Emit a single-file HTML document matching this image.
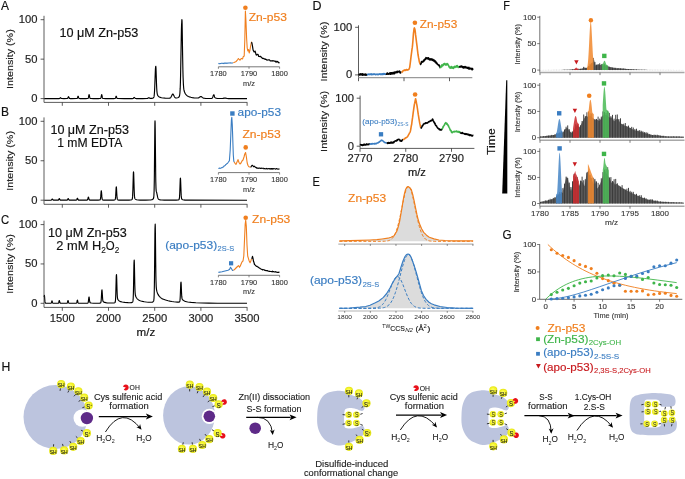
<!DOCTYPE html>
<html><head><meta charset="utf-8"><title>Figure</title>
<style>
html,body{margin:0;padding:0;background:#fff;}
body{width:685px;height:479px;overflow:hidden;}
svg{display:block;font-family:"Liberation Sans",sans-serif;will-change:transform;}
</style></head><body>
<svg width="685" height="479" viewBox="0 0 685 479">
<rect width="685" height="479" fill="#fff"/>
<polyline points="44.20,98.60 59.20,98.57 59.50,98.52 59.70,98.44 59.90,98.27 60.30,97.76 60.50,97.65 60.70,97.76 61.20,98.36 61.40,98.49 61.60,98.54 63.90,98.59 67.10,98.54 67.50,98.44 67.70,98.26 67.90,97.91 68.30,96.86 68.40,96.69 68.50,96.62 68.60,96.69 68.70,96.86 69.20,98.11 69.40,98.37 69.70,98.52 70.30,98.56 71.90,98.58 76.60,98.54 77.00,98.46 77.30,98.20 77.50,97.78 77.90,96.51 78.00,96.30 78.10,96.23 78.20,96.30 78.30,96.51 78.80,98.02 79.00,98.32 79.30,98.50 80.10,98.56 82.20,98.58 85.90,98.57 87.50,98.52 87.80,98.47 88.00,98.38 88.20,98.15 88.30,97.93 88.50,97.23 88.90,95.12 89.00,94.77 89.10,94.65 89.20,94.77 89.30,95.12 89.70,97.23 90.00,98.15 90.10,98.29 90.30,98.43 91.00,98.54 93.30,98.58 98.40,98.57 99.90,98.53 100.50,98.43 100.70,98.29 100.80,98.15 101.00,97.63 101.50,95.12 101.60,94.77 101.70,94.65 101.80,94.77 101.90,95.12 102.30,97.23 102.50,97.93 102.60,98.15 102.80,98.38 103.10,98.49 103.50,98.53 105.50,98.58 111.00,98.59 113.80,98.57 114.90,98.52 115.20,98.41 115.40,98.20 115.60,97.77 116.00,96.51 116.10,96.30 116.20,96.23 116.30,96.30 116.40,96.51 116.80,97.77 117.00,98.20 117.30,98.46 117.80,98.55 124.00,98.59 132.70,98.55 133.10,98.48 133.40,98.32 134.10,97.49 134.30,97.40 134.50,97.49 135.00,98.12 135.30,98.38 135.60,98.50 136.10,98.55 142.70,98.56 147.00,98.50 147.40,98.45 147.70,98.35 148.50,97.82 148.80,97.71 149.10,97.80 149.80,98.26 150.30,98.39 151.60,98.34 152.80,98.13 153.40,97.85 153.60,97.66 153.80,97.32 154.00,96.67 154.10,96.16 154.30,94.55 154.50,91.87 154.70,87.84 155.40,69.23 155.50,67.95 155.60,67.51 155.70,66.40 155.80,66.29 155.90,67.03 156.00,68.43 156.50,83.67 156.70,88.07 156.90,91.09 157.10,93.00 157.30,94.15 157.60,95.12 158.00,95.82 158.60,96.47 159.40,97.03 160.30,97.42 161.50,97.74 163.10,97.99 165.20,98.16 167.80,98.24 169.40,98.18 169.80,98.10 170.20,97.94 170.50,97.72 170.80,97.40 171.30,96.57 172.30,94.44 172.60,94.08 172.80,94.00 173.00,94.07 173.30,94.43 174.20,96.31 174.60,97.03 174.90,97.42 175.30,97.75 175.60,97.89 175.90,97.96 176.70,97.95 177.60,97.77 178.40,97.44 178.90,97.05 179.20,96.65 179.40,96.21 179.60,95.47 179.90,93.25 180.20,88.40 180.40,82.82 180.60,74.86 181.40,29.92 181.60,23.94 181.70,23.15 181.80,20.50 181.90,19.65 182.00,20.40 182.10,22.48 182.60,54.49 182.90,70.20 183.10,77.59 183.40,84.57 183.70,88.24 183.90,89.66 184.20,91.04 184.60,92.24 185.00,93.12 185.50,93.98 186.00,94.66 186.70,95.38 187.50,95.98 188.40,96.48 189.50,96.92 190.80,97.29 192.30,97.58 194.10,97.83 196.10,98.00 197.40,98.03 198.30,97.90 199.00,97.60 200.30,96.73 200.60,96.61 200.90,96.58 201.20,96.64 201.50,96.78 202.60,97.61 203.10,97.93 203.60,98.14 204.20,98.29 205.30,98.39 207.80,98.45 210.50,98.47 211.70,98.40 212.00,98.31 212.20,98.18 212.50,97.77 212.80,97.04 213.30,95.45 213.50,95.08 213.60,95.03 213.70,94.84 213.80,94.76 213.90,94.78 214.00,94.88 214.60,96.94 214.80,97.38 215.00,97.67 215.30,97.93 215.60,98.06 216.20,98.21 217.10,98.34 219.30,98.49 222.00,98.51 222.90,98.43 224.40,98.09 225.00,98.02 225.60,98.09 227.20,98.46 228.50,98.56 247.00,98.59" fill="none" stroke="#000" stroke-width="1.15" stroke-linejoin="round"/>
<line x1="44.00" y1="15.80" x2="44.00" y2="102.40" stroke="#333" stroke-width="0.8"/>
<line x1="44.00" y1="102.40" x2="247.30" y2="102.40" stroke="#333" stroke-width="0.8"/>
<line x1="40.60" y1="19.70" x2="44.00" y2="19.70" stroke="#333" stroke-width="0.8"/>
<text x="18.89" y="23.20" font-size="10.29" fill="#222" textLength="18.71" lengthAdjust="spacingAndGlyphs" stroke="#222" stroke-width="0.16">100</text>
<line x1="40.60" y1="59.15" x2="44.00" y2="59.15" stroke="#333" stroke-width="0.8"/>
<text x="25.13" y="62.65" font-size="10.29" fill="#222" textLength="12.47" lengthAdjust="spacingAndGlyphs" stroke="#222" stroke-width="0.16">50</text>
<line x1="40.60" y1="98.60" x2="44.00" y2="98.60" stroke="#333" stroke-width="0.8"/>
<text x="31.36" y="102.10" font-size="10.29" fill="#222" textLength="6.24" lengthAdjust="spacingAndGlyphs" stroke="#222" stroke-width="0.16">0</text>
<line x1="62.30" y1="102.40" x2="62.30" y2="105.80" stroke="#333" stroke-width="0.8"/>
<line x1="108.50" y1="102.40" x2="108.50" y2="105.80" stroke="#333" stroke-width="0.8"/>
<line x1="154.70" y1="102.40" x2="154.70" y2="105.80" stroke="#333" stroke-width="0.8"/>
<line x1="200.90" y1="102.40" x2="200.90" y2="105.80" stroke="#333" stroke-width="0.8"/>
<line x1="247.10" y1="102.40" x2="247.10" y2="105.80" stroke="#333" stroke-width="0.8"/>
<text x="-16.60" y="59.10" font-size="9.97" fill="#222" textLength="59.60" lengthAdjust="spacingAndGlyphs" transform="rotate(-90 13.20 59.10)" stroke="#222" stroke-width="0.16">Intensity (%)</text>
<text x="1.00" y="10.00" font-size="12.29" fill="#111" textLength="8.00" lengthAdjust="spacingAndGlyphs" stroke="#111" stroke-width="0.16">A</text>
<text x="59.40" y="37.10" font-size="12.39" fill="#111" textLength="79.00" lengthAdjust="spacingAndGlyphs" stroke="#111" stroke-width="0.16">10 μM Zn-p53</text>
<polyline points="44.20,200.20 51.10,200.15 51.40,200.06 51.60,199.91 52.10,199.15 52.30,199.01 52.50,199.15 53.00,199.91 53.20,200.06 53.40,200.13 55.10,200.19 58.00,200.15 58.30,200.07 58.50,199.93 58.70,199.65 59.10,198.81 59.20,198.67 59.30,198.62 59.40,198.67 59.50,198.81 59.90,199.65 60.10,199.93 60.30,200.07 60.60,200.15 64.50,200.19 67.00,200.13 67.30,200.02 67.50,199.81 68.00,198.81 68.10,198.67 68.20,198.62 68.30,198.67 68.40,198.81 68.90,199.81 69.10,200.02 69.40,200.13 71.60,200.19 75.90,200.15 76.30,200.09 76.60,199.86 76.80,199.51 77.20,198.46 77.30,198.28 77.40,198.22 77.50,198.28 77.60,198.46 78.10,199.71 78.30,199.97 78.60,200.11 79.30,200.17 81.40,200.19 86.80,200.13 87.30,200.02 87.50,199.83 87.60,199.66 87.80,199.10 88.20,197.41 88.30,197.14 88.40,197.04 88.50,197.14 88.60,197.41 89.00,199.10 89.20,199.66 89.40,199.95 89.70,200.09 91.20,200.17 95.60,200.18 98.20,200.14 99.50,200.05 99.90,199.95 100.10,199.81 100.20,199.67 100.40,199.12 100.50,198.60 100.70,196.92 101.10,191.86 101.20,191.02 101.30,190.72 101.40,191.02 101.50,191.86 101.90,196.92 102.10,198.60 102.30,199.46 102.40,199.67 102.60,199.89 102.90,200.01 103.50,200.09 105.80,200.16 112.10,200.15 113.50,200.10 114.40,200.00 114.80,199.89 115.10,199.65 115.30,199.15 115.40,198.66 115.60,196.91 115.70,195.55 116.10,188.38 116.20,187.20 116.30,186.78 116.40,187.20 116.50,188.38 116.90,195.55 117.10,197.94 117.30,199.14 117.40,199.45 117.60,199.76 118.00,199.96 118.80,200.07 122.10,200.16 129.00,200.10 130.50,200.01 131.40,199.83 131.90,199.58 132.10,199.35 132.20,199.15 132.40,198.33 132.60,196.38 132.90,189.46 133.30,174.97 133.40,172.69 133.50,171.87 133.60,172.16 133.70,173.98 134.20,190.98 134.40,195.14 134.50,196.39 134.70,197.81 134.90,198.46 135.10,198.80 135.40,199.11 135.80,199.39 136.20,199.59 136.70,199.75 138.00,199.99 140.00,200.11 145.60,200.13 149.80,200.02 150.90,199.92 151.70,199.78 152.30,199.59 152.80,199.31 153.10,199.03 153.40,198.60 153.60,198.07 153.70,197.61 153.90,195.78 154.10,191.12 154.30,180.82 154.40,172.81 154.80,130.53 154.90,123.52 155.00,120.92 155.10,122.18 155.20,128.00 155.70,175.86 155.80,181.71 156.00,188.36 156.20,190.87 156.30,191.40 156.80,193.02 157.60,196.96 157.80,197.72 158.10,198.53 158.30,198.88 158.60,199.22 158.90,199.42 159.30,199.60 160.40,199.87 161.90,200.03 164.20,200.12 171.00,200.16 176.20,200.11 178.00,199.97 178.60,199.82 178.90,199.64 179.10,199.38 179.30,198.75 179.50,197.23 179.60,195.91 179.80,191.83 180.20,180.55 180.30,178.77 180.40,178.14 180.50,178.47 180.60,179.97 181.10,193.29 181.20,195.14 181.40,197.46 181.60,198.54 181.80,199.02 182.00,199.26 182.20,199.42 182.90,199.74 183.80,199.94 184.90,200.06 186.50,200.14 189.00,200.17 247.00,200.20" fill="none" stroke="#000" stroke-width="1.15" stroke-linejoin="round"/>
<line x1="44.00" y1="117.40" x2="44.00" y2="204.30" stroke="#333" stroke-width="0.8"/>
<line x1="44.00" y1="204.30" x2="247.30" y2="204.30" stroke="#333" stroke-width="0.8"/>
<line x1="40.60" y1="121.30" x2="44.00" y2="121.30" stroke="#333" stroke-width="0.8"/>
<text x="18.89" y="124.80" font-size="10.29" fill="#222" textLength="18.71" lengthAdjust="spacingAndGlyphs" stroke="#222" stroke-width="0.16">100</text>
<line x1="40.60" y1="160.75" x2="44.00" y2="160.75" stroke="#333" stroke-width="0.8"/>
<text x="25.13" y="164.25" font-size="10.29" fill="#222" textLength="12.47" lengthAdjust="spacingAndGlyphs" stroke="#222" stroke-width="0.16">50</text>
<line x1="40.60" y1="200.20" x2="44.00" y2="200.20" stroke="#333" stroke-width="0.8"/>
<text x="31.36" y="203.70" font-size="10.29" fill="#222" textLength="6.24" lengthAdjust="spacingAndGlyphs" stroke="#222" stroke-width="0.16">0</text>
<line x1="62.30" y1="204.30" x2="62.30" y2="207.70" stroke="#333" stroke-width="0.8"/>
<line x1="108.50" y1="204.30" x2="108.50" y2="207.70" stroke="#333" stroke-width="0.8"/>
<line x1="154.70" y1="204.30" x2="154.70" y2="207.70" stroke="#333" stroke-width="0.8"/>
<line x1="200.90" y1="204.30" x2="200.90" y2="207.70" stroke="#333" stroke-width="0.8"/>
<line x1="247.10" y1="204.30" x2="247.10" y2="207.70" stroke="#333" stroke-width="0.8"/>
<text x="-16.60" y="160.85" font-size="9.97" fill="#222" textLength="59.60" lengthAdjust="spacingAndGlyphs" transform="rotate(-90 13.20 160.85)" stroke="#222" stroke-width="0.16">Intensity (%)</text>
<text x="1.00" y="116.00" font-size="12.29" fill="#111" textLength="8.03" lengthAdjust="spacingAndGlyphs" stroke="#111" stroke-width="0.16">B</text>
<text x="50.40" y="134.10" font-size="12.39" fill="#111" textLength="78.50" lengthAdjust="spacingAndGlyphs" stroke="#111" stroke-width="0.16">10 μM Zn-p53</text>
<text x="57.20" y="147.40" font-size="12.39" fill="#111" textLength="65.20" lengthAdjust="spacingAndGlyphs" stroke="#111" stroke-width="0.16">1 mM EDTA</text>
<polyline points="44.20,297.01 44.30,295.86 44.40,295.43 44.50,295.86 44.90,301.13 45.10,302.51 45.20,302.81 45.40,303.06 45.60,303.14 46.00,303.21 47.10,303.26 49.30,303.27 50.60,303.24 51.00,303.18 51.20,303.04 51.40,302.68 51.80,301.29 51.90,301.03 52.00,300.93 52.10,301.03 52.20,301.29 52.60,302.68 52.80,303.04 53.00,303.18 53.40,303.25 54.70,303.28 57.10,303.27 58.10,303.22 58.40,303.10 58.60,302.83 58.80,302.25 59.10,300.96 59.20,300.65 59.30,300.54 59.40,300.65 59.50,300.96 59.90,302.58 60.10,303.00 60.30,303.16 60.70,303.24 61.90,303.28 65.20,303.28 66.70,303.23 67.10,303.10 67.30,302.83 67.50,302.25 67.80,300.96 67.90,300.65 68.00,300.54 68.10,300.65 68.20,300.96 68.50,302.25 68.70,302.83 68.90,303.10 69.10,303.20 69.70,303.26 71.30,303.28 76.00,303.23 76.40,303.14 76.60,302.95 76.70,302.76 76.90,302.10 77.20,300.63 77.30,300.27 77.40,300.14 77.50,300.27 77.60,300.63 77.90,302.10 78.10,302.76 78.30,303.07 78.50,303.18 79.50,303.26 82.30,303.28 85.90,303.26 87.40,303.18 87.70,303.12 87.90,303.00 88.10,302.70 88.20,302.40 88.40,301.34 88.80,297.85 88.90,297.24 89.00,297.02 89.10,297.09 89.20,297.56 89.60,300.88 89.80,301.98 90.00,302.51 90.30,302.79 90.70,302.92 91.40,303.05 93.50,303.20 97.30,303.24 99.70,303.14 100.30,303.03 100.60,302.87 100.80,302.56 101.00,301.78 101.20,300.06 101.30,298.72 101.70,291.65 101.80,290.48 101.90,290.06 102.00,289.98 102.20,291.91 102.50,297.05 102.70,299.53 102.90,300.83 103.10,301.42 103.30,301.71 103.90,302.12 104.70,302.43 105.80,302.68 107.10,302.86 109.30,303.00 111.80,303.05 113.40,302.99 114.40,302.81 114.90,302.55 115.10,302.29 115.20,302.04 115.40,300.99 115.50,299.97 115.70,296.28 115.80,293.41 116.20,278.28 116.30,275.79 116.40,274.90 116.50,274.57 116.60,275.92 116.70,278.44 117.00,289.31 117.20,294.62 117.30,296.27 117.50,298.18 117.70,299.05 117.90,299.52 118.20,299.98 118.60,300.43 119.00,300.77 119.50,301.10 120.10,301.41 120.70,301.65 122.20,302.05 123.40,302.26 124.80,302.43 128.20,302.67 129.60,302.70 130.70,302.67 131.40,302.59 132.00,302.43 132.50,302.12 132.70,301.85 132.80,301.62 133.00,300.66 133.20,298.20 133.40,292.74 133.50,288.50 133.90,266.13 134.00,262.45 134.20,260.03 134.30,261.46 134.40,264.64 134.80,284.85 135.00,290.80 135.10,292.54 135.30,294.54 135.50,295.54 135.90,296.69 136.30,297.49 136.80,298.25 137.30,298.85 137.90,299.41 138.60,299.92 139.30,300.31 140.10,300.67 141.10,301.02 142.60,301.41 144.30,301.74 146.40,302.03 148.50,302.22 150.20,302.30 151.40,302.27 152.30,302.12 152.90,301.86 153.20,301.62 153.50,301.22 153.70,300.72 153.80,300.29 154.00,298.52 154.20,293.99 154.40,283.97 154.50,276.17 154.90,235.03 155.00,228.26 155.20,224.17 155.30,227.09 155.40,233.20 155.70,262.10 155.90,276.58 156.00,281.10 156.20,286.34 156.40,288.76 156.60,290.08 156.90,291.40 157.40,292.98 158.00,294.36 158.60,295.41 159.40,296.46 160.30,297.36 161.00,297.91 161.70,298.38 162.60,298.87 163.50,299.29 165.60,300.07 168.20,300.78 169.90,301.15 171.80,301.49 173.80,301.78 175.80,302.01 177.30,302.13 178.40,302.15 179.10,302.07 179.50,301.89 179.70,301.62 179.90,300.89 180.10,299.11 180.30,295.57 180.70,284.92 180.80,283.17 181.00,282.07 181.10,282.81 181.20,284.38 181.50,291.93 181.70,295.74 181.80,296.94 182.00,298.34 182.20,299.00 182.40,299.38 182.70,299.77 183.10,300.17 183.60,300.55 184.10,300.85 184.80,301.17 185.50,301.43 186.60,301.72 187.90,301.98 191.20,302.40 195.90,302.74 201.90,302.99 208.70,303.14 217.30,303.23 247.00,303.29" fill="none" stroke="#000" stroke-width="1.15" stroke-linejoin="round"/>
<line x1="44.00" y1="220.70" x2="44.00" y2="307.40" stroke="#333" stroke-width="0.8"/>
<line x1="44.00" y1="307.40" x2="247.30" y2="307.40" stroke="#333" stroke-width="0.8"/>
<line x1="40.60" y1="224.60" x2="44.00" y2="224.60" stroke="#333" stroke-width="0.8"/>
<text x="18.89" y="228.10" font-size="10.29" fill="#222" textLength="18.71" lengthAdjust="spacingAndGlyphs" stroke="#222" stroke-width="0.16">100</text>
<line x1="40.60" y1="263.95" x2="44.00" y2="263.95" stroke="#333" stroke-width="0.8"/>
<text x="25.13" y="267.45" font-size="10.29" fill="#222" textLength="12.47" lengthAdjust="spacingAndGlyphs" stroke="#222" stroke-width="0.16">50</text>
<line x1="40.60" y1="303.30" x2="44.00" y2="303.30" stroke="#333" stroke-width="0.8"/>
<text x="31.36" y="306.80" font-size="10.29" fill="#222" textLength="6.24" lengthAdjust="spacingAndGlyphs" stroke="#222" stroke-width="0.16">0</text>
<line x1="62.30" y1="307.40" x2="62.30" y2="310.80" stroke="#333" stroke-width="0.8"/>
<text x="49.83" y="321.90" font-size="10.29" fill="#222" textLength="24.94" lengthAdjust="spacingAndGlyphs" stroke="#222" stroke-width="0.16">1500</text>
<line x1="108.50" y1="307.40" x2="108.50" y2="310.80" stroke="#333" stroke-width="0.8"/>
<text x="96.03" y="321.90" font-size="10.29" fill="#222" textLength="24.94" lengthAdjust="spacingAndGlyphs" stroke="#222" stroke-width="0.16">2000</text>
<line x1="154.70" y1="307.40" x2="154.70" y2="310.80" stroke="#333" stroke-width="0.8"/>
<text x="142.23" y="321.90" font-size="10.29" fill="#222" textLength="24.94" lengthAdjust="spacingAndGlyphs" stroke="#222" stroke-width="0.16">2500</text>
<line x1="200.90" y1="307.40" x2="200.90" y2="310.80" stroke="#333" stroke-width="0.8"/>
<text x="188.43" y="321.90" font-size="10.29" fill="#222" textLength="24.94" lengthAdjust="spacingAndGlyphs" stroke="#222" stroke-width="0.16">3000</text>
<line x1="247.10" y1="307.40" x2="247.10" y2="310.80" stroke="#333" stroke-width="0.8"/>
<text x="234.63" y="321.90" font-size="10.29" fill="#222" textLength="24.94" lengthAdjust="spacingAndGlyphs" stroke="#222" stroke-width="0.16">3500</text>
<text x="-16.60" y="264.05" font-size="9.97" fill="#222" textLength="59.60" lengthAdjust="spacingAndGlyphs" transform="rotate(-90 13.20 264.05)" stroke="#222" stroke-width="0.16">Intensity (%)</text>
<text x="1.00" y="224.30" font-size="12.29" fill="#111" textLength="8.17" lengthAdjust="spacingAndGlyphs" stroke="#111" stroke-width="0.16">C</text>
<text x="48.00" y="236.60" font-size="12.39" fill="#111" textLength="78.80" lengthAdjust="spacingAndGlyphs" stroke="#111" stroke-width="0.16">10 μM Zn-p53</text>
<text x="56.30" y="250.00" font-size="12.39" fill="#111" textLength="44.87" lengthAdjust="spacingAndGlyphs" stroke="#111" stroke-width="0.16">2 mM H</text>
<text x="101.17" y="253.00" font-size="8.40" fill="#111" textLength="4.60" lengthAdjust="spacingAndGlyphs" stroke="#111" stroke-width="0.1">2</text>
<text x="105.77" y="250.00" font-size="12.39" fill="#111" textLength="8.90" lengthAdjust="spacingAndGlyphs" stroke="#111" stroke-width="0.16">O</text>
<text x="114.67" y="253.00" font-size="8.40" fill="#111" textLength="4.60" lengthAdjust="spacingAndGlyphs" stroke="#111" stroke-width="0.1">2</text>
<text x="136.64" y="335.50" font-size="10.71" fill="#111" textLength="18.73" lengthAdjust="spacingAndGlyphs" stroke="#111" stroke-width="0.16">m/z</text>
<line x1="218.40" y1="66.80" x2="279.60" y2="66.80" stroke="#555" stroke-width="0.8"/>
<line x1="218.40" y1="66.80" x2="218.40" y2="68.80" stroke="#555" stroke-width="0.7"/>
<text x="210.13" y="76.00" font-size="6.83" fill="#333" textLength="16.54" lengthAdjust="spacingAndGlyphs" stroke="#333" stroke-width="0.1">1780</text>
<line x1="249.00" y1="66.80" x2="249.00" y2="68.80" stroke="#555" stroke-width="0.7"/>
<text x="240.73" y="76.00" font-size="6.83" fill="#333" textLength="16.54" lengthAdjust="spacingAndGlyphs" stroke="#333" stroke-width="0.1">1790</text>
<line x1="279.60" y1="66.80" x2="279.60" y2="68.80" stroke="#555" stroke-width="0.7"/>
<text x="271.33" y="76.00" font-size="6.83" fill="#333" textLength="16.54" lengthAdjust="spacingAndGlyphs" stroke="#333" stroke-width="0.1">1800</text>
<text x="243.03" y="85.80" font-size="6.83" fill="#333" textLength="11.93" lengthAdjust="spacingAndGlyphs" stroke="#333" stroke-width="0.1">m/z</text>
<polyline points="218.40,63.64 218.90,63.42 219.40,63.79 219.90,63.74 220.40,63.49 220.90,63.57 221.40,63.32 221.90,63.30 222.40,63.31 222.90,63.49 223.40,63.23 223.90,63.59 224.40,63.11 224.90,63.15 225.40,63.07 225.90,63.38 226.40,63.15 226.90,63.17 227.40,63.07 227.90,63.19 228.40,63.05 228.90,62.92 229.40,63.00 229.90,62.91 230.40,62.78 230.90,63.11 231.40,63.01 231.90,62.97 232.40,63.05 232.90,62.77" fill="none" stroke="#3A7DC2" stroke-width="1.1" stroke-linejoin="round"/>
<polyline points="233.30,62.80 234.50,62.30 236.20,61.40 237.50,59.80 238.40,58.50 239.20,59.50 240.00,60.20 240.80,59.00 241.50,58.50 242.60,58.90 243.20,56.70 244.20,56.00 244.80,40.00 245.40,11.00 246.00,22.00 246.60,38.00 247.20,48.00 247.80,51.00 248.50,49.50 249.20,53.00 250.00,50.00 250.60,46.00 251.60,41.60" fill="none" stroke="#F07F1E" stroke-width="1.1" stroke-linejoin="round"/>
<polyline points="251.60,42.08 252.10,44.00 252.60,46.85 253.10,50.01 253.60,50.99 254.10,51.96 254.60,51.95 255.10,51.04 255.60,52.90 256.10,54.76 256.60,55.09 257.10,54.57 257.60,54.28 258.10,54.47 258.60,56.33 259.10,56.49 259.60,56.53 260.10,56.24 260.60,56.23 261.10,57.16 261.60,57.36 262.10,58.03 262.60,58.45 263.10,58.54 263.60,58.34 264.10,58.84 264.60,58.87 265.10,59.38 265.60,59.05 266.10,59.39 266.60,59.73 267.10,60.22 267.60,60.02 268.10,59.99 268.60,59.84 269.10,59.95 269.60,59.96 270.10,60.81 270.60,60.84 271.10,60.97 271.60,60.73 272.10,61.03 272.60,60.72 273.10,61.00 273.60,60.77 274.10,61.14 274.60,61.07 275.10,61.02 275.60,61.94 276.10,61.22 276.60,62.03 277.10,62.02 277.60,61.51 278.10,62.02 278.60,62.68 279.10,62.83 279.60,62.56" fill="none" stroke="#000" stroke-width="1.2" stroke-linejoin="round"/>
<circle cx="245.40" cy="7.80" r="2.30" fill="#F07F1E"/>
<text x="248.70" y="21.20" font-size="10.82" fill="#F07F1E" textLength="38.20" lengthAdjust="spacingAndGlyphs" stroke="#F07F1E" stroke-width="0.16">Zn-p53</text>
<line x1="218.40" y1="172.60" x2="279.60" y2="172.60" stroke="#555" stroke-width="0.8"/>
<line x1="218.40" y1="172.60" x2="218.40" y2="174.60" stroke="#555" stroke-width="0.7"/>
<text x="210.13" y="182.40" font-size="6.83" fill="#333" textLength="16.54" lengthAdjust="spacingAndGlyphs" stroke="#333" stroke-width="0.1">1780</text>
<line x1="249.00" y1="172.60" x2="249.00" y2="174.60" stroke="#555" stroke-width="0.7"/>
<text x="240.73" y="182.40" font-size="6.83" fill="#333" textLength="16.54" lengthAdjust="spacingAndGlyphs" stroke="#333" stroke-width="0.1">1790</text>
<line x1="279.60" y1="172.60" x2="279.60" y2="174.60" stroke="#555" stroke-width="0.7"/>
<text x="271.33" y="182.40" font-size="6.83" fill="#333" textLength="16.54" lengthAdjust="spacingAndGlyphs" stroke="#333" stroke-width="0.1">1800</text>
<text x="243.03" y="192.10" font-size="6.83" fill="#333" textLength="11.93" lengthAdjust="spacingAndGlyphs" stroke="#333" stroke-width="0.1">m/z</text>
<polyline points="218.40,168.40 218.90,168.44 219.40,168.08 219.90,168.14 220.40,168.34 220.90,168.16 221.40,167.78 221.90,167.73 222.40,167.27 222.90,167.31 223.40,166.78 223.90,166.07 224.40,166.00 224.90,165.56 225.40,165.13 225.90,164.40 226.40,164.24 226.90,163.58 227.40,163.41 227.90,162.72 228.40,161.99 228.90,161.18 229.40,160.83 230.20,150.00 230.80,135.00 231.40,120.00 231.80,117.40 232.30,125.00 232.80,140.00 233.30,155.00 233.80,161.00 234.20,162.00" fill="none" stroke="#3A7DC2" stroke-width="1.1" stroke-linejoin="round"/>
<polyline points="234.20,162.00 235.00,163.30 236.00,164.30 237.00,162.00 238.00,159.60 239.00,162.50 240.00,164.00 241.00,163.00 242.00,161.00 243.00,160.00 244.00,157.00 244.80,154.00 245.60,152.50 246.40,157.00 247.20,163.00 248.00,165.50 249.00,166.80 250.50,167.20" fill="none" stroke="#F07F1E" stroke-width="1.1" stroke-linejoin="round"/>
<polyline points="250.50,166.87 251.00,166.87 251.50,166.08 252.00,165.37 252.50,165.42 253.00,165.93 253.50,166.76 254.00,166.34 254.50,166.18 255.00,166.97 255.50,167.38 256.00,167.34 256.50,168.15 257.00,167.69 257.50,168.10 258.00,168.49 258.50,168.03 259.00,168.01 259.50,168.16 260.00,168.06 260.50,168.54 261.00,168.22 261.50,168.08 262.00,168.54 262.50,168.31 263.00,168.28 263.50,168.19 264.00,168.89 264.50,168.56 265.00,168.78 265.50,168.69 266.00,169.02 266.50,168.38 267.00,168.85 267.50,169.01 268.00,168.59 268.50,168.72 269.00,168.65 269.50,168.65 270.00,169.16 270.50,168.59 271.00,169.01 271.50,168.47 272.00,169.07 272.50,168.52 273.00,169.09 273.50,168.53 274.00,168.66 274.50,168.70 275.00,168.73 275.50,169.14 276.00,168.93 276.50,168.57 277.00,168.69 277.50,168.89 278.00,169.14 278.50,169.09 279.00,168.97 279.50,169.24" fill="none" stroke="#000" stroke-width="1.1" stroke-linejoin="round"/>
<rect x="230.20" y="111.30" width="4.40" height="4.40" fill="#3A7DC2"/>
<text x="237.60" y="116.00" font-size="10.82" fill="#3A7DC2" textLength="43.40" lengthAdjust="spacingAndGlyphs" stroke="#3A7DC2" stroke-width="0.16">apo-p53</text>
<circle cx="245.70" cy="147.40" r="2.30" fill="#F07F1E"/>
<text x="242.40" y="137.50" font-size="10.82" fill="#F07F1E" textLength="38.20" lengthAdjust="spacingAndGlyphs" stroke="#F07F1E" stroke-width="0.16">Zn-p53</text>
<line x1="218.40" y1="275.30" x2="279.60" y2="275.30" stroke="#555" stroke-width="0.8"/>
<line x1="218.40" y1="275.30" x2="218.40" y2="277.30" stroke="#555" stroke-width="0.7"/>
<text x="210.13" y="284.60" font-size="6.83" fill="#333" textLength="16.54" lengthAdjust="spacingAndGlyphs" stroke="#333" stroke-width="0.1">1780</text>
<line x1="249.00" y1="275.30" x2="249.00" y2="277.30" stroke="#555" stroke-width="0.7"/>
<text x="240.73" y="284.60" font-size="6.83" fill="#333" textLength="16.54" lengthAdjust="spacingAndGlyphs" stroke="#333" stroke-width="0.1">1790</text>
<line x1="279.60" y1="275.30" x2="279.60" y2="277.30" stroke="#555" stroke-width="0.7"/>
<text x="271.33" y="284.60" font-size="6.83" fill="#333" textLength="16.54" lengthAdjust="spacingAndGlyphs" stroke="#333" stroke-width="0.1">1800</text>
<text x="243.03" y="293.60" font-size="6.83" fill="#333" textLength="11.93" lengthAdjust="spacingAndGlyphs" stroke="#333" stroke-width="0.1">m/z</text>
<polyline points="218.40,272.40 222.00,271.80 225.00,271.00 228.00,270.20 229.50,269.50 230.50,267.30 231.50,268.80 232.50,270.50 233.50,270.30" fill="none" stroke="#3A7DC2" stroke-width="1.1" stroke-linejoin="round"/>
<polyline points="233.50,270.30 235.00,269.00 236.50,267.50 237.50,266.50 238.60,265.60 239.50,267.30 240.30,266.00 241.50,263.00 242.30,261.50 243.00,261.00 243.80,256.00 244.50,240.00 245.20,224.00 245.70,220.30 246.30,226.00 247.00,245.00 247.70,256.00 248.40,258.30 249.20,261.00 250.10,262.70 250.80,261.00 251.50,259.00" fill="none" stroke="#F07F1E" stroke-width="1.1" stroke-linejoin="round"/>
<polyline points="251.50,258.67 252.00,258.12 252.50,256.37 253.00,258.28 253.50,261.31 254.00,262.58 254.50,264.51 255.00,264.89 255.50,265.35 256.00,266.01 256.50,266.38 257.00,266.33 257.50,266.68 258.00,266.93 258.50,267.47 259.00,267.74 259.50,268.09 260.00,268.33 260.50,268.80 261.00,269.06 261.50,269.29 262.00,269.35 262.50,269.92 263.00,269.54 263.50,269.74 264.00,269.73 264.50,270.15 265.00,270.41 265.50,270.44 266.00,270.63 266.50,270.64 267.00,270.71 267.50,270.53 268.00,271.12 268.50,271.24 269.00,271.16 269.50,271.45 270.00,271.47 270.50,271.52 271.00,271.50 271.50,271.60 272.00,271.57 272.50,271.24 273.00,271.80 273.50,271.52 274.00,271.78 274.50,272.02 275.00,271.80 275.50,271.68 276.00,271.92 276.50,272.19 277.00,272.21 277.50,272.36 278.00,272.35 278.50,272.32 279.00,272.14 279.50,271.97" fill="none" stroke="#000" stroke-width="1.2" stroke-linejoin="round"/>
<circle cx="245.70" cy="217.80" r="2.30" fill="#F07F1E"/>
<text x="252.10" y="222.80" font-size="10.82" fill="#F07F1E" textLength="38.20" lengthAdjust="spacingAndGlyphs" stroke="#F07F1E" stroke-width="0.16">Zn-p53</text>
<rect x="229.00" y="261.20" width="4.20" height="4.20" fill="#3A7DC2"/>
<text x="165.20" y="248.70" font-size="10.92" fill="#3A7DC2" textLength="52.00" lengthAdjust="spacingAndGlyphs" stroke="#3A7DC2" stroke-width="0.16">(apo-p53)</text>
<text x="217.60" y="251.00" font-size="7.35" fill="#3A7DC2" textLength="16.50" lengthAdjust="spacingAndGlyphs" stroke="#3A7DC2" stroke-width="0.1">2S-S</text>
<text x="312.60" y="10.00" font-size="12.29" fill="#111" textLength="9.01" lengthAdjust="spacingAndGlyphs" stroke="#111" stroke-width="0.16">D</text>
<line x1="358.50" y1="25.30" x2="358.50" y2="77.70" stroke="#333" stroke-width="0.8"/>
<line x1="358.50" y1="77.70" x2="472.30" y2="77.70" stroke="#9a9a9a" stroke-width="1.2"/>
<line x1="355.10" y1="27.30" x2="358.50" y2="27.30" stroke="#333" stroke-width="0.8"/>
<text x="333.49" y="30.80" font-size="10.29" fill="#222" textLength="18.71" lengthAdjust="spacingAndGlyphs" stroke="#222" stroke-width="0.16">100</text>
<line x1="355.10" y1="74.90" x2="358.50" y2="74.90" stroke="#333" stroke-width="0.8"/>
<text x="345.96" y="78.40" font-size="10.29" fill="#222" textLength="6.24" lengthAdjust="spacingAndGlyphs" stroke="#222" stroke-width="0.16">0</text>
<line x1="358.50" y1="77.70" x2="358.50" y2="81.20" stroke="#333" stroke-width="0.8"/>
<line x1="404.00" y1="77.70" x2="404.00" y2="81.20" stroke="#333" stroke-width="0.8"/>
<line x1="449.50" y1="77.70" x2="449.50" y2="81.20" stroke="#333" stroke-width="0.8"/>
<text x="296.60" y="51.60" font-size="9.97" fill="#222" textLength="60.00" lengthAdjust="spacingAndGlyphs" transform="rotate(-90 326.60 51.60)" stroke="#222" stroke-width="0.16">Intensity (%)</text>
<polyline points="358.60,74.91 358.90,74.62 359.20,74.80 359.50,74.14 359.80,75.05 360.10,75.01 360.40,74.67 360.70,73.82 361.00,74.33 361.30,74.05 361.60,73.96 361.90,75.11 362.20,75.21 362.50,73.72 362.80,75.06 363.10,74.68 363.40,74.35 363.70,74.22 364.00,74.88 364.30,74.52 364.60,74.88 364.90,74.83 365.20,73.97 365.50,74.98 365.80,75.31 366.10,75.28 366.40,74.70 366.70,73.78" fill="none" stroke="#000" stroke-width="1.6" stroke-linejoin="round"/>
<polyline points="366.90,74.46 367.20,74.53 367.50,74.80 367.80,74.41 368.10,74.43 368.40,74.47 368.70,74.13 369.00,74.37 369.30,74.45 369.60,74.56 369.90,73.98 370.20,74.15 370.50,73.98 370.80,74.56 371.10,74.48 371.40,73.96 371.70,74.72 372.00,74.71 372.30,74.47 372.60,74.44 372.90,74.08 373.20,73.98 373.50,74.39 373.80,74.02 374.10,74.13 374.40,74.18 374.70,74.02 375.00,74.37 375.30,74.34 375.60,74.65 375.90,74.38 376.20,74.46 376.50,74.34 376.80,74.46 377.10,74.28 377.40,74.13 377.70,74.69 378.00,74.68 378.30,74.54 378.60,74.42 378.90,74.10 379.20,74.02 379.50,74.05 379.80,73.86 380.10,74.41 380.40,74.10 380.70,74.44 381.00,74.06 381.30,74.50 381.60,74.40 381.90,73.71 382.20,73.86 382.50,74.40 382.80,74.04 383.10,74.43 383.40,73.95 383.70,73.67 384.00,74.10 384.30,74.21 384.60,73.79 384.90,73.62 385.20,73.81 385.50,74.30 385.80,74.12" fill="none" stroke="#3A7DC2" stroke-width="1.6" stroke-linejoin="round"/>
<polyline points="386.00,73.86 386.30,74.13 386.60,74.12 386.90,73.26 387.20,73.03 387.50,73.59 387.80,73.41 388.10,74.24 388.40,74.03 388.70,73.87 389.00,73.77 389.30,73.92 389.60,73.07 389.90,73.52 390.20,73.05 390.50,74.22 390.80,72.85 391.10,74.04 391.40,72.83 391.70,73.76 392.00,73.14 392.30,73.19 392.60,73.83 392.90,72.45 393.20,72.46 393.50,73.76 393.80,73.05 394.10,72.33 394.40,73.70 394.70,73.57 395.00,72.18 395.30,72.57 395.60,72.01 395.90,72.19 396.20,72.57 396.50,71.74 396.80,72.48 397.10,71.35 397.40,71.44 397.70,72.37 398.00,71.61 398.30,71.54 398.60,71.72 398.90,71.50 399.20,71.48 399.50,71.04 399.80,72.28 400.10,72.78 400.40,72.90 400.70,72.50 401.00,72.10 401.30,72.21" fill="none" stroke="#000" stroke-width="1.6" stroke-linejoin="round"/>
<polyline points="401.50,72.31 401.80,72.35 402.10,72.05 402.40,71.88 402.70,71.05 403.00,70.78 403.30,70.56 403.60,70.46 403.90,70.70 404.20,70.06 404.50,70.29 404.80,69.98 405.10,69.99 405.40,70.05 405.70,70.32 406.00,70.09 406.30,69.56 406.60,69.73 406.90,69.58 407.20,70.11 407.50,70.01 407.80,69.96 408.10,69.83 408.40,69.58 408.70,69.55 409.00,69.24 409.30,68.16 409.60,67.99 409.90,65.87 410.20,63.67 410.50,61.09 410.80,58.56 411.10,56.13 411.40,53.90 411.70,51.53 412.00,49.09 412.30,47.38 412.60,44.58 412.90,40.95 413.20,36.93 413.50,33.04 413.80,31.10 414.10,28.51 414.40,27.91 414.70,28.84 415.00,29.74 415.30,32.20 415.60,34.89 415.90,37.09 416.20,39.63 416.50,42.13 416.80,44.33 417.10,46.57 417.40,49.47 417.70,51.88 418.00,54.49 418.30,56.03 418.60,57.74 418.90,59.08 419.20,61.12 419.50,62.40 419.80,62.98 420.10,64.28" fill="none" stroke="#F07F1E" stroke-width="1.6" stroke-linejoin="round"/>
<polyline points="420.30,64.17 420.60,64.42 420.90,63.64 421.20,63.40 421.50,61.63 421.80,61.51 422.10,62.17 422.40,61.95 422.70,61.28 423.00,61.79 423.30,61.03 423.60,61.34 423.90,59.99 424.20,59.86 424.50,60.60 424.80,59.37 425.10,58.86 425.40,59.38 425.70,58.77 426.00,57.66 426.30,58.14 426.60,58.51 426.90,57.89 427.20,58.86 427.50,58.20 427.80,58.36 428.10,57.77 428.40,57.79 428.70,59.13 429.00,58.47 429.30,59.66 429.60,59.03 429.90,59.48 430.20,59.94 430.50,59.68 430.80,58.80 431.10,59.60 431.40,59.70 431.70,59.06 432.00,59.03 432.30,60.38 432.60,59.91 432.90,59.50 433.20,60.02 433.50,59.75 433.80,60.94 434.10,60.72 434.40,60.34 434.70,61.75 435.00,60.84 435.30,61.49 435.60,61.43 435.90,62.91 436.20,62.25 436.50,63.26 436.80,62.91 437.10,63.87 437.40,64.45 437.70,64.46 438.00,64.59 438.30,64.89 438.60,65.06 438.90,65.57 439.20,65.14 439.50,66.17 439.80,66.22 440.10,67.66 440.40,68.20" fill="none" stroke="#000" stroke-width="1.6" stroke-linejoin="round"/>
<polyline points="440.40,68.24 440.70,66.34 441.00,67.13 441.30,65.83 441.60,66.78 441.90,64.85 442.20,65.97 442.50,65.46 442.80,65.54 443.10,65.57 443.40,64.15 443.70,64.11 444.00,64.50 444.30,63.62 444.60,63.60 444.90,63.65 445.20,64.77 445.50,64.91 445.80,64.90 446.10,64.01 446.40,64.98 446.70,64.17 447.00,63.57 447.30,63.95 447.60,64.26 447.90,64.09 448.20,65.23 448.50,65.28 448.80,66.04 449.10,67.05 449.40,67.02 449.70,67.06 450.00,68.06 450.30,68.22 450.60,67.35 450.90,68.02 451.20,66.49 451.50,66.62 451.80,66.78 452.10,68.11 452.40,67.82 452.70,67.97 453.00,67.38 453.30,67.82 453.60,68.45 453.90,66.97 454.20,66.77 454.50,66.44 454.80,66.90 455.10,67.31 455.40,66.76 455.70,66.42 456.00,66.49 456.30,65.87 456.60,67.01 456.90,65.96 457.20,65.68 457.50,65.98 457.80,66.99 458.10,66.36 458.40,67.48 458.70,66.75 459.00,67.11" fill="none" stroke="#3FB54A" stroke-width="1.6" stroke-linejoin="round"/>
<polyline points="459.00,66.98 459.30,66.99 459.60,66.71 459.90,66.57 460.20,66.50 460.50,66.95 460.80,66.37 461.10,67.04 461.40,66.10 461.70,66.62 462.00,66.74 462.30,66.45 462.60,67.44 462.90,66.77 463.20,67.56 463.50,67.85 463.80,66.75 464.10,67.80 464.40,67.68 464.70,67.51 465.00,66.54 465.30,67.29 465.60,67.62 465.90,67.15 466.20,67.10 466.50,67.29 466.80,67.27 467.10,68.17 467.40,67.52 467.70,67.70 468.00,68.11 468.30,68.68 468.60,67.73 468.90,67.42 469.20,69.01 469.50,68.87 469.80,68.90 470.10,68.58 470.40,68.25 470.70,68.26 471.00,68.63 471.30,69.02 471.60,68.52 471.90,69.64 472.20,69.73 472.50,68.64 472.80,70.01" fill="none" stroke="#000" stroke-width="1.6" stroke-linejoin="round"/>
<circle cx="414.90" cy="22.80" r="2.30" fill="#F07F1E"/>
<text x="419.80" y="28.30" font-size="10.82" fill="#F07F1E" textLength="37.40" lengthAdjust="spacingAndGlyphs" stroke="#F07F1E" stroke-width="0.16">Zn-p53</text>
<line x1="360.10" y1="95.60" x2="360.10" y2="148.40" stroke="#333" stroke-width="0.8"/>
<line x1="360.10" y1="148.40" x2="474.40" y2="148.40" stroke="#333" stroke-width="0.8"/>
<line x1="356.70" y1="98.20" x2="360.10" y2="98.20" stroke="#333" stroke-width="0.8"/>
<text x="335.19" y="101.70" font-size="10.29" fill="#222" textLength="18.71" lengthAdjust="spacingAndGlyphs" stroke="#222" stroke-width="0.16">100</text>
<line x1="356.70" y1="146.20" x2="360.10" y2="146.20" stroke="#333" stroke-width="0.8"/>
<text x="347.66" y="149.70" font-size="10.29" fill="#222" textLength="6.24" lengthAdjust="spacingAndGlyphs" stroke="#222" stroke-width="0.16">0</text>
<line x1="360.00" y1="148.40" x2="360.00" y2="151.80" stroke="#333" stroke-width="0.8"/>
<text x="347.53" y="162.40" font-size="10.29" fill="#222" textLength="24.94" lengthAdjust="spacingAndGlyphs" stroke="#222" stroke-width="0.16">2770</text>
<line x1="405.75" y1="148.40" x2="405.75" y2="151.80" stroke="#333" stroke-width="0.8"/>
<text x="393.28" y="162.40" font-size="10.29" fill="#222" textLength="24.94" lengthAdjust="spacingAndGlyphs" stroke="#222" stroke-width="0.16">2780</text>
<line x1="451.50" y1="148.40" x2="451.50" y2="151.80" stroke="#333" stroke-width="0.8"/>
<text x="439.03" y="162.40" font-size="10.29" fill="#222" textLength="24.94" lengthAdjust="spacingAndGlyphs" stroke="#222" stroke-width="0.16">2790</text>
<text x="296.30" y="121.40" font-size="9.97" fill="#222" textLength="61.00" lengthAdjust="spacingAndGlyphs" transform="rotate(-90 326.80 121.40)" stroke="#222" stroke-width="0.16">Intensity (%)</text>
<polyline points="360.20,145.24 360.50,144.95 360.80,144.64 361.10,145.23 361.40,144.74 361.70,144.74 362.00,144.84 362.30,145.04 362.60,145.35 362.90,144.78 363.20,145.27 363.50,145.24 363.80,144.46 364.10,144.26 364.40,144.32 364.70,144.97 365.00,144.70 365.30,144.99 365.60,145.01 365.90,144.66 366.20,144.51 366.50,144.01 366.80,143.93 367.10,144.68 367.40,144.52 367.70,144.57 368.00,144.34 368.30,144.42 368.60,144.35 368.90,144.57 369.20,143.76 369.50,144.11" fill="none" stroke="#000" stroke-width="1.6" stroke-linejoin="round"/>
<polyline points="369.60,143.86 369.90,143.88 370.20,143.99 370.50,144.11 370.80,143.81 371.10,143.77 371.40,143.81 371.70,144.04 372.00,143.71 372.30,143.98 372.60,143.92 372.90,143.63 373.20,143.81 373.50,143.74 373.80,143.71 374.10,143.98 374.40,143.51 374.70,143.45 375.00,143.89 375.30,143.61 375.60,143.49 375.90,143.53 376.20,143.53 376.50,143.68 376.80,143.16 377.10,143.01 377.40,143.04 377.70,142.87 378.00,142.93 378.30,142.72 378.60,142.33 378.90,142.07 379.20,142.12 379.50,141.94 379.80,141.20 380.10,141.29 380.40,141.12 380.70,140.81 381.00,140.39 381.30,140.48 381.60,140.37 381.90,140.26 382.20,140.64 382.50,140.59 382.80,140.66 383.10,141.01 383.40,141.28 383.70,141.58 384.00,141.98 384.30,142.25 384.60,142.44 384.90,142.58 385.20,142.71 385.50,142.74 385.80,142.62 386.10,142.68 386.40,143.03 386.70,143.12" fill="none" stroke="#3A7DC2" stroke-width="1.6" stroke-linejoin="round"/>
<polyline points="386.70,142.68 387.00,142.79 387.30,142.85 387.60,143.42 387.90,142.99 388.20,143.18 388.50,142.54 388.80,142.92 389.10,143.22 389.40,142.88 389.70,143.27 390.00,143.18 390.30,142.64 390.60,142.25 390.90,142.97 391.20,142.32 391.50,142.17 391.80,142.87 392.10,142.95 392.40,142.92 392.70,143.01 393.00,142.23 393.30,142.08 393.60,141.95 393.90,142.64 394.20,141.61 394.50,141.49 394.80,141.19 395.10,141.05 395.40,140.87 395.70,141.02 396.00,140.66 396.30,140.58 396.60,140.97 396.90,139.98 397.20,140.40 397.50,140.10 397.80,139.70 398.10,139.48 398.40,139.45 398.70,139.37 399.00,139.30 399.30,139.68 399.60,139.87 399.90,140.31 400.20,141.07 400.50,140.64 400.80,140.40 401.10,140.94 401.40,141.19 401.70,140.64 402.00,140.71 402.30,139.92 402.60,139.71 402.90,140.12" fill="none" stroke="#000" stroke-width="1.6" stroke-linejoin="round"/>
<polyline points="403.00,139.94 403.30,139.74 403.60,139.60 403.90,139.10 404.20,139.06 404.50,138.96 404.80,138.74 405.10,138.15 405.40,138.15 405.70,137.92 406.00,137.66 406.30,137.69 406.60,137.26 406.90,137.02 407.20,137.06 407.50,136.70 407.80,136.21 408.10,135.64 408.40,135.15 408.70,134.35 409.00,134.05 409.30,133.52 409.60,132.76 409.90,132.37 410.20,131.81 410.50,130.67 410.80,129.08 411.10,127.13 411.40,125.44 411.70,124.24 412.00,121.63 412.30,119.33 412.60,117.41 412.90,115.08 413.20,112.60 413.50,110.57 413.80,108.41 414.10,106.30 414.40,104.28 414.70,103.14 415.00,101.62 415.30,100.25 415.60,98.74 415.90,100.11 416.20,101.48 416.50,103.31 416.80,104.65 417.10,106.45 417.40,108.35 417.70,110.49 418.00,112.59 418.30,114.71 418.60,116.38 418.90,118.29 419.20,120.05 419.50,121.85 419.80,123.49 420.10,124.81 420.40,126.23 420.70,127.59" fill="none" stroke="#F07F1E" stroke-width="1.6" stroke-linejoin="round"/>
<polyline points="420.90,128.63 421.20,127.98 421.50,127.53 421.80,126.87 422.10,126.28 422.40,125.46 422.70,125.75 423.00,124.92 423.30,124.51 423.60,124.01 423.90,124.17 424.20,123.56 424.50,123.43 424.80,123.51 425.10,123.61 425.40,123.51 425.70,122.77 426.00,122.68 426.30,122.80 426.60,123.01 426.90,123.16 427.20,122.98 427.50,122.98 427.80,122.50 428.10,122.41 428.40,121.93 428.70,121.81 429.00,121.54 429.30,121.70 429.60,121.61 429.90,121.41 430.20,121.06 430.50,120.92 430.80,120.53 431.10,120.88 431.40,120.43 431.70,120.38 432.00,120.22 432.30,119.47 432.60,119.09 432.90,119.58 433.20,120.81 433.50,121.29 433.80,121.51 434.10,122.45 434.40,122.54 434.70,123.59 435.00,123.34 435.30,124.52 435.60,125.28 435.90,125.25 436.20,125.79 436.50,125.95 436.80,126.58 437.10,127.03 437.40,127.58 437.70,127.84 438.00,128.44 438.30,128.38 438.60,128.92 438.90,128.93 439.20,128.88 439.50,129.73 439.80,129.22 440.10,129.53 440.40,129.87 440.70,129.72 441.00,129.91 441.30,129.54 441.60,129.79 441.90,128.97" fill="none" stroke="#000" stroke-width="1.6" stroke-linejoin="round"/>
<polyline points="441.90,129.45 442.20,129.01 442.50,128.37 442.80,127.85 443.10,126.64 443.40,126.68 443.70,125.77 444.00,125.51 444.30,125.07 444.60,124.80 444.90,123.70 445.20,123.35 445.50,123.26 445.80,122.69 446.10,123.20 446.40,123.16 446.70,124.11 447.00,123.51 447.30,124.65 447.60,124.73 447.90,124.81 448.20,125.89 448.50,125.77 448.80,126.61 449.10,127.36 449.40,127.84 449.70,128.51 450.00,129.07 450.30,130.32 450.60,130.03 450.90,130.58 451.20,130.97 451.50,132.28 451.80,132.39 452.10,132.73 452.40,132.75 452.70,132.15 453.00,131.91 453.30,131.78 453.60,131.52 453.90,131.73 454.20,131.99 454.50,131.40 454.80,131.54 455.10,131.60 455.40,131.59 455.70,131.48 456.00,131.40 456.30,130.99 456.60,131.32 456.90,131.84 457.20,131.49 457.50,131.81 457.80,131.46 458.10,131.86 458.40,131.57 458.70,132.21 459.00,132.31 459.30,131.63 459.60,132.40 459.90,131.94 460.20,132.91" fill="none" stroke="#3FB54A" stroke-width="1.6" stroke-linejoin="round"/>
<polyline points="460.30,132.33 460.60,133.07 460.90,133.14 461.20,133.18 461.50,133.15 461.80,133.32 462.10,132.53 462.40,133.25 462.70,132.96 463.00,133.53 463.30,133.30 463.60,133.50 463.90,133.56 464.20,133.66 464.50,133.99 464.80,134.21 465.10,133.65 465.40,134.18 465.70,134.34 466.00,133.91 466.30,133.72 466.60,134.16 466.90,134.50 467.20,134.33 467.50,134.06 467.80,134.66 468.10,134.35 468.40,135.00 468.70,134.36 469.00,134.87 469.30,134.75 469.60,135.43 469.90,134.67 470.20,135.50 470.50,135.12 470.80,135.12 471.10,135.01 471.40,135.35 471.70,135.84 472.00,135.96 472.30,135.95 472.60,135.67 472.90,135.35 473.20,135.67" fill="none" stroke="#000" stroke-width="1.6" stroke-linejoin="round"/>
<circle cx="415.10" cy="94.50" r="2.30" fill="#F07F1E"/>
<rect x="378.85" y="132.15" width="4.30" height="4.30" fill="#3A7DC2"/>
<text x="362.30" y="123.60" font-size="7.46" fill="#3A7DC2" textLength="35.00" lengthAdjust="spacingAndGlyphs" stroke="#3A7DC2" stroke-width="0.1">(apo-p53)</text>
<text x="397.60" y="125.60" font-size="5.04" fill="#3A7DC2" textLength="10.80" lengthAdjust="spacingAndGlyphs">2S-S</text>
<text x="407.90" y="175.60" font-size="10.29" fill="#111" textLength="17.99" lengthAdjust="spacingAndGlyphs" stroke="#111" stroke-width="0.16">m/z</text>
<text x="312.60" y="186.30" font-size="12.29" fill="#111" textLength="7.39" lengthAdjust="spacingAndGlyphs" stroke="#111" stroke-width="0.16">E</text>
<polygon points="339.40,241.30 339.40,240.90 350.00,240.70 360.00,240.40 370.00,240.00 376.90,239.60 382.00,239.00 387.90,238.20 391.00,237.20 394.10,235.80 396.90,231.00 398.30,226.50 399.60,221.30 400.80,214.50 402.00,207.60 403.20,200.00 404.40,193.80 405.60,189.50 406.80,187.20 407.90,186.60 409.20,187.30 410.30,188.30 411.30,189.60 412.70,194.50 414.10,200.70 415.50,207.50 416.90,214.40 418.20,219.80 419.60,224.10 421.60,228.80 423.70,232.40 426.50,235.20 429.30,237.20 434.00,238.90 438.90,240.00 445.00,240.50 455.00,240.80 473.20,240.90 473.20,241.30" fill="#dcdcdc" stroke="none" stroke-width="0"/>
<line x1="338.30" y1="244.10" x2="473.40" y2="244.10" stroke="#b4b4b4" stroke-width="1.2"/>
<line x1="344.70" y1="244.10" x2="344.70" y2="245.90" stroke="#555" stroke-width="0.7"/>
<line x1="370.34" y1="244.10" x2="370.34" y2="245.90" stroke="#555" stroke-width="0.7"/>
<line x1="395.98" y1="244.10" x2="395.98" y2="245.90" stroke="#555" stroke-width="0.7"/>
<line x1="421.62" y1="244.10" x2="421.62" y2="245.90" stroke="#555" stroke-width="0.7"/>
<line x1="447.26" y1="244.10" x2="447.26" y2="245.90" stroke="#555" stroke-width="0.7"/>
<line x1="472.90" y1="244.10" x2="472.90" y2="245.90" stroke="#555" stroke-width="0.7"/>
<polyline points="339.40,241.30 378.90,241.30 384.40,241.22 386.40,241.06 387.40,240.92 388.40,240.69 389.40,240.36 389.90,240.14 390.90,239.56 391.40,239.19 392.40,238.25 392.90,237.66 393.90,236.21 394.40,235.33 395.40,233.21 395.90,231.97 396.90,229.08 397.90,225.65 399.40,219.55 400.40,214.96 403.40,200.36 404.40,195.94 404.90,193.95 405.40,192.15 405.90,190.57 406.40,189.22 406.90,188.14 407.40,187.33 407.90,186.82 408.40,186.61 408.90,186.70 409.40,187.09 409.90,187.78 410.40,188.76 410.90,190.00 411.40,191.49 411.90,193.21 412.40,195.12 413.40,199.44 416.40,214.00 417.90,220.86 418.90,224.90 419.40,226.74 420.40,230.00 421.40,232.73 421.90,233.90 422.90,235.87 423.90,237.40 424.40,238.03 425.40,239.03 425.90,239.42 426.90,240.04 427.40,240.28 428.40,240.64 429.40,240.88 430.40,241.04 432.40,241.21 434.40,241.27 437.90,241.30 472.90,241.30" fill="none" stroke="#F07F1E" stroke-width="1.0" stroke-linejoin="round" stroke-dasharray="3,1.8"/>
<polyline points="339.40,240.90 350.00,240.70 360.00,240.40 370.00,240.00 376.90,239.60 382.00,239.00 387.90,238.20 391.00,237.20 394.10,235.80 396.90,231.00 398.30,226.50 399.60,221.30 400.80,214.50 402.00,207.60 403.20,200.00 404.40,193.80 405.60,189.50 406.80,187.20 407.90,186.60 409.20,187.30 410.30,188.30 411.30,189.60 412.70,194.50 414.10,200.70 415.50,207.50 416.90,214.40 418.20,219.80 419.60,224.10 421.60,228.80 423.70,232.40 426.50,235.20 429.30,237.20 434.00,238.90 438.90,240.00 445.00,240.50 455.00,240.80 473.20,240.90" fill="none" stroke="#F07F1E" stroke-width="1.2" stroke-linejoin="round"/>
<text x="348.10" y="201.90" font-size="10.92" fill="#F07F1E" textLength="38.00" lengthAdjust="spacingAndGlyphs" stroke="#F07F1E" stroke-width="0.16">Zn-p53</text>
<polygon points="339.40,308.30 339.40,308.40 350.00,308.00 360.00,307.20 365.70,306.50 370.00,305.20 375.30,302.80 378.80,301.00 383.40,297.40 386.70,293.50 390.00,288.00 392.00,284.00 394.00,280.50 395.90,277.60 397.40,276.00 399.00,273.50 401.00,267.00 403.00,261.00 405.00,256.50 406.50,254.60 408.10,254.00 409.50,254.60 411.00,257.00 412.50,261.00 414.10,265.40 416.00,271.50 418.10,278.70 419.80,285.00 421.40,290.70 423.50,295.50 426.10,299.40 429.00,302.20 431.40,303.70 434.10,304.80 440.00,306.50 447.10,307.50 455.00,308.00 473.20,308.40 473.20,308.30" fill="#dcdcdc" stroke="none" stroke-width="0"/>
<line x1="338.30" y1="311.00" x2="473.40" y2="311.00" stroke="#b4b4b4" stroke-width="1.2"/>
<line x1="344.70" y1="311.00" x2="344.70" y2="312.80" stroke="#555" stroke-width="0.7"/>
<text x="337.32" y="318.70" font-size="6.09" fill="#222" textLength="14.76" lengthAdjust="spacingAndGlyphs">1800</text>
<line x1="370.34" y1="311.00" x2="370.34" y2="312.80" stroke="#555" stroke-width="0.7"/>
<text x="362.96" y="318.70" font-size="6.09" fill="#222" textLength="14.76" lengthAdjust="spacingAndGlyphs">2000</text>
<line x1="395.98" y1="311.00" x2="395.98" y2="312.80" stroke="#555" stroke-width="0.7"/>
<text x="388.60" y="318.70" font-size="6.09" fill="#222" textLength="14.76" lengthAdjust="spacingAndGlyphs">2200</text>
<line x1="421.62" y1="311.00" x2="421.62" y2="312.80" stroke="#555" stroke-width="0.7"/>
<text x="414.24" y="318.70" font-size="6.09" fill="#222" textLength="14.76" lengthAdjust="spacingAndGlyphs">2400</text>
<line x1="447.26" y1="311.00" x2="447.26" y2="312.80" stroke="#555" stroke-width="0.7"/>
<text x="439.88" y="318.70" font-size="6.09" fill="#222" textLength="14.76" lengthAdjust="spacingAndGlyphs">2600</text>
<line x1="472.90" y1="311.00" x2="472.90" y2="312.80" stroke="#555" stroke-width="0.7"/>
<text x="465.52" y="318.70" font-size="6.09" fill="#222" textLength="14.76" lengthAdjust="spacingAndGlyphs">2800</text>
<polyline points="339.40,308.30 366.90,308.30 372.40,308.22 374.90,308.06 376.90,307.75 378.40,307.32 379.40,306.90 379.90,306.64 380.90,306.00 381.40,305.61 382.40,304.67 383.40,303.50 383.90,302.82 384.90,301.25 385.90,299.42 387.40,296.18 388.90,292.46 391.90,284.55 392.90,282.14 393.90,280.04 394.90,278.36 395.40,277.70 395.90,277.18 396.40,276.81 396.90,276.58 397.40,276.50 397.90,276.58 398.40,276.81 398.90,277.18 399.40,277.70 399.90,278.36 400.90,280.04 401.90,282.14 402.90,284.55 405.90,292.46 407.40,296.18 408.90,299.42 409.90,301.25 410.40,302.07 411.40,303.50 411.90,304.11 412.90,305.17 413.40,305.61 414.40,306.34 414.90,306.64 415.90,307.13 417.40,307.63 418.90,307.93 420.90,308.15 423.90,308.26 429.90,308.30 472.90,308.30" fill="none" stroke="#3A7DC2" stroke-width="1.0" stroke-linejoin="round" stroke-dasharray="3,1.8"/>
<polyline points="339.40,308.30 372.90,308.29 376.90,308.26 379.40,308.18 380.90,308.08 382.40,307.90 383.40,307.73 384.40,307.48 385.40,307.15 386.40,306.71 387.40,306.12 387.90,305.77 388.90,304.91 389.40,304.41 390.40,303.21 390.90,302.51 391.90,300.88 392.40,299.96 393.40,297.85 393.90,296.67 395.40,292.61 396.90,287.81 398.40,282.41 402.40,267.10 403.40,263.68 404.40,260.67 405.40,258.18 405.90,257.17 406.40,256.33 406.90,255.67 407.40,255.19 407.90,254.90 408.40,254.80 408.90,254.90 409.40,255.19 409.90,255.67 410.40,256.33 410.90,257.17 411.40,258.18 412.40,260.67 413.40,263.68 414.40,267.10 418.40,282.41 419.90,287.81 421.40,292.61 422.90,296.67 423.90,298.94 424.40,299.96 425.40,301.73 425.90,302.51 426.90,303.84 427.40,304.41 428.40,305.37 428.90,305.77 429.90,306.43 430.90,306.94 431.90,307.33 432.90,307.61 433.90,307.82 435.40,308.03 436.90,308.15 439.40,308.25 443.40,308.29 472.90,308.30" fill="none" stroke="#3A7DC2" stroke-width="1.0" stroke-linejoin="round" stroke-dasharray="3,1.8"/>
<polyline points="339.40,308.40 350.00,308.00 360.00,307.20 365.70,306.50 370.00,305.20 375.30,302.80 378.80,301.00 383.40,297.40 386.70,293.50 390.00,288.00 392.00,284.00 394.00,280.50 395.90,277.60 397.40,276.00 399.00,273.50 401.00,267.00 403.00,261.00 405.00,256.50 406.50,254.60 408.10,254.00 409.50,254.60 411.00,257.00 412.50,261.00 414.10,265.40 416.00,271.50 418.10,278.70 419.80,285.00 421.40,290.70 423.50,295.50 426.10,299.40 429.00,302.20 431.40,303.70 434.10,304.80 440.00,306.50 447.10,307.50 455.00,308.00 473.20,308.40" fill="none" stroke="#3A7DC2" stroke-width="1.2" stroke-linejoin="round"/>
<text x="309.90" y="284.40" font-size="10.92" fill="#3A7DC2" textLength="52.20" lengthAdjust="spacingAndGlyphs" stroke="#3A7DC2" stroke-width="0.16">(apo-p53)</text>
<text x="362.70" y="287.20" font-size="7.56" fill="#3A7DC2" textLength="16.50" lengthAdjust="spacingAndGlyphs" stroke="#3A7DC2" stroke-width="0.1">2S-S</text>
<text x="382.30" y="327.60" font-size="5.46" fill="#111" textLength="7.90" lengthAdjust="spacingAndGlyphs">TW</text>
<text x="390.20" y="331.20" font-size="7.98" fill="#111" textLength="14.60" lengthAdjust="spacingAndGlyphs" stroke="#111" stroke-width="0.1">CCS</text>
<text x="405.20" y="332.30" font-size="5.46" fill="#111" textLength="7.80" lengthAdjust="spacingAndGlyphs" font-style="italic">N2</text>
<text x="415.40" y="331.20" font-size="7.98" fill="#111" textLength="8.40" lengthAdjust="spacingAndGlyphs" stroke="#111" stroke-width="0.1">(Å</text>
<text x="423.60" y="327.90" font-size="5.46" fill="#111" textLength="3.30" lengthAdjust="spacingAndGlyphs">2</text>
<text x="427.30" y="331.20" font-size="7.98" fill="#111" textLength="3.20" lengthAdjust="spacingAndGlyphs" stroke="#111" stroke-width="0.1">)</text>
<text x="503.20" y="10.40" font-size="12.29" fill="#111" textLength="6.73" lengthAdjust="spacingAndGlyphs" stroke="#111" stroke-width="0.16">F</text>
<line x1="539.80" y1="15.90" x2="539.80" y2="72.60" stroke="#444" stroke-width="0.75"/>
<line x1="539.80" y1="72.60" x2="684.50" y2="72.60" stroke="#a8a8a8" stroke-width="1.5"/>
<line x1="537.20" y1="17.20" x2="539.80" y2="17.20" stroke="#444" stroke-width="0.7"/>
<text x="523.03" y="19.70" font-size="7.25" fill="#333" textLength="13.17" lengthAdjust="spacingAndGlyphs" stroke="#333" stroke-width="0.1">100</text>
<line x1="537.20" y1="43.65" x2="539.80" y2="43.65" stroke="#444" stroke-width="0.7"/>
<text x="527.42" y="46.15" font-size="7.25" fill="#333" textLength="8.78" lengthAdjust="spacingAndGlyphs" stroke="#333" stroke-width="0.1">50</text>
<line x1="537.20" y1="70.10" x2="539.80" y2="70.10" stroke="#444" stroke-width="0.7"/>
<text x="531.81" y="72.60" font-size="7.25" fill="#333" textLength="4.39" lengthAdjust="spacingAndGlyphs" stroke="#333" stroke-width="0.1">0</text>
<line x1="540.00" y1="72.60" x2="540.00" y2="75.10" stroke="#444" stroke-width="0.7"/>
<line x1="570.00" y1="72.60" x2="570.00" y2="75.10" stroke="#444" stroke-width="0.7"/>
<line x1="600.00" y1="72.60" x2="600.00" y2="75.10" stroke="#444" stroke-width="0.7"/>
<line x1="630.00" y1="72.60" x2="630.00" y2="75.10" stroke="#444" stroke-width="0.7"/>
<line x1="660.00" y1="72.60" x2="660.00" y2="75.10" stroke="#444" stroke-width="0.7"/>
<text x="499.55" y="44.30" font-size="7.56" fill="#333" textLength="40.50" lengthAdjust="spacingAndGlyphs" transform="rotate(-90 519.80 44.30)" stroke="#333" stroke-width="0.1">Intensity (%)</text>
<polygon points="540.00,70.10 540.00,70.02 540.50,70.02 541.00,70.02 541.50,70.01 542.00,70.01 542.50,70.01 543.00,70.01 543.50,70.01 544.00,70.00 544.50,70.00 545.00,70.00 545.50,70.00 546.00,70.00 546.50,69.99 547.00,69.99 547.50,69.99 548.00,69.99 548.50,69.99 549.00,69.98 549.50,69.98 550.00,69.98 550.50,69.98 551.00,69.98 551.50,69.97 552.00,69.97 552.50,69.97 553.00,69.97 553.50,69.97 554.00,69.96 554.50,69.96 555.00,69.96 555.50,69.96 556.00,69.96 556.50,69.95 557.00,69.95 557.50,69.95 558.00,69.95 558.50,69.95 559.00,69.94 559.50,69.94 560.00,69.94 560.50,69.93 561.00,69.92 561.50,69.90 562.00,69.89 562.50,69.88 563.00,69.87 563.50,69.86 564.00,69.84 564.50,69.83 565.00,69.82 565.50,69.81 566.00,69.80 566.50,69.78 567.00,69.77 567.50,69.76 568.00,69.75 568.50,69.74 569.00,69.72 569.50,69.71 570.00,69.70 570.50,69.65 571.00,69.60 571.50,69.56 572.00,69.51 572.50,69.46 573.00,69.41 573.50,69.36 574.00,69.32 574.50,69.27 575.00,69.22 575.50,69.19 576.00,69.16 576.50,69.12 577.00,69.09 577.50,69.06 578.00,69.03 578.50,69.00 579.00,68.96 579.50,68.93 580.00,68.90 580.50,68.83 581.00,68.76 581.50,68.69 582.00,68.62 582.50,68.42 583.00,68.02 583.50,67.62 584.00,67.62 584.50,67.73 585.00,67.83 585.50,67.93 586.00,68.04 586.50,68.02 587.00,67.84 587.50,67.65 588.00,67.46 588.50,66.92 589.00,66.37 589.50,65.83 590.00,65.28 590.50,64.74 591.00,64.20 591.50,63.65 592.00,63.11 592.50,62.56 593.00,62.02 593.50,60.02 594.00,59.62 594.50,61.62 595.00,63.44 595.50,65.22 596.00,65.42 596.50,65.62 597.00,65.25 597.50,64.87 598.00,64.50 598.50,64.54 599.00,64.69 599.50,64.83 600.00,64.98 600.50,65.04 601.00,65.10 601.50,65.16 602.00,65.22 602.50,65.27 603.00,65.32 603.50,65.37 604.00,65.42 604.50,65.47 605.00,65.52 605.50,65.57 606.00,65.62 606.50,65.80 607.00,65.98 607.50,66.16 608.00,66.34 608.50,66.52 609.00,66.70 609.50,66.88 610.00,67.06 610.50,67.16 611.00,67.26 611.50,67.36 612.00,67.46 612.50,67.56 613.00,67.66 613.50,67.76 614.00,67.86 614.50,67.96 615.00,68.06 615.50,68.12 616.00,68.16 616.50,68.19 617.00,68.23 617.50,68.27 618.00,68.30 618.50,68.34 619.00,68.38 619.50,68.41 620.00,68.45 620.50,68.49 621.00,68.52 621.50,68.56 622.00,68.60 622.50,68.64 623.00,68.68 623.50,68.73 624.00,68.77 624.50,68.81 625.00,68.86 625.50,68.90 626.00,68.94 626.50,68.98 627.00,69.03 627.50,69.07 628.00,69.11 628.50,69.15 629.00,69.18 629.50,69.20 630.00,69.23 630.50,69.26 631.00,69.28 631.50,69.31 632.00,69.34 632.50,69.36 633.00,69.39 633.50,69.42 634.00,69.44 634.50,69.47 635.00,69.50 635.50,69.52 636.00,69.55 636.50,69.58 637.00,69.60 637.50,69.63 638.00,69.66 638.50,69.68 639.00,69.70 639.50,69.71 640.00,69.73 640.50,69.74 641.00,69.75 641.50,69.76 642.00,69.77 642.50,69.78 643.00,69.79 643.50,69.80 644.00,69.81 644.50,69.82 645.00,69.83 645.50,69.84 646.00,69.85 646.50,69.87 647.00,69.88 647.50,69.89 648.00,69.90 648.50,69.91 649.00,69.92 649.50,69.93 650.00,69.94 650.50,69.94 651.00,69.94 651.50,69.94 652.00,69.94 652.50,69.95 653.00,69.95 653.50,69.95 654.00,69.95 654.50,69.95 655.00,69.95 655.50,69.95 656.00,69.95 656.50,69.96 657.00,69.96 657.50,69.96 658.00,69.96 658.50,69.96 659.00,69.96 659.50,69.96 660.00,69.96 660.50,69.96 661.00,69.97 661.50,69.97 662.00,69.97 662.50,69.97 663.00,69.97 663.50,69.97 664.00,69.97 664.50,69.97 665.00,69.98 665.50,69.98 666.00,69.98 666.50,69.98 667.00,69.98 667.50,69.98 668.00,69.98 668.50,69.98 669.00,69.98 669.50,69.99 670.00,69.99 670.50,69.99 671.00,69.99 671.50,69.99 672.00,69.99 672.50,69.99 673.00,69.99 673.50,70.00 674.00,70.00 674.50,70.00 675.00,70.00 675.50,70.00 676.00,70.00 676.50,70.00 677.00,70.00 677.50,70.00 678.00,70.01 678.50,70.01 679.00,70.01 679.50,70.01 680.00,70.01 680.50,70.01 681.00,70.01 681.50,70.01 682.00,70.02 682.50,70.02 683.00,70.02 683.50,70.02 684.00,70.02 684.00,70.10" fill="#6e6e6e" stroke="none" stroke-width="0"/>
<line x1="540.50" y1="70.10" x2="540.50" y2="70.00" stroke="#383838" stroke-width="0.95"/>
<line x1="542.10" y1="70.10" x2="542.10" y2="69.99" stroke="#383838" stroke-width="0.95"/>
<line x1="543.70" y1="70.10" x2="543.70" y2="69.98" stroke="#383838" stroke-width="0.95"/>
<line x1="545.30" y1="70.10" x2="545.30" y2="69.97" stroke="#383838" stroke-width="0.95"/>
<line x1="546.90" y1="70.10" x2="546.90" y2="69.97" stroke="#383838" stroke-width="0.95"/>
<line x1="548.50" y1="70.10" x2="548.50" y2="69.95" stroke="#383838" stroke-width="0.95"/>
<line x1="550.10" y1="70.10" x2="550.10" y2="69.98" stroke="#383838" stroke-width="0.95"/>
<line x1="551.70" y1="70.10" x2="551.70" y2="69.96" stroke="#383838" stroke-width="0.95"/>
<line x1="553.30" y1="70.10" x2="553.30" y2="69.93" stroke="#383838" stroke-width="0.95"/>
<line x1="554.90" y1="70.10" x2="554.90" y2="69.93" stroke="#383838" stroke-width="0.95"/>
<line x1="556.50" y1="70.10" x2="556.50" y2="69.91" stroke="#383838" stroke-width="0.95"/>
<line x1="558.10" y1="70.10" x2="558.10" y2="69.95" stroke="#383838" stroke-width="0.95"/>
<line x1="559.70" y1="70.10" x2="559.70" y2="69.92" stroke="#383838" stroke-width="0.95"/>
<line x1="561.30" y1="70.10" x2="561.30" y2="69.90" stroke="#383838" stroke-width="0.95"/>
<line x1="562.90" y1="70.10" x2="562.90" y2="69.83" stroke="#383838" stroke-width="0.95"/>
<line x1="564.50" y1="70.10" x2="564.50" y2="69.78" stroke="#383838" stroke-width="0.95"/>
<line x1="566.10" y1="70.10" x2="566.10" y2="69.80" stroke="#383838" stroke-width="0.95"/>
<line x1="567.70" y1="70.10" x2="567.70" y2="69.74" stroke="#383838" stroke-width="0.95"/>
<line x1="569.30" y1="70.10" x2="569.30" y2="69.69" stroke="#383838" stroke-width="0.95"/>
<line x1="570.90" y1="70.10" x2="570.90" y2="69.47" stroke="#383838" stroke-width="0.95"/>
<line x1="572.50" y1="70.10" x2="572.50" y2="69.30" stroke="#383838" stroke-width="0.95"/>
<line x1="574.10" y1="70.10" x2="574.10" y2="69.28" stroke="#383838" stroke-width="0.95"/>
<line x1="575.70" y1="70.10" x2="575.70" y2="68.94" stroke="#383838" stroke-width="0.95"/>
<line x1="577.30" y1="70.10" x2="577.30" y2="69.05" stroke="#383838" stroke-width="0.95"/>
<line x1="578.90" y1="70.10" x2="578.90" y2="68.75" stroke="#383838" stroke-width="0.95"/>
<line x1="580.50" y1="70.10" x2="580.50" y2="68.81" stroke="#383838" stroke-width="0.95"/>
<line x1="582.10" y1="70.10" x2="582.10" y2="68.64" stroke="#383838" stroke-width="0.95"/>
<line x1="583.70" y1="70.10" x2="583.70" y2="66.85" stroke="#383838" stroke-width="0.95"/>
<line x1="585.30" y1="70.10" x2="585.30" y2="67.79" stroke="#383838" stroke-width="0.95"/>
<line x1="586.90" y1="70.10" x2="586.90" y2="67.76" stroke="#383838" stroke-width="0.95"/>
<line x1="588.50" y1="70.10" x2="588.50" y2="65.90" stroke="#383838" stroke-width="0.95"/>
<line x1="590.10" y1="70.10" x2="590.10" y2="63.79" stroke="#383838" stroke-width="0.95"/>
<line x1="591.70" y1="70.10" x2="591.70" y2="62.93" stroke="#383838" stroke-width="0.95"/>
<line x1="593.30" y1="70.10" x2="593.30" y2="57.93" stroke="#383838" stroke-width="0.95"/>
<line x1="594.90" y1="70.10" x2="594.90" y2="61.94" stroke="#383838" stroke-width="0.95"/>
<line x1="596.50" y1="70.10" x2="596.50" y2="64.67" stroke="#383838" stroke-width="0.95"/>
<line x1="598.10" y1="70.10" x2="598.10" y2="64.15" stroke="#383838" stroke-width="0.95"/>
<line x1="599.70" y1="70.10" x2="599.70" y2="63.31" stroke="#383838" stroke-width="0.95"/>
<line x1="601.30" y1="70.10" x2="601.30" y2="64.06" stroke="#383838" stroke-width="0.95"/>
<line x1="602.90" y1="70.10" x2="602.90" y2="63.81" stroke="#383838" stroke-width="0.95"/>
<line x1="604.50" y1="70.10" x2="604.50" y2="64.14" stroke="#383838" stroke-width="0.95"/>
<line x1="606.10" y1="70.10" x2="606.10" y2="65.30" stroke="#383838" stroke-width="0.95"/>
<line x1="607.70" y1="70.10" x2="607.70" y2="65.84" stroke="#383838" stroke-width="0.95"/>
<line x1="609.30" y1="70.10" x2="609.30" y2="66.70" stroke="#383838" stroke-width="0.95"/>
<line x1="610.90" y1="70.10" x2="610.90" y2="67.17" stroke="#383838" stroke-width="0.95"/>
<line x1="612.50" y1="70.10" x2="612.50" y2="67.57" stroke="#383838" stroke-width="0.95"/>
<line x1="614.10" y1="70.10" x2="614.10" y2="67.70" stroke="#383838" stroke-width="0.95"/>
<line x1="615.70" y1="70.10" x2="615.70" y2="67.77" stroke="#383838" stroke-width="0.95"/>
<line x1="617.30" y1="70.10" x2="617.30" y2="68.30" stroke="#383838" stroke-width="0.95"/>
<line x1="618.90" y1="70.10" x2="618.90" y2="68.00" stroke="#383838" stroke-width="0.95"/>
<line x1="620.50" y1="70.10" x2="620.50" y2="68.33" stroke="#383838" stroke-width="0.95"/>
<line x1="622.10" y1="70.10" x2="622.10" y2="68.48" stroke="#383838" stroke-width="0.95"/>
<line x1="623.70" y1="70.10" x2="623.70" y2="68.39" stroke="#383838" stroke-width="0.95"/>
<line x1="625.30" y1="70.10" x2="625.30" y2="68.71" stroke="#383838" stroke-width="0.95"/>
<line x1="626.90" y1="70.10" x2="626.90" y2="68.93" stroke="#383838" stroke-width="0.95"/>
<line x1="628.50" y1="70.10" x2="628.50" y2="69.01" stroke="#383838" stroke-width="0.95"/>
<line x1="630.10" y1="70.10" x2="630.10" y2="69.04" stroke="#383838" stroke-width="0.95"/>
<line x1="631.70" y1="70.10" x2="631.70" y2="69.33" stroke="#383838" stroke-width="0.95"/>
<line x1="633.30" y1="70.10" x2="633.30" y2="69.19" stroke="#383838" stroke-width="0.95"/>
<line x1="634.90" y1="70.10" x2="634.90" y2="69.50" stroke="#383838" stroke-width="0.95"/>
<line x1="636.50" y1="70.10" x2="636.50" y2="69.45" stroke="#383838" stroke-width="0.95"/>
<line x1="638.10" y1="70.10" x2="638.10" y2="69.54" stroke="#383838" stroke-width="0.95"/>
<line x1="639.70" y1="70.10" x2="639.70" y2="69.73" stroke="#383838" stroke-width="0.95"/>
<line x1="641.30" y1="70.10" x2="641.30" y2="69.67" stroke="#383838" stroke-width="0.95"/>
<line x1="642.90" y1="70.10" x2="642.90" y2="69.76" stroke="#383838" stroke-width="0.95"/>
<line x1="644.50" y1="70.10" x2="644.50" y2="69.77" stroke="#383838" stroke-width="0.95"/>
<line x1="646.10" y1="70.10" x2="646.10" y2="69.86" stroke="#383838" stroke-width="0.95"/>
<line x1="647.70" y1="70.10" x2="647.70" y2="69.89" stroke="#383838" stroke-width="0.95"/>
<line x1="649.30" y1="70.10" x2="649.30" y2="69.92" stroke="#383838" stroke-width="0.95"/>
<line x1="650.90" y1="70.10" x2="650.90" y2="69.89" stroke="#383838" stroke-width="0.95"/>
<line x1="652.50" y1="70.10" x2="652.50" y2="69.94" stroke="#383838" stroke-width="0.95"/>
<line x1="654.10" y1="70.10" x2="654.10" y2="69.91" stroke="#383838" stroke-width="0.95"/>
<line x1="655.70" y1="70.10" x2="655.70" y2="69.91" stroke="#383838" stroke-width="0.95"/>
<line x1="657.30" y1="70.10" x2="657.30" y2="69.91" stroke="#383838" stroke-width="0.95"/>
<line x1="658.90" y1="70.10" x2="658.90" y2="69.95" stroke="#383838" stroke-width="0.95"/>
<line x1="660.50" y1="70.10" x2="660.50" y2="69.95" stroke="#383838" stroke-width="0.95"/>
<line x1="662.10" y1="70.10" x2="662.10" y2="69.95" stroke="#383838" stroke-width="0.95"/>
<line x1="663.70" y1="70.10" x2="663.70" y2="69.94" stroke="#383838" stroke-width="0.95"/>
<line x1="665.30" y1="70.10" x2="665.30" y2="69.97" stroke="#383838" stroke-width="0.95"/>
<line x1="666.90" y1="70.10" x2="666.90" y2="69.95" stroke="#383838" stroke-width="0.95"/>
<line x1="668.50" y1="70.10" x2="668.50" y2="69.95" stroke="#383838" stroke-width="0.95"/>
<line x1="670.10" y1="70.10" x2="670.10" y2="69.96" stroke="#383838" stroke-width="0.95"/>
<line x1="671.70" y1="70.10" x2="671.70" y2="69.99" stroke="#383838" stroke-width="0.95"/>
<line x1="673.30" y1="70.10" x2="673.30" y2="69.96" stroke="#383838" stroke-width="0.95"/>
<line x1="674.90" y1="70.10" x2="674.90" y2="70.00" stroke="#383838" stroke-width="0.95"/>
<line x1="676.50" y1="70.10" x2="676.50" y2="69.99" stroke="#383838" stroke-width="0.95"/>
<line x1="678.10" y1="70.10" x2="678.10" y2="69.99" stroke="#383838" stroke-width="0.95"/>
<line x1="679.70" y1="70.10" x2="679.70" y2="69.98" stroke="#383838" stroke-width="0.95"/>
<line x1="681.30" y1="70.10" x2="681.30" y2="70.01" stroke="#383838" stroke-width="0.95"/>
<line x1="682.90" y1="70.10" x2="682.90" y2="69.99" stroke="#383838" stroke-width="0.95"/>
<polygon points="574.00,70.10 574.00,69.12 574.25,69.09 574.50,69.06 574.75,68.87 575.00,68.58 575.25,68.30 575.50,68.03 575.75,67.81 576.00,67.67 576.25,67.60 576.50,67.63 576.75,67.75 577.00,67.94 577.25,68.19 577.50,68.47 577.75,68.76 578.00,68.76 578.25,68.74 578.50,68.72 578.50,70.10" fill="#fff" stroke="none" stroke-width="0" fill-opacity="0.3"/>
<polygon points="574.00,70.10 574.00,69.12 574.25,69.09 574.50,69.06 574.75,68.87 575.00,68.58 575.25,68.30 575.50,68.03 575.75,67.81 576.00,67.67 576.25,67.60 576.50,67.63 576.75,67.75 577.00,67.94 577.25,68.19 577.50,68.47 577.75,68.76 578.00,68.76 578.25,68.74 578.50,68.72 578.50,70.10" fill="#C81A1E" stroke="none" stroke-width="0" fill-opacity="0.8"/>
<polygon points="587.00,70.10 587.00,67.27 587.25,67.15 587.50,65.84 587.75,63.96 588.00,61.52 588.25,58.44 588.50,54.73 588.75,50.43 589.00,45.66 589.25,40.62 589.50,35.59 589.75,30.89 590.00,26.85 590.25,23.78 590.50,21.96 590.75,21.53 591.00,22.53 591.25,24.87 591.50,28.36 591.75,32.71 592.00,37.58 592.25,42.65 592.50,47.61 592.75,52.21 593.00,56.29 593.25,58.75 593.50,57.50 593.50,70.10" fill="#fff" stroke="none" stroke-width="0" fill-opacity="0.3"/>
<polygon points="587.00,70.10 587.00,67.27 587.25,67.15 587.50,65.84 587.75,63.96 588.00,61.52 588.25,58.44 588.50,54.73 588.75,50.43 589.00,45.66 589.25,40.62 589.50,35.59 589.75,30.89 590.00,26.85 590.25,23.78 590.50,21.96 590.75,21.53 591.00,22.53 591.25,24.87 591.50,28.36 591.75,32.71 592.00,37.58 592.25,42.65 592.50,47.61 592.75,52.21 593.00,56.29 593.25,58.75 593.50,57.50 593.50,70.10" fill="#F07F1E" stroke="none" stroke-width="0" fill-opacity="0.8"/>
<polygon points="601.80,70.10 601.80,63.97 602.05,64.01 602.30,64.04 602.55,64.07 602.80,64.10 603.05,63.64 603.30,62.85 603.55,62.14 603.80,61.56 604.05,61.12 604.30,60.86 604.55,60.80 604.80,60.94 605.05,61.27 605.30,61.77 605.55,62.41 605.80,63.16 606.05,63.96 606.30,64.63 606.55,64.75 606.80,64.86 607.05,64.97 607.30,65.08 607.55,65.20 607.80,65.31 608.00,70.10" fill="#fff" stroke="none" stroke-width="0" fill-opacity="0.3"/>
<polygon points="601.80,70.10 601.80,63.97 602.05,64.01 602.30,64.04 602.55,64.07 602.80,64.10 603.05,63.64 603.30,62.85 603.55,62.14 603.80,61.56 604.05,61.12 604.30,60.86 604.55,60.80 604.80,60.94 605.05,61.27 605.30,61.77 605.55,62.41 605.80,63.16 606.05,63.96 606.30,64.63 606.55,64.75 606.80,64.86 607.05,64.97 607.30,65.08 607.55,65.20 607.80,65.31 608.00,70.10" fill="#3FB54A" stroke="none" stroke-width="0" fill-opacity="0.8"/>
<circle cx="590.90" cy="20.30" r="2.20" fill="#F07F1E"/>
<polygon points="574.20,60.21 578.60,60.21 576.40,64.39" fill="#C81A1E" stroke="none" stroke-width="0"/>
<rect x="602.10" y="53.70" width="4.40" height="4.40" fill="#3FB54A"/>
<line x1="539.80" y1="83.00" x2="539.80" y2="140.30" stroke="#444" stroke-width="0.75"/>
<line x1="539.80" y1="140.30" x2="684.50" y2="140.30" stroke="#a8a8a8" stroke-width="1.5"/>
<line x1="537.20" y1="85.20" x2="539.80" y2="85.20" stroke="#444" stroke-width="0.7"/>
<text x="523.03" y="87.70" font-size="7.25" fill="#333" textLength="13.17" lengthAdjust="spacingAndGlyphs" stroke="#333" stroke-width="0.1">100</text>
<line x1="537.20" y1="111.45" x2="539.80" y2="111.45" stroke="#444" stroke-width="0.7"/>
<text x="527.42" y="113.95" font-size="7.25" fill="#333" textLength="8.78" lengthAdjust="spacingAndGlyphs" stroke="#333" stroke-width="0.1">50</text>
<line x1="537.20" y1="137.70" x2="539.80" y2="137.70" stroke="#444" stroke-width="0.7"/>
<text x="531.81" y="140.20" font-size="7.25" fill="#333" textLength="4.39" lengthAdjust="spacingAndGlyphs" stroke="#333" stroke-width="0.1">0</text>
<line x1="540.00" y1="140.30" x2="540.00" y2="142.80" stroke="#444" stroke-width="0.7"/>
<line x1="570.00" y1="140.30" x2="570.00" y2="142.80" stroke="#444" stroke-width="0.7"/>
<line x1="600.00" y1="140.30" x2="600.00" y2="142.80" stroke="#444" stroke-width="0.7"/>
<line x1="630.00" y1="140.30" x2="630.00" y2="142.80" stroke="#444" stroke-width="0.7"/>
<line x1="660.00" y1="140.30" x2="660.00" y2="142.80" stroke="#444" stroke-width="0.7"/>
<text x="499.55" y="112.00" font-size="7.56" fill="#333" textLength="40.50" lengthAdjust="spacingAndGlyphs" transform="rotate(-90 519.80 112.00)" stroke="#333" stroke-width="0.1">Intensity (%)</text>
<polygon points="540.00,137.70 540.00,136.58 540.50,136.54 541.00,136.50 541.50,136.46 542.00,136.42 542.50,136.38 543.00,136.34 543.50,136.30 544.00,136.26 544.50,136.22 545.00,136.18 545.50,136.12 546.00,136.05 546.50,135.99 547.00,135.92 547.50,135.86 548.00,135.80 548.50,135.73 549.00,135.67 549.50,135.60 550.00,135.54 550.50,135.46 551.00,135.38 551.50,135.30 552.00,135.22 552.50,135.14 553.00,135.06 553.50,134.98 554.00,134.90 554.50,134.82 555.00,134.74 555.50,134.34 556.00,133.94 556.50,133.81 557.00,133.67 557.50,133.54 558.00,133.41 558.50,133.27 559.00,133.14 559.50,133.04 560.00,132.94 560.50,132.84 561.00,132.74 561.50,132.64 562.00,132.54 562.50,132.44 563.00,132.34 563.50,131.54 564.00,130.74 564.50,129.94 565.00,129.14 565.50,128.86 566.00,128.58 566.50,128.31 567.00,128.03 567.50,128.07 568.00,128.61 568.50,129.14 569.00,129.99 569.50,130.83 570.00,131.68 570.50,132.17 571.00,132.43 571.50,132.68 572.00,132.94 572.50,132.94 573.00,131.94 573.50,130.94 574.00,129.94 574.50,129.14 575.00,128.34 575.50,127.54 576.00,126.74 576.50,125.94 577.00,125.14 577.50,125.62 578.00,126.10 578.50,126.58 579.00,127.06 579.50,127.54 580.00,126.52 580.50,125.51 581.00,124.49 581.50,123.47 582.00,122.47 582.50,121.54 583.00,120.61 583.50,119.67 584.00,118.74 584.50,118.04 585.00,117.35 585.50,116.65 586.00,115.96 586.50,115.74 587.00,116.24 587.50,116.74 588.00,116.50 588.50,116.26 589.00,116.02 589.50,115.78 590.00,115.54 590.50,115.99 591.00,116.44 591.50,116.89 592.00,117.34 592.50,117.79 593.00,118.24 593.50,118.69 594.00,119.14 594.50,119.27 595.00,119.41 595.50,119.54 596.00,119.67 596.50,119.81 597.00,119.94 597.50,120.12 598.00,120.31 598.50,120.49 599.00,120.68 599.50,120.86 600.00,120.28 600.50,119.50 601.00,118.72 601.50,117.94 602.00,116.74 602.50,115.54 603.00,115.43 603.50,115.31 604.00,115.20 604.50,115.08 605.00,114.97 605.50,114.85 606.00,114.74 606.50,115.17 607.00,115.59 607.50,116.02 608.00,116.44 608.50,116.87 609.00,117.29 609.50,117.38 610.00,117.38 610.50,117.38 611.00,117.38 611.50,117.38 612.00,117.38 612.50,118.31 613.00,119.23 613.50,120.16 614.00,121.09 614.50,121.14 615.00,120.61 615.50,120.07 616.00,119.54 616.50,119.27 617.00,118.99 617.50,118.72 618.00,118.69 618.50,119.63 619.00,120.58 619.50,121.53 620.00,122.47 620.50,122.98 621.00,123.38 621.50,123.78 622.00,124.18 622.50,124.58 623.00,124.98 623.50,125.18 624.00,125.37 624.50,125.57 625.00,125.77 625.50,125.96 626.00,126.16 626.50,126.36 627.00,126.55 627.50,126.75 628.00,126.95 628.50,127.14 629.00,127.35 629.50,127.61 630.00,127.86 630.50,128.12 631.00,128.37 631.50,128.63 632.00,128.88 632.50,129.14 633.00,129.39 633.50,129.65 634.00,129.90 634.50,130.16 635.00,130.33 635.50,130.45 636.00,130.57 636.50,130.69 637.00,130.81 637.50,130.94 638.00,131.06 638.50,131.18 639.00,131.30 639.50,131.42 640.00,131.54 640.50,131.66 641.00,131.78 641.50,131.90 642.00,132.02 642.50,132.18 643.00,132.35 643.50,132.51 644.00,132.67 644.50,132.84 645.00,133.00 645.50,133.17 646.00,133.33 646.50,133.49 647.00,133.66 647.50,133.82 648.00,133.98 648.50,134.15 649.00,134.31 649.50,134.47 650.00,134.64 650.50,134.80 651.00,134.92 651.50,134.96 652.00,135.01 652.50,135.05 653.00,135.09 653.50,135.14 654.00,135.18 654.50,135.22 655.00,135.27 655.50,135.31 656.00,135.36 656.50,135.40 657.00,135.44 657.50,135.49 658.00,135.53 658.50,135.58 659.00,135.63 659.50,135.68 660.00,135.73 660.50,135.78 661.00,135.83 661.50,135.88 662.00,135.93 662.50,135.98 663.00,136.03 663.50,136.08 664.00,136.13 664.50,136.18 665.00,136.23 665.50,136.28 666.00,136.33 666.50,136.38 667.00,136.42 667.50,136.43 668.00,136.44 668.50,136.45 669.00,136.45 669.50,136.46 670.00,136.47 670.50,136.48 671.00,136.49 671.50,136.50 672.00,136.50 672.50,136.51 673.00,136.52 673.50,136.53 674.00,136.54 674.50,136.54 675.00,136.55 675.50,136.56 676.00,136.57 676.50,136.58 677.00,136.59 677.50,136.59 678.00,136.60 678.50,136.61 679.00,136.62 679.50,136.63 680.00,136.64 680.50,136.64 681.00,136.65 681.50,136.66 682.00,136.69 682.50,136.72 683.00,136.76 683.50,136.79 684.00,136.82 684.00,137.70" fill="#6e6e6e" stroke="none" stroke-width="0"/>
<line x1="540.50" y1="137.70" x2="540.50" y2="136.44" stroke="#383838" stroke-width="0.95"/>
<line x1="542.10" y1="137.70" x2="542.10" y2="136.38" stroke="#383838" stroke-width="0.95"/>
<line x1="543.70" y1="137.70" x2="543.70" y2="136.00" stroke="#383838" stroke-width="0.95"/>
<line x1="545.30" y1="137.70" x2="545.30" y2="136.14" stroke="#383838" stroke-width="0.95"/>
<line x1="546.90" y1="137.70" x2="546.90" y2="135.65" stroke="#383838" stroke-width="0.95"/>
<line x1="548.50" y1="137.70" x2="548.50" y2="135.53" stroke="#383838" stroke-width="0.95"/>
<line x1="550.10" y1="137.70" x2="550.10" y2="135.53" stroke="#383838" stroke-width="0.95"/>
<line x1="551.70" y1="137.70" x2="551.70" y2="134.90" stroke="#383838" stroke-width="0.95"/>
<line x1="553.30" y1="137.70" x2="553.30" y2="135.04" stroke="#383838" stroke-width="0.95"/>
<line x1="554.90" y1="137.70" x2="554.90" y2="134.38" stroke="#383838" stroke-width="0.95"/>
<line x1="556.50" y1="137.70" x2="556.50" y2="133.81" stroke="#383838" stroke-width="0.95"/>
<line x1="558.10" y1="137.70" x2="558.10" y2="133.35" stroke="#383838" stroke-width="0.95"/>
<line x1="559.70" y1="137.70" x2="559.70" y2="132.42" stroke="#383838" stroke-width="0.95"/>
<line x1="561.30" y1="137.70" x2="561.30" y2="131.35" stroke="#383838" stroke-width="0.95"/>
<line x1="562.90" y1="137.70" x2="562.90" y2="132.26" stroke="#383838" stroke-width="0.95"/>
<line x1="564.50" y1="137.70" x2="564.50" y2="129.53" stroke="#383838" stroke-width="0.95"/>
<line x1="566.10" y1="137.70" x2="566.10" y2="126.74" stroke="#383838" stroke-width="0.95"/>
<line x1="567.70" y1="137.70" x2="567.70" y2="125.40" stroke="#383838" stroke-width="0.95"/>
<line x1="569.30" y1="137.70" x2="569.30" y2="129.22" stroke="#383838" stroke-width="0.95"/>
<line x1="570.90" y1="137.70" x2="570.90" y2="131.77" stroke="#383838" stroke-width="0.95"/>
<line x1="572.50" y1="137.70" x2="572.50" y2="131.43" stroke="#383838" stroke-width="0.95"/>
<line x1="574.10" y1="137.70" x2="574.10" y2="129.85" stroke="#383838" stroke-width="0.95"/>
<line x1="575.70" y1="137.70" x2="575.70" y2="124.33" stroke="#383838" stroke-width="0.95"/>
<line x1="577.30" y1="137.70" x2="577.30" y2="124.49" stroke="#383838" stroke-width="0.95"/>
<line x1="578.90" y1="137.70" x2="578.90" y2="126.69" stroke="#383838" stroke-width="0.95"/>
<line x1="580.50" y1="137.70" x2="580.50" y2="125.31" stroke="#383838" stroke-width="0.95"/>
<line x1="582.10" y1="137.70" x2="582.10" y2="121.01" stroke="#383838" stroke-width="0.95"/>
<line x1="583.70" y1="137.70" x2="583.70" y2="114.50" stroke="#383838" stroke-width="0.95"/>
<line x1="585.30" y1="137.70" x2="585.30" y2="116.14" stroke="#383838" stroke-width="0.95"/>
<line x1="586.90" y1="137.70" x2="586.90" y2="112.29" stroke="#383838" stroke-width="0.95"/>
<line x1="588.50" y1="137.70" x2="588.50" y2="112.00" stroke="#383838" stroke-width="0.95"/>
<line x1="590.10" y1="137.70" x2="590.10" y2="113.31" stroke="#383838" stroke-width="0.95"/>
<line x1="591.70" y1="137.70" x2="591.70" y2="113.63" stroke="#383838" stroke-width="0.95"/>
<line x1="593.30" y1="137.70" x2="593.30" y2="118.57" stroke="#383838" stroke-width="0.95"/>
<line x1="594.90" y1="137.70" x2="594.90" y2="119.46" stroke="#383838" stroke-width="0.95"/>
<line x1="596.50" y1="137.70" x2="596.50" y2="118.96" stroke="#383838" stroke-width="0.95"/>
<line x1="598.10" y1="137.70" x2="598.10" y2="116.65" stroke="#383838" stroke-width="0.95"/>
<line x1="599.70" y1="137.70" x2="599.70" y2="118.63" stroke="#383838" stroke-width="0.95"/>
<line x1="601.30" y1="137.70" x2="601.30" y2="116.60" stroke="#383838" stroke-width="0.95"/>
<line x1="602.90" y1="137.70" x2="602.90" y2="111.44" stroke="#383838" stroke-width="0.95"/>
<line x1="604.50" y1="137.70" x2="604.50" y2="112.06" stroke="#383838" stroke-width="0.95"/>
<line x1="606.10" y1="137.70" x2="606.10" y2="113.00" stroke="#383838" stroke-width="0.95"/>
<line x1="607.70" y1="137.70" x2="607.70" y2="110.74" stroke="#383838" stroke-width="0.95"/>
<line x1="609.30" y1="137.70" x2="609.30" y2="112.92" stroke="#383838" stroke-width="0.95"/>
<line x1="610.90" y1="137.70" x2="610.90" y2="116.15" stroke="#383838" stroke-width="0.95"/>
<line x1="612.50" y1="137.70" x2="612.50" y2="114.89" stroke="#383838" stroke-width="0.95"/>
<line x1="614.10" y1="137.70" x2="614.10" y2="118.67" stroke="#383838" stroke-width="0.95"/>
<line x1="615.70" y1="137.70" x2="615.70" y2="114.84" stroke="#383838" stroke-width="0.95"/>
<line x1="617.30" y1="137.70" x2="617.30" y2="114.48" stroke="#383838" stroke-width="0.95"/>
<line x1="618.90" y1="137.70" x2="618.90" y2="119.08" stroke="#383838" stroke-width="0.95"/>
<line x1="620.50" y1="137.70" x2="620.50" y2="118.30" stroke="#383838" stroke-width="0.95"/>
<line x1="622.10" y1="137.70" x2="622.10" y2="124.04" stroke="#383838" stroke-width="0.95"/>
<line x1="623.70" y1="137.70" x2="623.70" y2="123.75" stroke="#383838" stroke-width="0.95"/>
<line x1="625.30" y1="137.70" x2="625.30" y2="123.05" stroke="#383838" stroke-width="0.95"/>
<line x1="626.90" y1="137.70" x2="626.90" y2="126.20" stroke="#383838" stroke-width="0.95"/>
<line x1="628.50" y1="137.70" x2="628.50" y2="125.60" stroke="#383838" stroke-width="0.95"/>
<line x1="630.10" y1="137.70" x2="630.10" y2="128.02" stroke="#383838" stroke-width="0.95"/>
<line x1="631.70" y1="137.70" x2="631.70" y2="126.86" stroke="#383838" stroke-width="0.95"/>
<line x1="633.30" y1="137.70" x2="633.30" y2="127.57" stroke="#383838" stroke-width="0.95"/>
<line x1="634.90" y1="137.70" x2="634.90" y2="129.01" stroke="#383838" stroke-width="0.95"/>
<line x1="636.50" y1="137.70" x2="636.50" y2="128.72" stroke="#383838" stroke-width="0.95"/>
<line x1="638.10" y1="137.70" x2="638.10" y2="130.52" stroke="#383838" stroke-width="0.95"/>
<line x1="639.70" y1="137.70" x2="639.70" y2="130.10" stroke="#383838" stroke-width="0.95"/>
<line x1="641.30" y1="137.70" x2="641.30" y2="130.78" stroke="#383838" stroke-width="0.95"/>
<line x1="642.90" y1="137.70" x2="642.90" y2="131.36" stroke="#383838" stroke-width="0.95"/>
<line x1="644.50" y1="137.70" x2="644.50" y2="132.18" stroke="#383838" stroke-width="0.95"/>
<line x1="646.10" y1="137.70" x2="646.10" y2="132.19" stroke="#383838" stroke-width="0.95"/>
<line x1="647.70" y1="137.70" x2="647.70" y2="132.72" stroke="#383838" stroke-width="0.95"/>
<line x1="649.30" y1="137.70" x2="649.30" y2="133.95" stroke="#383838" stroke-width="0.95"/>
<line x1="650.90" y1="137.70" x2="650.90" y2="134.33" stroke="#383838" stroke-width="0.95"/>
<line x1="652.50" y1="137.70" x2="652.50" y2="135.06" stroke="#383838" stroke-width="0.95"/>
<line x1="654.10" y1="137.70" x2="654.10" y2="134.64" stroke="#383838" stroke-width="0.95"/>
<line x1="655.70" y1="137.70" x2="655.70" y2="134.85" stroke="#383838" stroke-width="0.95"/>
<line x1="657.30" y1="137.70" x2="657.30" y2="134.75" stroke="#383838" stroke-width="0.95"/>
<line x1="658.90" y1="137.70" x2="658.90" y2="135.07" stroke="#383838" stroke-width="0.95"/>
<line x1="660.50" y1="137.70" x2="660.50" y2="135.64" stroke="#383838" stroke-width="0.95"/>
<line x1="662.10" y1="137.70" x2="662.10" y2="135.75" stroke="#383838" stroke-width="0.95"/>
<line x1="663.70" y1="137.70" x2="663.70" y2="135.77" stroke="#383838" stroke-width="0.95"/>
<line x1="665.30" y1="137.70" x2="665.30" y2="136.28" stroke="#383838" stroke-width="0.95"/>
<line x1="666.90" y1="137.70" x2="666.90" y2="136.25" stroke="#383838" stroke-width="0.95"/>
<line x1="668.50" y1="137.70" x2="668.50" y2="136.40" stroke="#383838" stroke-width="0.95"/>
<line x1="670.10" y1="137.70" x2="670.10" y2="136.45" stroke="#383838" stroke-width="0.95"/>
<line x1="671.70" y1="137.70" x2="671.70" y2="136.50" stroke="#383838" stroke-width="0.95"/>
<line x1="673.30" y1="137.70" x2="673.30" y2="136.24" stroke="#383838" stroke-width="0.95"/>
<line x1="674.90" y1="137.70" x2="674.90" y2="136.53" stroke="#383838" stroke-width="0.95"/>
<line x1="676.50" y1="137.70" x2="676.50" y2="136.51" stroke="#383838" stroke-width="0.95"/>
<line x1="678.10" y1="137.70" x2="678.10" y2="136.48" stroke="#383838" stroke-width="0.95"/>
<line x1="679.70" y1="137.70" x2="679.70" y2="136.33" stroke="#383838" stroke-width="0.95"/>
<line x1="681.30" y1="137.70" x2="681.30" y2="136.65" stroke="#383838" stroke-width="0.95"/>
<line x1="682.90" y1="137.70" x2="682.90" y2="136.62" stroke="#383838" stroke-width="0.95"/>
<polygon points="556.00,137.70 556.00,133.00 556.25,132.92 556.50,132.83 556.75,132.12 557.00,130.76 557.25,129.25 557.50,127.63 557.75,125.96 558.00,124.31 558.25,122.74 558.50,121.36 558.75,120.23 559.00,119.41 559.25,118.97 559.50,118.93 559.75,119.29 560.00,120.04 560.25,121.11 560.50,122.45 560.75,123.98 561.00,125.63 561.25,127.30 561.50,128.93 561.75,130.47 562.00,131.25 562.25,131.19 562.50,131.12 562.50,137.70" fill="#fff" stroke="none" stroke-width="0" fill-opacity="0.3"/>
<polygon points="556.00,137.70 556.00,133.00 556.25,132.92 556.50,132.83 556.75,132.12 557.00,130.76 557.25,129.25 557.50,127.63 557.75,125.96 558.00,124.31 558.25,122.74 558.50,121.36 558.75,120.23 559.00,119.41 559.25,118.97 559.50,118.93 559.75,119.29 560.00,120.04 560.25,121.11 560.50,122.45 560.75,123.98 561.00,125.63 561.25,127.30 561.50,128.93 561.75,130.47 562.00,131.25 562.25,131.19 562.50,131.12 562.50,137.70" fill="#3A7DC2" stroke="none" stroke-width="0" fill-opacity="0.8"/>
<polygon points="573.00,137.70 573.00,128.38 573.25,126.82 573.50,125.20 573.75,123.55 574.00,121.94 574.25,120.42 574.50,119.05 574.75,117.87 575.00,116.95 575.25,116.33 575.50,116.03 575.75,116.06 576.00,116.43 576.25,117.12 576.50,118.09 576.75,119.31 577.00,120.72 577.25,122.26 577.50,122.60 577.75,122.90 578.00,123.20 578.25,123.50 578.50,123.80 578.75,124.10 579.00,124.40 579.00,137.70" fill="#fff" stroke="none" stroke-width="0" fill-opacity="0.3"/>
<polygon points="573.00,137.70 573.00,128.38 573.25,126.82 573.50,125.20 573.75,123.55 574.00,121.94 574.25,120.42 574.50,119.05 574.75,117.87 575.00,116.95 575.25,116.33 575.50,116.03 575.75,116.06 576.00,116.43 576.25,117.12 576.50,118.09 576.75,119.31 577.00,120.72 577.25,122.26 577.50,122.60 577.75,122.90 578.00,123.20 578.25,123.50 578.50,123.80 578.75,124.10 579.00,124.40 579.00,137.70" fill="#C81A1E" stroke="none" stroke-width="0" fill-opacity="0.8"/>
<polygon points="587.80,137.70 587.80,111.32 588.05,111.17 588.30,111.02 588.55,110.87 588.80,109.20 589.05,106.71 589.30,104.48 589.55,102.60 589.80,101.12 590.05,100.13 590.30,99.64 590.55,99.70 590.80,100.28 591.05,101.38 591.30,102.94 591.55,104.91 591.80,107.19 592.05,109.72 592.30,112.40 592.55,112.87 592.80,113.15 593.05,113.43 593.30,113.71 593.55,113.99 593.80,114.27 593.90,137.70" fill="#fff" stroke="none" stroke-width="0" fill-opacity="0.3"/>
<polygon points="587.80,137.70 587.80,111.32 588.05,111.17 588.30,111.02 588.55,110.87 588.80,109.20 589.05,106.71 589.30,104.48 589.55,102.60 589.80,101.12 590.05,100.13 590.30,99.64 590.55,99.70 590.80,100.28 591.05,101.38 591.30,102.94 591.55,104.91 591.80,107.19 592.05,109.72 592.30,112.40 592.55,112.87 592.80,113.15 593.05,113.43 593.30,113.71 593.55,113.99 593.80,114.27 593.90,137.70" fill="#F07F1E" stroke="none" stroke-width="0" fill-opacity="0.8"/>
<polygon points="602.70,137.70 602.70,105.05 602.95,100.83 603.20,96.86 603.45,93.33 603.70,90.41 603.95,88.27 604.20,87.01 604.45,86.72 604.70,87.40 604.95,89.03 605.20,91.50 605.45,94.68 605.70,98.41 605.95,102.50 606.20,106.77 606.45,109.48 606.70,109.75 606.95,110.01 607.20,110.28 607.45,110.54 607.70,110.81 607.95,111.08 608.20,111.34 608.45,111.61 608.70,111.87 608.95,112.14 609.00,137.70" fill="#fff" stroke="none" stroke-width="0" fill-opacity="0.3"/>
<polygon points="602.70,137.70 602.70,105.05 602.95,100.83 603.20,96.86 603.45,93.33 603.70,90.41 603.95,88.27 604.20,87.01 604.45,86.72 604.70,87.40 604.95,89.03 605.20,91.50 605.45,94.68 605.70,98.41 605.95,102.50 606.20,106.77 606.45,109.48 606.70,109.75 606.95,110.01 607.20,110.28 607.45,110.54 607.70,110.81 607.95,111.08 608.20,111.34 608.45,111.61 608.70,111.87 608.95,112.14 609.00,137.70" fill="#3FB54A" stroke="none" stroke-width="0" fill-opacity="0.8"/>
<rect x="557.00" y="111.10" width="4.40" height="4.40" fill="#3A7DC2"/>
<polygon points="572.70,108.71 577.10,108.71 574.90,112.89" fill="#C81A1E" stroke="none" stroke-width="0"/>
<circle cx="589.20" cy="95.80" r="2.30" fill="#F07F1E"/>
<rect x="601.80" y="81.20" width="4.40" height="4.40" fill="#3FB54A"/>
<line x1="539.80" y1="148.30" x2="539.80" y2="206.20" stroke="#444" stroke-width="0.75"/>
<line x1="539.80" y1="206.20" x2="684.50" y2="206.20" stroke="#a8a8a8" stroke-width="1.5"/>
<line x1="537.20" y1="151.40" x2="539.80" y2="151.40" stroke="#444" stroke-width="0.7"/>
<text x="523.03" y="153.90" font-size="7.25" fill="#333" textLength="13.17" lengthAdjust="spacingAndGlyphs" stroke="#333" stroke-width="0.1">100</text>
<line x1="537.20" y1="177.45" x2="539.80" y2="177.45" stroke="#444" stroke-width="0.7"/>
<text x="527.42" y="179.95" font-size="7.25" fill="#333" textLength="8.78" lengthAdjust="spacingAndGlyphs" stroke="#333" stroke-width="0.1">50</text>
<line x1="537.20" y1="203.50" x2="539.80" y2="203.50" stroke="#444" stroke-width="0.7"/>
<text x="531.81" y="206.00" font-size="7.25" fill="#333" textLength="4.39" lengthAdjust="spacingAndGlyphs" stroke="#333" stroke-width="0.1">0</text>
<line x1="540.00" y1="206.20" x2="540.00" y2="208.70" stroke="#444" stroke-width="0.7"/>
<text x="531.09" y="215.80" font-size="7.35" fill="#333" textLength="17.81" lengthAdjust="spacingAndGlyphs" stroke="#333" stroke-width="0.1">1780</text>
<line x1="570.00" y1="206.20" x2="570.00" y2="208.70" stroke="#444" stroke-width="0.7"/>
<text x="561.09" y="215.80" font-size="7.35" fill="#333" textLength="17.81" lengthAdjust="spacingAndGlyphs" stroke="#333" stroke-width="0.1">1785</text>
<line x1="600.00" y1="206.20" x2="600.00" y2="208.70" stroke="#444" stroke-width="0.7"/>
<text x="591.09" y="215.80" font-size="7.35" fill="#333" textLength="17.81" lengthAdjust="spacingAndGlyphs" stroke="#333" stroke-width="0.1">1790</text>
<line x1="630.00" y1="206.20" x2="630.00" y2="208.70" stroke="#444" stroke-width="0.7"/>
<text x="621.09" y="215.80" font-size="7.35" fill="#333" textLength="17.81" lengthAdjust="spacingAndGlyphs" stroke="#333" stroke-width="0.1">1795</text>
<line x1="660.00" y1="206.20" x2="660.00" y2="208.70" stroke="#444" stroke-width="0.7"/>
<text x="651.09" y="215.80" font-size="7.35" fill="#333" textLength="17.81" lengthAdjust="spacingAndGlyphs" stroke="#333" stroke-width="0.1">1800</text>
<text x="499.55" y="177.60" font-size="7.56" fill="#333" textLength="40.50" lengthAdjust="spacingAndGlyphs" transform="rotate(-90 519.80 177.60)" stroke="#333" stroke-width="0.1">Intensity (%)</text>
<polygon points="540.00,203.50 540.00,202.14 540.50,202.04 541.00,201.93 541.50,201.83 542.00,201.72 542.50,201.62 543.00,201.52 543.50,201.41 544.00,201.31 544.50,201.20 545.00,201.10 545.50,200.98 546.00,200.86 546.50,200.74 547.00,200.62 547.50,200.50 548.00,200.38 548.50,200.26 549.00,200.14 549.50,200.02 550.00,199.90 550.50,199.72 551.00,199.55 551.50,199.37 552.00,199.20 552.50,199.02 553.00,198.84 553.50,198.67 554.00,198.49 554.50,198.32 555.00,198.14 555.50,197.39 556.00,196.65 556.50,195.90 557.00,195.63 557.50,195.37 558.00,195.10 558.50,194.83 559.00,194.57 559.50,194.30 560.00,194.03 560.50,193.77 561.00,193.50 561.50,193.23 562.00,192.97 562.50,192.70 563.00,190.57 563.50,188.43 564.00,186.30 564.50,184.30 565.00,182.30 565.50,180.30 566.00,178.30 566.50,177.46 567.00,176.62 567.50,177.86 568.00,179.10 568.50,181.50 569.00,183.90 569.50,186.30 570.00,187.90 570.50,189.50 571.00,191.10 571.50,188.97 572.00,186.83 572.50,184.70 573.00,181.50 573.50,180.70 574.00,179.90 574.50,179.10 575.00,178.30 575.50,179.10 576.00,179.90 576.50,180.70 577.00,181.50 577.50,182.62 578.00,183.74 578.50,184.86 579.00,185.98 579.50,184.54 580.00,183.10 580.50,182.25 581.00,181.40 581.50,180.55 582.00,181.16 582.50,182.13 583.00,183.10 583.50,184.17 584.00,185.23 584.50,186.30 585.00,183.50 585.50,180.70 586.00,177.10 586.50,173.50 587.00,172.50 587.50,171.50 588.00,172.10 588.50,172.70 589.00,173.82 589.50,174.94 590.00,176.06 590.50,177.18 591.00,178.30 591.50,179.34 592.00,180.38 592.50,181.42 593.00,182.46 593.50,183.50 594.00,184.54 594.50,178.94 595.00,180.22 595.50,181.50 596.00,183.90 596.50,186.30 597.00,188.70 597.50,188.10 598.00,187.50 598.50,186.90 599.00,186.30 599.50,185.10 600.00,183.90 600.50,182.70 601.00,181.50 601.50,180.17 602.00,178.83 602.50,177.50 603.00,175.63 603.50,172.97 604.00,170.30 604.50,169.17 605.00,170.35 605.50,171.52 606.00,172.70 606.50,173.50 607.00,174.30 607.50,175.10 608.00,175.90 608.50,176.70 609.00,177.50 609.50,177.90 610.00,178.30 610.50,179.90 611.00,181.50 611.50,183.10 612.00,182.30 612.50,181.50 613.00,180.70 613.50,181.70 614.00,182.70 614.50,183.70 615.00,184.70 615.50,184.50 616.00,184.30 616.50,184.10 617.00,183.90 617.50,184.31 618.00,184.72 618.50,185.13 619.00,185.55 619.50,185.96 620.00,186.37 620.50,186.78 621.00,187.08 621.50,187.38 622.00,187.68 622.50,187.97 623.00,188.27 623.50,188.57 624.00,188.87 624.50,189.17 625.00,189.47 625.50,189.77 626.00,190.06 626.50,190.36 627.00,190.66 627.50,190.96 628.00,191.21 628.50,191.45 629.00,191.69 629.50,191.94 630.00,192.18 630.50,192.42 631.00,192.66 631.50,192.90 632.00,193.14 632.50,193.38 633.00,193.62 633.50,193.86 634.00,194.10 634.50,194.34 635.00,194.59 635.50,194.83 636.00,195.07 636.50,195.30 637.00,195.50 637.50,195.70 638.00,195.89 638.50,196.09 639.00,196.29 639.50,196.49 640.00,196.69 640.50,196.88 641.00,197.08 641.50,197.28 642.00,197.48 642.50,197.68 643.00,197.88 643.50,198.07 644.00,198.27 644.50,198.47 645.00,198.67 645.50,198.87 646.00,199.06 646.50,199.26 647.00,199.46 647.50,199.57 648.00,199.66 648.50,199.74 649.00,199.83 649.50,199.92 650.00,200.01 650.50,200.09 651.00,200.18 651.50,200.27 652.00,200.35 652.50,200.44 653.00,200.53 653.50,200.61 654.00,200.70 654.50,200.79 655.00,200.88 655.50,200.96 656.00,201.05 656.50,201.14 657.00,201.22 657.50,201.31 658.00,201.40 658.50,201.49 659.00,201.57 659.50,201.66 660.00,201.69 660.50,201.72 661.00,201.75 661.50,201.78 662.00,201.81 662.50,201.84 663.00,201.87 663.50,201.90 664.00,201.93 664.50,201.96 665.00,201.99 665.50,202.02 666.00,202.05 666.50,202.08 667.00,202.11 667.50,202.14 668.00,202.17 668.50,202.20 669.00,202.23 669.50,202.26 670.00,202.29 670.50,202.31 671.00,202.32 671.50,202.34 672.00,202.35 672.50,202.36 673.00,202.37 673.50,202.39 674.00,202.40 674.50,202.41 675.00,202.43 675.50,202.44 676.00,202.45 676.50,202.47 677.00,202.48 677.50,202.49 678.00,202.50 678.50,202.52 679.00,202.53 679.50,202.54 680.00,202.56 680.50,202.57 681.00,202.58 681.50,202.59 682.00,202.61 682.50,202.62 683.00,202.65 683.50,202.67 684.00,202.70 684.00,203.50" fill="#6e6e6e" stroke="none" stroke-width="0"/>
<line x1="540.50" y1="203.50" x2="540.50" y2="201.84" stroke="#383838" stroke-width="0.95"/>
<line x1="542.10" y1="203.50" x2="542.10" y2="201.51" stroke="#383838" stroke-width="0.95"/>
<line x1="543.70" y1="203.50" x2="543.70" y2="201.32" stroke="#383838" stroke-width="0.95"/>
<line x1="545.30" y1="203.50" x2="545.30" y2="200.34" stroke="#383838" stroke-width="0.95"/>
<line x1="546.90" y1="203.50" x2="546.90" y2="200.71" stroke="#383838" stroke-width="0.95"/>
<line x1="548.50" y1="203.50" x2="548.50" y2="199.77" stroke="#383838" stroke-width="0.95"/>
<line x1="550.10" y1="203.50" x2="550.10" y2="198.81" stroke="#383838" stroke-width="0.95"/>
<line x1="551.70" y1="203.50" x2="551.70" y2="199.29" stroke="#383838" stroke-width="0.95"/>
<line x1="553.30" y1="203.50" x2="553.30" y2="197.93" stroke="#383838" stroke-width="0.95"/>
<line x1="554.90" y1="203.50" x2="554.90" y2="197.16" stroke="#383838" stroke-width="0.95"/>
<line x1="556.50" y1="203.50" x2="556.50" y2="195.98" stroke="#383838" stroke-width="0.95"/>
<line x1="558.10" y1="203.50" x2="558.10" y2="194.14" stroke="#383838" stroke-width="0.95"/>
<line x1="559.70" y1="203.50" x2="559.70" y2="192.13" stroke="#383838" stroke-width="0.95"/>
<line x1="561.30" y1="203.50" x2="561.30" y2="191.99" stroke="#383838" stroke-width="0.95"/>
<line x1="562.90" y1="203.50" x2="562.90" y2="188.13" stroke="#383838" stroke-width="0.95"/>
<line x1="564.50" y1="203.50" x2="564.50" y2="183.72" stroke="#383838" stroke-width="0.95"/>
<line x1="566.10" y1="203.50" x2="566.10" y2="176.65" stroke="#383838" stroke-width="0.95"/>
<line x1="567.70" y1="203.50" x2="567.70" y2="178.01" stroke="#383838" stroke-width="0.95"/>
<line x1="569.30" y1="203.50" x2="569.30" y2="182.58" stroke="#383838" stroke-width="0.95"/>
<line x1="570.90" y1="203.50" x2="570.90" y2="186.99" stroke="#383838" stroke-width="0.95"/>
<line x1="572.50" y1="203.50" x2="572.50" y2="181.28" stroke="#383838" stroke-width="0.95"/>
<line x1="574.10" y1="203.50" x2="574.10" y2="173.90" stroke="#383838" stroke-width="0.95"/>
<line x1="575.70" y1="203.50" x2="575.70" y2="176.79" stroke="#383838" stroke-width="0.95"/>
<line x1="577.30" y1="203.50" x2="577.30" y2="177.14" stroke="#383838" stroke-width="0.95"/>
<line x1="578.90" y1="203.50" x2="578.90" y2="185.57" stroke="#383838" stroke-width="0.95"/>
<line x1="580.50" y1="203.50" x2="580.50" y2="180.62" stroke="#383838" stroke-width="0.95"/>
<line x1="582.10" y1="203.50" x2="582.10" y2="176.68" stroke="#383838" stroke-width="0.95"/>
<line x1="583.70" y1="203.50" x2="583.70" y2="180.26" stroke="#383838" stroke-width="0.95"/>
<line x1="585.30" y1="203.50" x2="585.30" y2="179.16" stroke="#383838" stroke-width="0.95"/>
<line x1="586.90" y1="203.50" x2="586.90" y2="172.52" stroke="#383838" stroke-width="0.95"/>
<line x1="588.50" y1="203.50" x2="588.50" y2="170.59" stroke="#383838" stroke-width="0.95"/>
<line x1="590.10" y1="203.50" x2="590.10" y2="174.97" stroke="#383838" stroke-width="0.95"/>
<line x1="591.70" y1="203.50" x2="591.70" y2="178.01" stroke="#383838" stroke-width="0.95"/>
<line x1="593.30" y1="203.50" x2="593.30" y2="177.81" stroke="#383838" stroke-width="0.95"/>
<line x1="594.90" y1="203.50" x2="594.90" y2="178.91" stroke="#383838" stroke-width="0.95"/>
<line x1="596.50" y1="203.50" x2="596.50" y2="181.39" stroke="#383838" stroke-width="0.95"/>
<line x1="598.10" y1="203.50" x2="598.10" y2="182.82" stroke="#383838" stroke-width="0.95"/>
<line x1="599.70" y1="203.50" x2="599.70" y2="184.73" stroke="#383838" stroke-width="0.95"/>
<line x1="601.30" y1="203.50" x2="601.30" y2="178.25" stroke="#383838" stroke-width="0.95"/>
<line x1="602.90" y1="203.50" x2="602.90" y2="172.15" stroke="#383838" stroke-width="0.95"/>
<line x1="604.50" y1="203.50" x2="604.50" y2="169.75" stroke="#383838" stroke-width="0.95"/>
<line x1="606.10" y1="203.50" x2="606.10" y2="169.07" stroke="#383838" stroke-width="0.95"/>
<line x1="607.70" y1="203.50" x2="607.70" y2="167.21" stroke="#383838" stroke-width="0.95"/>
<line x1="609.30" y1="203.50" x2="609.30" y2="177.37" stroke="#383838" stroke-width="0.95"/>
<line x1="610.90" y1="203.50" x2="610.90" y2="177.08" stroke="#383838" stroke-width="0.95"/>
<line x1="612.50" y1="203.50" x2="612.50" y2="181.12" stroke="#383838" stroke-width="0.95"/>
<line x1="614.10" y1="203.50" x2="614.10" y2="179.24" stroke="#383838" stroke-width="0.95"/>
<line x1="615.70" y1="203.50" x2="615.70" y2="178.92" stroke="#383838" stroke-width="0.95"/>
<line x1="617.30" y1="203.50" x2="617.30" y2="183.26" stroke="#383838" stroke-width="0.95"/>
<line x1="618.90" y1="203.50" x2="618.90" y2="185.86" stroke="#383838" stroke-width="0.95"/>
<line x1="620.50" y1="203.50" x2="620.50" y2="186.71" stroke="#383838" stroke-width="0.95"/>
<line x1="622.10" y1="203.50" x2="622.10" y2="185.15" stroke="#383838" stroke-width="0.95"/>
<line x1="623.70" y1="203.50" x2="623.70" y2="188.97" stroke="#383838" stroke-width="0.95"/>
<line x1="625.30" y1="203.50" x2="625.30" y2="189.58" stroke="#383838" stroke-width="0.95"/>
<line x1="626.90" y1="203.50" x2="626.90" y2="188.68" stroke="#383838" stroke-width="0.95"/>
<line x1="628.50" y1="203.50" x2="628.50" y2="187.87" stroke="#383838" stroke-width="0.95"/>
<line x1="630.10" y1="203.50" x2="630.10" y2="190.85" stroke="#383838" stroke-width="0.95"/>
<line x1="631.70" y1="203.50" x2="631.70" y2="191.79" stroke="#383838" stroke-width="0.95"/>
<line x1="633.30" y1="203.50" x2="633.30" y2="191.83" stroke="#383838" stroke-width="0.95"/>
<line x1="634.90" y1="203.50" x2="634.90" y2="194.47" stroke="#383838" stroke-width="0.95"/>
<line x1="636.50" y1="203.50" x2="636.50" y2="193.84" stroke="#383838" stroke-width="0.95"/>
<line x1="638.10" y1="203.50" x2="638.10" y2="195.67" stroke="#383838" stroke-width="0.95"/>
<line x1="639.70" y1="203.50" x2="639.70" y2="195.26" stroke="#383838" stroke-width="0.95"/>
<line x1="641.30" y1="203.50" x2="641.30" y2="195.25" stroke="#383838" stroke-width="0.95"/>
<line x1="642.90" y1="203.50" x2="642.90" y2="197.87" stroke="#383838" stroke-width="0.95"/>
<line x1="644.50" y1="203.50" x2="644.50" y2="197.62" stroke="#383838" stroke-width="0.95"/>
<line x1="646.10" y1="203.50" x2="646.10" y2="198.28" stroke="#383838" stroke-width="0.95"/>
<line x1="647.70" y1="203.50" x2="647.70" y2="199.50" stroke="#383838" stroke-width="0.95"/>
<line x1="649.30" y1="203.50" x2="649.30" y2="199.63" stroke="#383838" stroke-width="0.95"/>
<line x1="650.90" y1="203.50" x2="650.90" y2="199.08" stroke="#383838" stroke-width="0.95"/>
<line x1="652.50" y1="203.50" x2="652.50" y2="199.45" stroke="#383838" stroke-width="0.95"/>
<line x1="654.10" y1="203.50" x2="654.10" y2="200.67" stroke="#383838" stroke-width="0.95"/>
<line x1="655.70" y1="203.50" x2="655.70" y2="200.44" stroke="#383838" stroke-width="0.95"/>
<line x1="657.30" y1="203.50" x2="657.30" y2="200.59" stroke="#383838" stroke-width="0.95"/>
<line x1="658.90" y1="203.50" x2="658.90" y2="201.44" stroke="#383838" stroke-width="0.95"/>
<line x1="660.50" y1="203.50" x2="660.50" y2="201.38" stroke="#383838" stroke-width="0.95"/>
<line x1="662.10" y1="203.50" x2="662.10" y2="201.83" stroke="#383838" stroke-width="0.95"/>
<line x1="663.70" y1="203.50" x2="663.70" y2="201.75" stroke="#383838" stroke-width="0.95"/>
<line x1="665.30" y1="203.50" x2="665.30" y2="201.70" stroke="#383838" stroke-width="0.95"/>
<line x1="666.90" y1="203.50" x2="666.90" y2="201.85" stroke="#383838" stroke-width="0.95"/>
<line x1="668.50" y1="203.50" x2="668.50" y2="201.88" stroke="#383838" stroke-width="0.95"/>
<line x1="670.10" y1="203.50" x2="670.10" y2="202.29" stroke="#383838" stroke-width="0.95"/>
<line x1="671.70" y1="203.50" x2="671.70" y2="202.23" stroke="#383838" stroke-width="0.95"/>
<line x1="673.30" y1="203.50" x2="673.30" y2="202.07" stroke="#383838" stroke-width="0.95"/>
<line x1="674.90" y1="203.50" x2="674.90" y2="202.23" stroke="#383838" stroke-width="0.95"/>
<line x1="676.50" y1="203.50" x2="676.50" y2="202.33" stroke="#383838" stroke-width="0.95"/>
<line x1="678.10" y1="203.50" x2="678.10" y2="202.39" stroke="#383838" stroke-width="0.95"/>
<line x1="679.70" y1="203.50" x2="679.70" y2="202.24" stroke="#383838" stroke-width="0.95"/>
<line x1="681.30" y1="203.50" x2="681.30" y2="202.43" stroke="#383838" stroke-width="0.95"/>
<line x1="682.90" y1="203.50" x2="682.90" y2="202.66" stroke="#383838" stroke-width="0.95"/>
<polygon points="556.00,203.50 556.00,194.93 556.25,194.47 556.50,194.00 556.75,193.83 557.00,193.67 557.25,191.03 557.50,186.94 557.75,182.20 558.00,176.96 558.25,171.46 558.50,166.04 558.75,161.08 559.00,156.98 559.25,154.07 559.50,152.63 559.75,152.79 560.00,154.54 560.25,157.71 560.50,162.02 560.75,167.10 561.00,172.57 561.25,178.03 561.50,183.19 561.75,187.82 562.00,190.33 562.00,203.50" fill="#fff" stroke="none" stroke-width="0" fill-opacity="0.3"/>
<polygon points="556.00,203.50 556.00,194.93 556.25,194.47 556.50,194.00 556.75,193.83 557.00,193.67 557.25,191.03 557.50,186.94 557.75,182.20 558.00,176.96 558.25,171.46 558.50,166.04 558.75,161.08 559.00,156.98 559.25,154.07 559.50,152.63 559.75,152.79 560.00,154.54 560.25,157.71 560.50,162.02 560.75,167.10 561.00,172.57 561.25,178.03 561.50,183.19 561.75,187.82 562.00,190.33 562.00,203.50" fill="#3A7DC2" stroke="none" stroke-width="0" fill-opacity="0.8"/>
<polygon points="573.00,203.50 573.00,176.00 573.25,175.50 573.50,175.00 573.75,174.50 574.00,174.00 574.25,173.50 574.50,173.00 574.75,172.50 575.00,171.45 575.25,171.03 575.50,172.00 575.75,173.50 576.00,174.00 576.25,174.50 576.50,175.00 576.75,175.50 577.00,176.00 577.25,176.70 577.50,177.40 577.75,178.10 578.00,178.80 578.25,179.50 578.50,180.20 578.75,180.90 579.00,181.60 579.00,203.50" fill="#fff" stroke="none" stroke-width="0" fill-opacity="0.3"/>
<polygon points="573.00,203.50 573.00,176.00 573.25,175.50 573.50,175.00 573.75,174.50 574.00,174.00 574.25,173.50 574.50,173.00 574.75,172.50 575.00,171.45 575.25,171.03 575.50,172.00 575.75,173.50 576.00,174.00 576.25,174.50 576.50,175.00 576.75,175.50 577.00,176.00 577.25,176.70 577.50,177.40 577.75,178.10 578.00,178.80 578.25,179.50 578.50,180.20 578.75,180.90 579.00,181.60 579.00,203.50" fill="#C81A1E" stroke="none" stroke-width="0" fill-opacity="0.8"/>
<polygon points="587.90,203.50 587.90,164.10 588.15,164.47 588.40,164.85 588.65,165.42 588.90,166.12 589.15,166.82 589.40,167.52 589.65,168.22 589.90,168.92 590.15,169.62 590.40,170.32 590.65,171.02 590.90,171.72 591.15,172.39 591.40,173.04 591.65,173.69 591.90,174.34 592.15,174.99 592.40,175.64 592.65,176.29 592.90,176.94 593.15,177.59 593.40,178.24 593.65,178.89 593.90,179.54 593.90,203.50" fill="#fff" stroke="none" stroke-width="0" fill-opacity="0.3"/>
<polygon points="587.90,203.50 587.90,164.10 588.15,164.47 588.40,164.85 588.65,165.42 588.90,166.12 589.15,166.82 589.40,167.52 589.65,168.22 589.90,168.92 590.15,169.62 590.40,170.32 590.65,171.02 590.90,171.72 591.15,172.39 591.40,173.04 591.65,173.69 591.90,174.34 592.15,174.99 592.40,175.64 592.65,176.29 592.90,176.94 593.15,177.59 593.40,178.24 593.65,178.89 593.90,179.54 593.90,203.50" fill="#F07F1E" stroke="none" stroke-width="0" fill-opacity="0.8"/>
<polygon points="602.80,203.50 602.80,170.00 603.05,168.33 603.30,166.67 603.55,164.32 603.80,161.42 604.05,159.28 604.30,158.02 604.55,157.72 604.80,158.41 605.05,160.04 605.30,162.50 605.55,163.68 605.80,164.41 606.05,165.10 606.30,165.60 606.55,166.10 606.80,166.60 607.05,167.10 607.30,167.60 607.55,168.10 607.80,168.60 608.05,169.10 608.30,169.60 608.55,170.10 608.80,170.60 609.00,203.50" fill="#fff" stroke="none" stroke-width="0" fill-opacity="0.3"/>
<polygon points="602.80,203.50 602.80,170.00 603.05,168.33 603.30,166.67 603.55,164.32 603.80,161.42 604.05,159.28 604.30,158.02 604.55,157.72 604.80,158.41 605.05,160.04 605.30,162.50 605.55,163.68 605.80,164.41 606.05,165.10 606.30,165.60 606.55,166.10 606.80,166.60 607.05,167.10 607.30,167.60 607.55,168.10 607.80,168.60 608.05,169.10 608.30,169.60 608.55,170.10 608.80,170.60 609.00,203.50" fill="#3FB54A" stroke="none" stroke-width="0" fill-opacity="0.8"/>
<rect x="557.40" y="146.20" width="4.40" height="4.40" fill="#3A7DC2"/>
<polygon points="572.60,162.21 577.00,162.21 574.80,166.39" fill="#C81A1E" stroke="none" stroke-width="0"/>
<rect x="601.80" y="151.70" width="4.40" height="4.40" fill="#3FB54A"/>
<text x="604.99" y="224.60" font-size="7.56" fill="#333" textLength="13.22" lengthAdjust="spacingAndGlyphs" stroke="#333" stroke-width="0.1">m/z</text>
<polygon points="506.20,80.30 507.30,80.30 507.30,193.60 502.20,193.60" fill="#000" stroke="none" stroke-width="0"/>
<text x="482.10" y="141.60" font-size="11.23" fill="#111" textLength="26.60" lengthAdjust="spacingAndGlyphs" transform="rotate(-90 495.40 141.60)" stroke="#111" stroke-width="0.16">Time</text>
<text x="502.60" y="239.30" font-size="12.29" fill="#111" textLength="9.07" lengthAdjust="spacingAndGlyphs" stroke="#111" stroke-width="0.16">G</text>
<line x1="539.70" y1="244.20" x2="539.70" y2="299.30" stroke="#444" stroke-width="0.8"/>
<line x1="539.70" y1="299.30" x2="682.30" y2="299.30" stroke="#444" stroke-width="0.8"/>
<line x1="537.10" y1="244.50" x2="539.70" y2="244.50" stroke="#444" stroke-width="0.7"/>
<text x="523.03" y="247.00" font-size="7.25" fill="#333" textLength="13.17" lengthAdjust="spacingAndGlyphs" stroke="#333" stroke-width="0.1">100</text>
<line x1="537.10" y1="271.90" x2="539.70" y2="271.90" stroke="#444" stroke-width="0.7"/>
<text x="527.42" y="274.40" font-size="7.25" fill="#333" textLength="8.78" lengthAdjust="spacingAndGlyphs" stroke="#333" stroke-width="0.1">50</text>
<line x1="537.10" y1="299.30" x2="539.70" y2="299.30" stroke="#444" stroke-width="0.7"/>
<text x="531.81" y="301.80" font-size="7.25" fill="#333" textLength="4.39" lengthAdjust="spacingAndGlyphs" stroke="#333" stroke-width="0.1">0</text>
<line x1="545.60" y1="299.30" x2="545.60" y2="301.70" stroke="#444" stroke-width="0.7"/>
<text x="543.41" y="309.20" font-size="7.25" fill="#333" textLength="4.39" lengthAdjust="spacingAndGlyphs" stroke="#333" stroke-width="0.1">0</text>
<line x1="574.10" y1="299.30" x2="574.10" y2="301.70" stroke="#444" stroke-width="0.7"/>
<text x="571.91" y="309.20" font-size="7.25" fill="#333" textLength="4.39" lengthAdjust="spacingAndGlyphs" stroke="#333" stroke-width="0.1">5</text>
<line x1="602.60" y1="299.30" x2="602.60" y2="301.70" stroke="#444" stroke-width="0.7"/>
<text x="598.21" y="309.20" font-size="7.25" fill="#333" textLength="8.78" lengthAdjust="spacingAndGlyphs" stroke="#333" stroke-width="0.1">10</text>
<line x1="631.10" y1="299.30" x2="631.10" y2="301.70" stroke="#444" stroke-width="0.7"/>
<text x="626.71" y="309.20" font-size="7.25" fill="#333" textLength="8.78" lengthAdjust="spacingAndGlyphs" stroke="#333" stroke-width="0.1">15</text>
<line x1="659.60" y1="299.30" x2="659.60" y2="301.70" stroke="#444" stroke-width="0.7"/>
<text x="655.21" y="309.20" font-size="7.25" fill="#333" textLength="8.78" lengthAdjust="spacingAndGlyphs" stroke="#333" stroke-width="0.1">20</text>
<text x="499.15" y="272.10" font-size="7.25" fill="#333" textLength="40.50" lengthAdjust="spacingAndGlyphs" transform="rotate(-90 519.40 272.10)" stroke="#333" stroke-width="0.1">Intensity (%)</text>
<text x="593.50" y="318.10" font-size="7.25" fill="#333" textLength="35.00" lengthAdjust="spacingAndGlyphs" stroke="#333" stroke-width="0.1">Time (min)</text>
<polyline points="547.88,244.54 550.73,247.21 553.58,249.75 556.43,252.17 559.85,254.91 562.70,257.08 566.12,259.54 568.97,261.48 572.39,263.68 575.81,265.75 579.23,267.71 582.65,269.55 586.07,271.28 589.49,272.91 593.48,274.70 596.90,276.13 600.89,277.70 604.88,279.16 608.87,280.52 612.86,281.79 616.85,282.97 620.84,284.08 625.40,285.25 629.96,286.33 634.52,287.32 639.08,288.24 644.21,289.20 649.34,290.07 654.47,290.86 659.60,291.59 665.30,292.32 671.00,292.99 676.70,293.59" fill="none" stroke="#F07F1E" stroke-width="0.9" stroke-linejoin="round"/>
<polyline points="545.60,299.30 547.88,297.10 550.73,294.57 553.01,292.71 555.86,290.58 558.14,289.01 560.99,287.23 563.84,285.62 566.69,284.18 569.54,282.89 572.39,281.75 575.24,280.73 578.66,279.68 582.08,278.78 585.50,278.04 588.92,277.42 592.34,276.93 595.76,276.55 599.75,276.24 603.17,276.07 607.16,275.97 611.15,275.97 615.14,276.05 619.70,276.24 624.26,276.51 628.82,276.86 633.95,277.32 644.78,278.48 657.32,280.04 676.70,282.61" fill="none" stroke="#3FB54A" stroke-width="0.9" stroke-linejoin="round"/>
<polyline points="548.45,299.24 551.30,299.07 554.72,298.74 558.14,298.27 561.56,297.70 564.98,297.02 568.97,296.11 572.96,295.10 576.95,294.01 583.79,291.97 591.77,289.39 599.75,286.70 625.40,277.85 633.95,275.01 641.93,272.45 651.05,269.65 659.60,267.17 668.15,264.83 676.70,262.63" fill="none" stroke="#3A7DC2" stroke-width="0.9" stroke-linejoin="round"/>
<circle cx="551.30" cy="249.76" r="1.55" fill="#F07F1E"/>
<circle cx="551.30" cy="294.59" r="1.55" fill="#3FB54A"/>
<circle cx="551.30" cy="299.03" r="1.55" fill="#3A7DC2"/>
<circle cx="557.00" cy="253.27" r="1.55" fill="#F07F1E"/>
<circle cx="557.00" cy="292.18" r="1.55" fill="#3FB54A"/>
<circle cx="557.00" cy="298.59" r="1.55" fill="#3A7DC2"/>
<circle cx="562.70" cy="255.46" r="1.55" fill="#F07F1E"/>
<circle cx="562.70" cy="289.98" r="1.55" fill="#3FB54A"/>
<circle cx="562.70" cy="298.31" r="1.55" fill="#3A7DC2"/>
<circle cx="568.40" cy="257.38" r="1.55" fill="#F07F1E"/>
<circle cx="568.40" cy="288.34" r="1.55" fill="#3FB54A"/>
<circle cx="568.40" cy="297.66" r="1.55" fill="#3A7DC2"/>
<circle cx="574.10" cy="260.67" r="1.55" fill="#F07F1E"/>
<circle cx="574.10" cy="285.82" r="1.55" fill="#3FB54A"/>
<circle cx="574.10" cy="296.89" r="1.55" fill="#3A7DC2"/>
<circle cx="579.80" cy="264.50" r="1.55" fill="#F07F1E"/>
<circle cx="579.80" cy="283.08" r="1.55" fill="#3FB54A"/>
<circle cx="579.80" cy="295.90" r="1.55" fill="#3A7DC2"/>
<circle cx="585.50" cy="266.42" r="1.55" fill="#F07F1E"/>
<circle cx="585.50" cy="281.76" r="1.55" fill="#3FB54A"/>
<circle cx="585.50" cy="295.30" r="1.55" fill="#3A7DC2"/>
<circle cx="591.20" cy="268.61" r="1.55" fill="#F07F1E"/>
<circle cx="591.20" cy="281.00" r="1.55" fill="#3FB54A"/>
<circle cx="591.20" cy="294.20" r="1.55" fill="#3A7DC2"/>
<circle cx="596.90" cy="273.22" r="1.55" fill="#F07F1E"/>
<circle cx="596.90" cy="277.98" r="1.55" fill="#3FB54A"/>
<circle cx="596.90" cy="292.18" r="1.55" fill="#3A7DC2"/>
<circle cx="602.60" cy="278.59" r="1.55" fill="#F07F1E"/>
<circle cx="602.60" cy="275.63" r="1.55" fill="#3FB54A"/>
<circle cx="602.60" cy="289.82" r="1.55" fill="#3A7DC2"/>
<circle cx="608.30" cy="280.67" r="1.55" fill="#F07F1E"/>
<circle cx="608.30" cy="275.02" r="1.55" fill="#3FB54A"/>
<circle cx="608.30" cy="287.90" r="1.55" fill="#3A7DC2"/>
<circle cx="614.00" cy="283.19" r="1.55" fill="#F07F1E"/>
<circle cx="614.00" cy="275.74" r="1.55" fill="#3FB54A"/>
<circle cx="614.00" cy="285.76" r="1.55" fill="#3A7DC2"/>
<circle cx="619.70" cy="285.22" r="1.55" fill="#F07F1E"/>
<circle cx="619.70" cy="273.00" r="1.55" fill="#3FB54A"/>
<circle cx="619.70" cy="285.22" r="1.55" fill="#3A7DC2"/>
<circle cx="625.40" cy="291.19" r="1.55" fill="#F07F1E"/>
<circle cx="625.40" cy="274.42" r="1.55" fill="#3FB54A"/>
<circle cx="625.40" cy="278.42" r="1.55" fill="#3A7DC2"/>
<circle cx="631.10" cy="291.19" r="1.55" fill="#F07F1E"/>
<circle cx="631.10" cy="276.39" r="1.55" fill="#3FB54A"/>
<circle cx="631.10" cy="276.39" r="1.55" fill="#3A7DC2"/>
<circle cx="636.80" cy="291.19" r="1.55" fill="#F07F1E"/>
<circle cx="636.80" cy="276.89" r="1.55" fill="#3FB54A"/>
<circle cx="636.80" cy="276.01" r="1.55" fill="#3A7DC2"/>
<circle cx="642.50" cy="290.92" r="1.55" fill="#F07F1E"/>
<circle cx="642.50" cy="279.41" r="1.55" fill="#3FB54A"/>
<circle cx="642.50" cy="273.54" r="1.55" fill="#3A7DC2"/>
<circle cx="648.20" cy="294.70" r="1.55" fill="#F07F1E"/>
<circle cx="648.20" cy="277.60" r="1.55" fill="#3FB54A"/>
<circle cx="648.20" cy="271.63" r="1.55" fill="#3A7DC2"/>
<circle cx="653.90" cy="294.31" r="1.55" fill="#F07F1E"/>
<circle cx="653.90" cy="283.02" r="1.55" fill="#3FB54A"/>
<circle cx="653.90" cy="266.69" r="1.55" fill="#3A7DC2"/>
<circle cx="659.60" cy="293.38" r="1.55" fill="#F07F1E"/>
<circle cx="659.60" cy="284.50" r="1.55" fill="#3FB54A"/>
<circle cx="659.60" cy="265.82" r="1.55" fill="#3A7DC2"/>
<circle cx="665.30" cy="293.22" r="1.55" fill="#F07F1E"/>
<circle cx="665.30" cy="284.78" r="1.55" fill="#3FB54A"/>
<circle cx="665.30" cy="265.82" r="1.55" fill="#3A7DC2"/>
<circle cx="671.00" cy="295.41" r="1.55" fill="#F07F1E"/>
<circle cx="671.00" cy="285.22" r="1.55" fill="#3FB54A"/>
<circle cx="671.00" cy="263.13" r="1.55" fill="#3A7DC2"/>
<circle cx="676.70" cy="296.29" r="1.55" fill="#F07F1E"/>
<circle cx="676.70" cy="287.52" r="1.55" fill="#3FB54A"/>
<circle cx="676.70" cy="260.01" r="1.55" fill="#3A7DC2"/>
<circle cx="537.60" cy="328.00" r="2.00" fill="#F07F1E"/>
<text x="547.50" y="331.80" font-size="10.82" fill="#F07F1E" textLength="37.80" lengthAdjust="spacingAndGlyphs" stroke="#F07F1E" stroke-width="0.16">Zn-p53</text>
<rect x="536.10" y="337.30" width="3.80" height="3.80" fill="#3FB54A"/>
<text x="543.20" y="343.10" font-size="10.82" fill="#3FB54A" textLength="45.20" lengthAdjust="spacingAndGlyphs" stroke="#3FB54A" stroke-width="0.16">(Zn-p53)</text>
<text x="588.70" y="345.30" font-size="7.35" fill="#3FB54A" textLength="32.40" lengthAdjust="spacingAndGlyphs" stroke="#3FB54A" stroke-width="0.1">2Cys-OH</text>
<rect x="536.10" y="351.90" width="3.80" height="3.80" fill="#3A7DC2"/>
<text x="543.20" y="356.40" font-size="10.82" fill="#3A7DC2" textLength="50.40" lengthAdjust="spacingAndGlyphs" stroke="#3A7DC2" stroke-width="0.16">(apo-p53)</text>
<text x="593.90" y="358.60" font-size="7.35" fill="#3A7DC2" textLength="25.40" lengthAdjust="spacingAndGlyphs" stroke="#3A7DC2" stroke-width="0.1">2-5S-S</text>
<polygon points="536.00,364.02 540.80,364.02 538.40,368.58" fill="#C81A1E" stroke="none" stroke-width="0"/>
<text x="543.20" y="370.50" font-size="10.82" fill="#C81A1E" textLength="50.40" lengthAdjust="spacingAndGlyphs" stroke="#C81A1E" stroke-width="0.16">(apo-p53)</text>
<text x="593.90" y="372.70" font-size="7.35" fill="#C81A1E" textLength="56.80" lengthAdjust="spacingAndGlyphs" stroke="#C81A1E" stroke-width="0.1">2,3S-S,2Cys-OH</text>
<text x="1.40" y="370.60" font-size="12.29" fill="#111" textLength="8.80" lengthAdjust="spacingAndGlyphs" stroke="#111" stroke-width="0.16">H</text>
<circle cx="55.50" cy="417.00" r="32.00" fill="#BCC4DE"/>
<circle cx="82.30" cy="418.00" r="8.80" fill="#fff"/>
<circle cx="86.90" cy="418.10" r="6.20" fill="#5E2A88"/>
<line x1="60.48" y1="388.34" x2="60.05" y2="390.80" stroke="#1a1a1a" stroke-width="0.85"/>
<line x1="69.01" y1="390.25" x2="67.88" y2="392.48" stroke="#1a1a1a" stroke-width="0.85"/>
<line x1="75.61" y1="394.44" x2="73.94" y2="396.30" stroke="#1a1a1a" stroke-width="0.85"/>
<line x1="80.71" y1="400.04" x2="78.64" y2="401.44" stroke="#1a1a1a" stroke-width="0.85"/>
<line x1="84.73" y1="406.87" x2="82.37" y2="407.69" stroke="#1a1a1a" stroke-width="0.85"/>
<line x1="83.17" y1="431.27" x2="80.95" y2="430.13" stroke="#1a1a1a" stroke-width="0.85"/>
<line x1="77.66" y1="438.10" x2="75.85" y2="436.38" stroke="#1a1a1a" stroke-width="0.85"/>
<line x1="71.06" y1="443.19" x2="69.78" y2="441.04" stroke="#1a1a1a" stroke-width="0.85"/>
<line x1="63.14" y1="446.34" x2="62.51" y2="443.92" stroke="#1a1a1a" stroke-width="0.85"/>
<line x1="53.48" y1="446.71" x2="53.65" y2="444.22" stroke="#1a1a1a" stroke-width="0.85"/>
<circle cx="61.20" cy="384.20" r="4.10" fill="#E6E61E"/>
<circle cx="60.95" cy="383.90" r="3.20" fill="#F4F42A"/>
<circle cx="60.80" cy="383.70" r="1.84" fill="#FBFB55"/>
<text x="57.75" y="387.40" font-size="5.25" fill="#1a1a1a" textLength="6.90" lengthAdjust="spacingAndGlyphs" stroke="#1a1a1a" stroke-width="0.1">SH</text>
<circle cx="70.90" cy="386.50" r="4.10" fill="#E6E61E"/>
<circle cx="70.65" cy="386.20" r="3.20" fill="#F4F42A"/>
<circle cx="70.50" cy="386.00" r="1.84" fill="#FBFB55"/>
<text x="67.45" y="389.70" font-size="5.25" fill="#1a1a1a" textLength="6.90" lengthAdjust="spacingAndGlyphs" stroke="#1a1a1a" stroke-width="0.1">SH</text>
<circle cx="78.40" cy="391.30" r="4.10" fill="#E6E61E"/>
<circle cx="78.15" cy="391.00" r="3.20" fill="#F4F42A"/>
<circle cx="78.00" cy="390.80" r="1.84" fill="#FBFB55"/>
<text x="74.95" y="394.50" font-size="5.25" fill="#1a1a1a" textLength="6.90" lengthAdjust="spacingAndGlyphs" stroke="#1a1a1a" stroke-width="0.1">SH</text>
<circle cx="84.20" cy="397.70" r="4.10" fill="#E6E61E"/>
<circle cx="83.95" cy="397.40" r="3.20" fill="#F4F42A"/>
<circle cx="83.80" cy="397.20" r="1.84" fill="#FBFB55"/>
<text x="80.75" y="400.90" font-size="5.25" fill="#1a1a1a" textLength="6.90" lengthAdjust="spacingAndGlyphs" stroke="#1a1a1a" stroke-width="0.1">SH</text>
<circle cx="88.70" cy="405.50" r="4.10" fill="#E6E61E"/>
<circle cx="88.45" cy="405.20" r="3.20" fill="#F4F42A"/>
<circle cx="88.30" cy="405.00" r="1.84" fill="#FBFB55"/>
<text x="86.20" y="408.90" font-size="6.93" fill="#1a1a1a" textLength="4.00" lengthAdjust="spacingAndGlyphs" stroke="#1a1a1a" stroke-width="0.1">S</text>
<circle cx="91.20" cy="405.30" r="0.50" fill="#1a1a1a"/>
<circle cx="86.90" cy="433.20" r="4.10" fill="#E6E61E"/>
<circle cx="86.65" cy="432.90" r="3.20" fill="#F4F42A"/>
<circle cx="86.50" cy="432.70" r="1.84" fill="#FBFB55"/>
<text x="84.40" y="436.60" font-size="6.93" fill="#1a1a1a" textLength="4.00" lengthAdjust="spacingAndGlyphs" stroke="#1a1a1a" stroke-width="0.1">S</text>
<circle cx="89.40" cy="433.00" r="0.50" fill="#1a1a1a"/>
<circle cx="80.70" cy="441.00" r="4.10" fill="#E6E61E"/>
<circle cx="80.45" cy="440.70" r="3.20" fill="#F4F42A"/>
<circle cx="80.30" cy="440.50" r="1.84" fill="#FBFB55"/>
<text x="77.25" y="444.20" font-size="5.25" fill="#1a1a1a" textLength="6.90" lengthAdjust="spacingAndGlyphs" stroke="#1a1a1a" stroke-width="0.1">SH</text>
<circle cx="73.20" cy="446.80" r="4.10" fill="#E6E61E"/>
<circle cx="72.95" cy="446.50" r="3.20" fill="#F4F42A"/>
<circle cx="72.80" cy="446.30" r="1.84" fill="#FBFB55"/>
<text x="69.75" y="450.00" font-size="5.25" fill="#1a1a1a" textLength="6.90" lengthAdjust="spacingAndGlyphs" stroke="#1a1a1a" stroke-width="0.1">SH</text>
<circle cx="64.20" cy="450.40" r="4.10" fill="#E6E61E"/>
<circle cx="63.95" cy="450.10" r="3.20" fill="#F4F42A"/>
<circle cx="63.80" cy="449.90" r="1.84" fill="#FBFB55"/>
<text x="60.75" y="453.60" font-size="5.25" fill="#1a1a1a" textLength="6.90" lengthAdjust="spacingAndGlyphs" stroke="#1a1a1a" stroke-width="0.1">SH</text>
<circle cx="53.20" cy="450.90" r="4.10" fill="#E6E61E"/>
<circle cx="52.95" cy="450.60" r="3.20" fill="#F4F42A"/>
<circle cx="52.80" cy="450.40" r="1.84" fill="#FBFB55"/>
<text x="49.75" y="454.10" font-size="5.25" fill="#1a1a1a" textLength="6.90" lengthAdjust="spacingAndGlyphs" stroke="#1a1a1a" stroke-width="0.1">SH</text>
<text x="94.00" y="400.20" font-size="8.51" fill="#1a1a1a" textLength="68.30" lengthAdjust="spacingAndGlyphs" stroke="#1a1a1a" stroke-width="0.1">Cys sulfenic acid</text>
<text x="109.30" y="409.00" font-size="8.51" fill="#1a1a1a" textLength="39.40" lengthAdjust="spacingAndGlyphs" stroke="#1a1a1a" stroke-width="0.1">formation</text>
<path d="M125.80,387.50 L123.75,389.55 A2.9,2.9 0 1,0 123.00,386.75 Z" fill="#E8101A"/>
<text x="129.60" y="389.90" font-size="6.93" fill="#1a1a1a" textLength="10.20" lengthAdjust="spacingAndGlyphs" stroke="#1a1a1a" stroke-width="0.1">OH</text>
<line x1="98.80" y1="416.50" x2="146.90" y2="416.50" stroke="#000" stroke-width="1.25"/>
<polygon points="152.90,416.50 145.90,413.60 147.50,416.50 145.90,419.40" fill="#000" stroke="none" stroke-width="0"/>
<path d="M105.40,432.00 Q122.00,405.00 140.60,428.60" fill="none" stroke="#000" stroke-width="0.9"/>
<polygon points="141.53,429.78 136.30,427.02 139.19,426.81 140.07,424.05" fill="#000" stroke="none" stroke-width="0"/>
<text x="96.20" y="440.70" font-size="8.51" fill="#1a1a1a" textLength="6.09" lengthAdjust="spacingAndGlyphs" stroke="#1a1a1a" stroke-width="0.1">H</text>
<text x="102.29" y="443.10" font-size="4.93" fill="#1a1a1a" textLength="2.99" lengthAdjust="spacingAndGlyphs">2</text>
<text x="105.28" y="440.70" font-size="8.51" fill="#1a1a1a" textLength="6.38" lengthAdjust="spacingAndGlyphs" stroke="#1a1a1a" stroke-width="0.1">O</text>
<text x="111.66" y="443.10" font-size="4.93" fill="#1a1a1a" textLength="2.99" lengthAdjust="spacingAndGlyphs">2</text>
<text x="136.20" y="440.70" font-size="8.51" fill="#1a1a1a" textLength="6.09" lengthAdjust="spacingAndGlyphs" stroke="#1a1a1a" stroke-width="0.1">H</text>
<text x="142.29" y="443.10" font-size="4.93" fill="#1a1a1a" textLength="2.99" lengthAdjust="spacingAndGlyphs">2</text>
<text x="145.28" y="440.70" font-size="8.51" fill="#1a1a1a" textLength="6.38" lengthAdjust="spacingAndGlyphs" stroke="#1a1a1a" stroke-width="0.1">O</text>
<ellipse cx="189.0" cy="415.4" rx="25.9" ry="29.2" fill="#BCC4DE"/>
<circle cx="209.40" cy="416.40" r="7.70" fill="#fff"/>
<circle cx="209.30" cy="416.30" r="5.80" fill="#5E2A88"/>
<line x1="189.69" y1="388.90" x2="189.63" y2="391.40" stroke="#1a1a1a" stroke-width="0.85"/>
<line x1="198.04" y1="390.94" x2="197.18" y2="393.28" stroke="#1a1a1a" stroke-width="0.85"/>
<line x1="204.46" y1="395.04" x2="202.95" y2="397.04" stroke="#1a1a1a" stroke-width="0.85"/>
<line x1="209.79" y1="400.45" x2="207.76" y2="401.91" stroke="#1a1a1a" stroke-width="0.85"/>
<line x1="214.77" y1="405.77" x2="212.42" y2="406.65" stroke="#1a1a1a" stroke-width="0.85"/>
<line x1="214.03" y1="430.98" x2="211.91" y2="429.66" stroke="#1a1a1a" stroke-width="0.85"/>
<line x1="206.57" y1="436.00" x2="204.95" y2="434.10" stroke="#1a1a1a" stroke-width="0.85"/>
<line x1="200.58" y1="441.17" x2="199.55" y2="438.89" stroke="#1a1a1a" stroke-width="0.85"/>
<line x1="192.41" y1="444.73" x2="192.13" y2="442.24" stroke="#1a1a1a" stroke-width="0.85"/>
<line x1="182.77" y1="444.79" x2="183.29" y2="442.35" stroke="#1a1a1a" stroke-width="0.85"/>
<circle cx="189.80" cy="384.70" r="4.10" fill="#E6E61E"/>
<circle cx="189.55" cy="384.40" r="3.20" fill="#F4F42A"/>
<circle cx="189.40" cy="384.20" r="1.84" fill="#FBFB55"/>
<text x="186.35" y="387.90" font-size="5.25" fill="#1a1a1a" textLength="6.90" lengthAdjust="spacingAndGlyphs" stroke="#1a1a1a" stroke-width="0.1">SH</text>
<circle cx="199.50" cy="387.00" r="4.10" fill="#E6E61E"/>
<circle cx="199.25" cy="386.70" r="3.20" fill="#F4F42A"/>
<circle cx="199.10" cy="386.50" r="1.84" fill="#FBFB55"/>
<text x="196.05" y="390.20" font-size="5.25" fill="#1a1a1a" textLength="6.90" lengthAdjust="spacingAndGlyphs" stroke="#1a1a1a" stroke-width="0.1">SH</text>
<circle cx="207.00" cy="391.70" r="4.10" fill="#E6E61E"/>
<circle cx="206.75" cy="391.40" r="3.20" fill="#F4F42A"/>
<circle cx="206.60" cy="391.20" r="1.84" fill="#FBFB55"/>
<text x="203.55" y="394.90" font-size="5.25" fill="#1a1a1a" textLength="6.90" lengthAdjust="spacingAndGlyphs" stroke="#1a1a1a" stroke-width="0.1">SH</text>
<circle cx="213.20" cy="398.00" r="4.10" fill="#E6E61E"/>
<circle cx="212.95" cy="397.70" r="3.20" fill="#F4F42A"/>
<circle cx="212.80" cy="397.50" r="1.84" fill="#FBFB55"/>
<text x="209.75" y="401.20" font-size="5.25" fill="#1a1a1a" textLength="6.90" lengthAdjust="spacingAndGlyphs" stroke="#1a1a1a" stroke-width="0.1">SH</text>
<circle cx="218.70" cy="404.30" r="4.10" fill="#E6E61E"/>
<circle cx="218.45" cy="404.00" r="3.20" fill="#F4F42A"/>
<circle cx="218.30" cy="403.80" r="1.84" fill="#FBFB55"/>
<text x="216.70" y="407.60" font-size="6.93" fill="#1a1a1a" textLength="4.00" lengthAdjust="spacingAndGlyphs" stroke="#1a1a1a" stroke-width="0.1">S</text>
<circle cx="217.60" cy="433.20" r="4.10" fill="#E6E61E"/>
<circle cx="217.35" cy="432.90" r="3.20" fill="#F4F42A"/>
<circle cx="217.20" cy="432.70" r="1.84" fill="#FBFB55"/>
<text x="215.60" y="436.50" font-size="6.93" fill="#1a1a1a" textLength="4.00" lengthAdjust="spacingAndGlyphs" stroke="#1a1a1a" stroke-width="0.1">S</text>
<circle cx="209.30" cy="439.20" r="4.10" fill="#E6E61E"/>
<circle cx="209.05" cy="438.90" r="3.20" fill="#F4F42A"/>
<circle cx="208.90" cy="438.70" r="1.84" fill="#FBFB55"/>
<text x="205.85" y="442.40" font-size="5.25" fill="#1a1a1a" textLength="6.90" lengthAdjust="spacingAndGlyphs" stroke="#1a1a1a" stroke-width="0.1">SH</text>
<circle cx="202.30" cy="445.00" r="4.10" fill="#E6E61E"/>
<circle cx="202.05" cy="444.70" r="3.20" fill="#F4F42A"/>
<circle cx="201.90" cy="444.50" r="1.84" fill="#FBFB55"/>
<text x="198.85" y="448.20" font-size="5.25" fill="#1a1a1a" textLength="6.90" lengthAdjust="spacingAndGlyphs" stroke="#1a1a1a" stroke-width="0.1">SH</text>
<circle cx="192.90" cy="448.90" r="4.10" fill="#E6E61E"/>
<circle cx="192.65" cy="448.60" r="3.20" fill="#F4F42A"/>
<circle cx="192.50" cy="448.40" r="1.84" fill="#FBFB55"/>
<text x="189.45" y="452.10" font-size="5.25" fill="#1a1a1a" textLength="6.90" lengthAdjust="spacingAndGlyphs" stroke="#1a1a1a" stroke-width="0.1">SH</text>
<circle cx="181.90" cy="448.90" r="4.10" fill="#E6E61E"/>
<circle cx="181.65" cy="448.60" r="3.20" fill="#F4F42A"/>
<circle cx="181.50" cy="448.40" r="1.84" fill="#FBFB55"/>
<text x="178.45" y="452.10" font-size="5.25" fill="#1a1a1a" textLength="6.90" lengthAdjust="spacingAndGlyphs" stroke="#1a1a1a" stroke-width="0.1">SH</text>
<path d="M224.10,402.00 L222.41,404.24 A2.8,2.8 0 1,0 221.32,401.66 Z" fill="#E8101A"/>
<path d="M222.70,435.80 L219.90,435.95 A2.8,2.8 0 1,0 221.18,433.45 Z" fill="#E8101A"/>
<text x="238.50" y="400.20" font-size="8.51" fill="#1a1a1a" textLength="71.60" lengthAdjust="spacingAndGlyphs" stroke="#1a1a1a" stroke-width="0.1">Zn(II) dissociation</text>
<text x="246.50" y="411.90" font-size="8.51" fill="#1a1a1a" textLength="54.90" lengthAdjust="spacingAndGlyphs" stroke="#1a1a1a" stroke-width="0.1">S-S formation</text>
<line x1="246.20" y1="417.30" x2="290.60" y2="417.30" stroke="#000" stroke-width="1.25"/>
<polygon points="296.60,417.30 289.60,414.40 291.20,417.30 289.60,420.20" fill="#000" stroke="none" stroke-width="0"/>
<path d="M257.00,417.30 Q271.00,417.00 272.60,433.60" fill="none" stroke="#000" stroke-width="0.9"/>
<polygon points="272.74,435.09 269.84,429.95 272.38,431.33 274.61,429.49" fill="#000" stroke="none" stroke-width="0"/>
<circle cx="255.20" cy="428.20" r="5.80" fill="#5E2A88"/>
<text x="268.00" y="447.50" font-size="8.51" fill="#1a1a1a" textLength="6.09" lengthAdjust="spacingAndGlyphs" stroke="#1a1a1a" stroke-width="0.1">H</text>
<text x="274.09" y="449.90" font-size="4.93" fill="#1a1a1a" textLength="2.99" lengthAdjust="spacingAndGlyphs">2</text>
<text x="277.08" y="447.50" font-size="8.51" fill="#1a1a1a" textLength="6.38" lengthAdjust="spacingAndGlyphs" stroke="#1a1a1a" stroke-width="0.1">O</text>
<path d="M336.10,390.90 C339.08,390.67 342.92,391.03 345.10,391.60 C347.28,392.17 347.82,393.62 349.20,394.30 C350.58,394.98 352.02,395.23 353.40,395.70 C354.78,396.17 356.12,396.40 357.50,397.10 C358.88,397.80 360.55,398.75 361.70,399.90 C362.85,401.05 363.95,402.55 364.40,404.00 C364.85,405.45 364.70,407.47 364.40,408.60 C364.10,409.73 363.33,410.50 362.60,410.80 C361.87,411.10 361.10,410.72 360.00,410.40 C358.90,410.08 357.67,409.28 356.00,408.90 C354.33,408.52 351.63,408.12 350.00,408.10 C348.37,408.08 347.12,408.28 346.20,408.80 C345.28,409.32 344.85,409.58 344.50,411.20 C344.15,412.82 344.12,416.07 344.10,418.50 C344.08,420.93 344.08,424.22 344.40,425.80 C344.72,427.38 344.73,427.55 346.00,428.00 C347.27,428.45 350.00,428.65 352.00,428.50 C354.00,428.35 356.33,427.62 358.00,427.10 C359.67,426.58 360.98,425.32 362.00,425.40 C363.02,425.48 363.70,426.57 364.10,427.60 C364.50,428.63 364.58,430.37 364.40,431.60 C364.22,432.83 363.92,433.85 363.00,435.00 C362.08,436.15 360.27,437.57 358.90,438.50 C357.53,439.43 356.18,439.92 354.80,440.60 C353.42,441.28 352.22,441.92 350.60,442.60 C348.98,443.28 347.17,444.23 345.10,444.70 C343.03,445.17 340.27,445.52 338.20,445.40 C336.13,445.28 334.77,444.80 332.70,444.00 C330.63,443.20 327.87,442.32 325.80,440.60 C323.73,438.88 321.68,436.23 320.30,433.70 C318.92,431.17 318.02,428.40 317.50,425.40 C316.98,422.40 317.08,418.92 317.20,415.70 C317.32,412.48 317.45,409.08 318.20,406.10 C318.95,403.12 320.20,399.98 321.70,397.80 C323.20,395.62 324.80,394.15 327.20,393.00 C329.60,391.85 333.12,391.13 336.10,390.90Z" fill="#BCC4DE"/>
<line x1="348.80" y1="395.00" x2="348.80" y2="397.30" stroke="#1a1a1a" stroke-width="0.85"/>
<line x1="357.80" y1="397.20" x2="357.00" y2="399.30" stroke="#1a1a1a" stroke-width="0.85"/>
<line x1="363.50" y1="406.20" x2="361.60" y2="407.60" stroke="#1a1a1a" stroke-width="0.85"/>
<line x1="342.60" y1="414.60" x2="345.20" y2="414.90" stroke="#1a1a1a" stroke-width="0.85"/>
<line x1="360.30" y1="414.30" x2="362.60" y2="413.50" stroke="#1a1a1a" stroke-width="0.85"/>
<line x1="342.60" y1="424.30" x2="345.20" y2="423.80" stroke="#1a1a1a" stroke-width="0.85"/>
<line x1="360.30" y1="424.30" x2="362.80" y2="425.30" stroke="#1a1a1a" stroke-width="0.85"/>
<line x1="363.80" y1="430.40" x2="361.90" y2="429.20" stroke="#1a1a1a" stroke-width="0.85"/>
<line x1="357.20" y1="436.20" x2="356.20" y2="434.60" stroke="#1a1a1a" stroke-width="0.85"/>
<line x1="348.80" y1="442.60" x2="348.80" y2="440.40" stroke="#1a1a1a" stroke-width="0.85"/>
<circle cx="349.00" cy="390.90" r="4.10" fill="#E6E61E"/>
<circle cx="348.75" cy="390.60" r="3.20" fill="#F4F42A"/>
<circle cx="348.60" cy="390.40" r="1.84" fill="#FBFB55"/>
<text x="345.55" y="394.10" font-size="5.25" fill="#1a1a1a" textLength="6.90" lengthAdjust="spacingAndGlyphs" stroke="#1a1a1a" stroke-width="0.1">SH</text>
<circle cx="358.90" cy="393.40" r="4.10" fill="#E6E61E"/>
<circle cx="358.65" cy="393.10" r="3.20" fill="#F4F42A"/>
<circle cx="358.50" cy="392.90" r="1.84" fill="#FBFB55"/>
<text x="355.45" y="396.60" font-size="5.25" fill="#1a1a1a" textLength="6.90" lengthAdjust="spacingAndGlyphs" stroke="#1a1a1a" stroke-width="0.1">SH</text>
<circle cx="348.70" cy="414.70" r="3.30" fill="#E6E61E"/>
<circle cx="348.45" cy="414.40" r="2.57" fill="#F4F42A"/>
<circle cx="348.30" cy="414.20" r="1.48" fill="#FBFB55"/>
<text x="347.20" y="417.40" font-size="6.41" fill="#1a1a1a" textLength="3.60" lengthAdjust="spacingAndGlyphs" stroke="none">S</text>
<circle cx="356.40" cy="414.70" r="3.30" fill="#E6E61E"/>
<circle cx="356.15" cy="414.40" r="2.57" fill="#F4F42A"/>
<circle cx="356.00" cy="414.20" r="1.48" fill="#FBFB55"/>
<text x="354.90" y="417.40" font-size="6.41" fill="#1a1a1a" textLength="3.60" lengthAdjust="spacingAndGlyphs" stroke="none">S</text>
<circle cx="348.60" cy="423.00" r="3.30" fill="#E6E61E"/>
<circle cx="348.35" cy="422.70" r="2.57" fill="#F4F42A"/>
<circle cx="348.20" cy="422.50" r="1.48" fill="#FBFB55"/>
<text x="347.10" y="425.70" font-size="6.41" fill="#1a1a1a" textLength="3.60" lengthAdjust="spacingAndGlyphs" stroke="none">S</text>
<circle cx="356.40" cy="423.00" r="3.30" fill="#E6E61E"/>
<circle cx="356.15" cy="422.70" r="2.57" fill="#F4F42A"/>
<circle cx="356.00" cy="422.50" r="1.48" fill="#FBFB55"/>
<text x="354.90" y="425.70" font-size="6.41" fill="#1a1a1a" textLength="3.60" lengthAdjust="spacingAndGlyphs" stroke="none">S</text>
<circle cx="359.60" cy="439.90" r="4.10" fill="#E6E61E"/>
<circle cx="359.35" cy="439.60" r="3.20" fill="#F4F42A"/>
<circle cx="359.20" cy="439.40" r="1.84" fill="#FBFB55"/>
<text x="356.15" y="443.10" font-size="5.25" fill="#1a1a1a" textLength="6.90" lengthAdjust="spacingAndGlyphs" stroke="#1a1a1a" stroke-width="0.1">SH</text>
<circle cx="349.00" cy="446.80" r="4.10" fill="#E6E61E"/>
<circle cx="348.75" cy="446.50" r="3.20" fill="#F4F42A"/>
<circle cx="348.60" cy="446.30" r="1.84" fill="#FBFB55"/>
<text x="345.55" y="450.00" font-size="5.25" fill="#1a1a1a" textLength="6.90" lengthAdjust="spacingAndGlyphs" stroke="#1a1a1a" stroke-width="0.1">SH</text>
<circle cx="366.50" cy="403.30" r="4.10" fill="#E6E61E"/>
<circle cx="366.25" cy="403.00" r="3.20" fill="#F4F42A"/>
<circle cx="366.10" cy="402.80" r="1.84" fill="#FBFB55"/>
<text x="364.00" y="406.70" font-size="6.93" fill="#1a1a1a" textLength="4.00" lengthAdjust="spacingAndGlyphs" stroke="#1a1a1a" stroke-width="0.1">S</text>
<circle cx="369.00" cy="403.10" r="0.50" fill="#1a1a1a"/>
<circle cx="367.20" cy="433.00" r="4.10" fill="#E6E61E"/>
<circle cx="366.95" cy="432.70" r="3.20" fill="#F4F42A"/>
<circle cx="366.80" cy="432.50" r="1.84" fill="#FBFB55"/>
<text x="364.70" y="436.40" font-size="6.93" fill="#1a1a1a" textLength="4.00" lengthAdjust="spacingAndGlyphs" stroke="#1a1a1a" stroke-width="0.1">S</text>
<circle cx="369.70" cy="432.80" r="0.50" fill="#1a1a1a"/>
<text x="315.20" y="466.90" font-size="8.51" fill="#1a1a1a" textLength="73.20" lengthAdjust="spacingAndGlyphs" stroke="#1a1a1a" stroke-width="0.1">Disulfide-induced</text>
<text x="303.90" y="475.70" font-size="8.51" fill="#1a1a1a" textLength="94.20" lengthAdjust="spacingAndGlyphs" stroke="#1a1a1a" stroke-width="0.1">conformational change</text>
<path d="M416.00,388.20 L413.95,390.25 A2.9,2.9 0 1,0 413.20,387.45 Z" fill="#E8101A"/>
<text x="419.80" y="390.60" font-size="6.93" fill="#1a1a1a" textLength="10.20" lengthAdjust="spacingAndGlyphs" stroke="#1a1a1a" stroke-width="0.1">OH</text>
<text x="389.70" y="400.20" font-size="8.51" fill="#1a1a1a" textLength="68.00" lengthAdjust="spacingAndGlyphs" stroke="#1a1a1a" stroke-width="0.1">Cys sulfenic acid</text>
<text x="404.80" y="408.90" font-size="8.51" fill="#1a1a1a" textLength="39.30" lengthAdjust="spacingAndGlyphs" stroke="#1a1a1a" stroke-width="0.1">formation</text>
<line x1="396.00" y1="415.00" x2="441.10" y2="415.00" stroke="#000" stroke-width="1.25"/>
<polygon points="447.10,415.00 440.10,412.10 441.70,415.00 440.10,417.90" fill="#000" stroke="none" stroke-width="0"/>
<path d="M400.30,430.00 Q417.00,403.50 436.00,426.30" fill="none" stroke="#000" stroke-width="0.9"/>
<polygon points="436.96,427.45 431.66,424.84 434.54,424.55 435.35,421.77" fill="#000" stroke="none" stroke-width="0"/>
<text x="391.30" y="439.90" font-size="8.51" fill="#1a1a1a" textLength="6.09" lengthAdjust="spacingAndGlyphs" stroke="#1a1a1a" stroke-width="0.1">H</text>
<text x="397.39" y="442.30" font-size="4.93" fill="#1a1a1a" textLength="2.99" lengthAdjust="spacingAndGlyphs">2</text>
<text x="400.38" y="439.90" font-size="8.51" fill="#1a1a1a" textLength="6.38" lengthAdjust="spacingAndGlyphs" stroke="#1a1a1a" stroke-width="0.1">O</text>
<text x="406.76" y="442.30" font-size="4.93" fill="#1a1a1a" textLength="2.99" lengthAdjust="spacingAndGlyphs">2</text>
<text x="432.60" y="439.90" font-size="8.51" fill="#1a1a1a" textLength="6.09" lengthAdjust="spacingAndGlyphs" stroke="#1a1a1a" stroke-width="0.1">H</text>
<text x="438.69" y="442.30" font-size="4.93" fill="#1a1a1a" textLength="2.99" lengthAdjust="spacingAndGlyphs">2</text>
<text x="441.68" y="439.90" font-size="8.51" fill="#1a1a1a" textLength="6.38" lengthAdjust="spacingAndGlyphs" stroke="#1a1a1a" stroke-width="0.1">O</text>
<path d="M480.40,390.40 C483.38,390.17 487.22,390.53 489.40,391.10 C491.58,391.67 492.12,393.12 493.50,393.80 C494.88,394.48 496.32,394.73 497.70,395.20 C499.08,395.67 500.42,395.90 501.80,396.60 C503.18,397.30 504.85,398.25 506.00,399.40 C507.15,400.55 508.25,402.05 508.70,403.50 C509.15,404.95 509.00,406.97 508.70,408.10 C508.40,409.23 507.63,410.00 506.90,410.30 C506.17,410.60 505.40,410.22 504.30,409.90 C503.20,409.58 501.97,408.78 500.30,408.40 C498.63,408.02 495.93,407.62 494.30,407.60 C492.67,407.58 491.42,407.78 490.50,408.30 C489.58,408.82 489.15,409.08 488.80,410.70 C488.45,412.32 488.42,415.57 488.40,418.00 C488.38,420.43 488.38,423.72 488.70,425.30 C489.02,426.88 489.03,427.05 490.30,427.50 C491.57,427.95 494.30,428.15 496.30,428.00 C498.30,427.85 500.63,427.12 502.30,426.60 C503.97,426.08 505.28,424.82 506.30,424.90 C507.32,424.98 508.00,426.07 508.40,427.10 C508.80,428.13 508.88,429.87 508.70,431.10 C508.52,432.33 508.22,433.35 507.30,434.50 C506.38,435.65 504.57,437.07 503.20,438.00 C501.83,438.93 500.48,439.42 499.10,440.10 C497.72,440.78 496.52,441.42 494.90,442.10 C493.28,442.78 491.47,443.73 489.40,444.20 C487.33,444.67 484.57,445.02 482.50,444.90 C480.43,444.78 479.07,444.30 477.00,443.50 C474.93,442.70 472.17,441.82 470.10,440.10 C468.03,438.38 465.98,435.73 464.60,433.20 C463.22,430.67 462.32,427.90 461.80,424.90 C461.28,421.90 461.38,418.42 461.50,415.20 C461.62,411.98 461.75,408.58 462.50,405.60 C463.25,402.62 464.50,399.48 466.00,397.30 C467.50,395.12 469.10,393.65 471.50,392.50 C473.90,391.35 477.42,390.63 480.40,390.40Z" fill="#BCC4DE"/>
<line x1="493.10" y1="394.50" x2="493.10" y2="396.80" stroke="#1a1a1a" stroke-width="0.85"/>
<line x1="502.10" y1="396.70" x2="501.30" y2="398.80" stroke="#1a1a1a" stroke-width="0.85"/>
<line x1="507.80" y1="405.70" x2="505.90" y2="407.10" stroke="#1a1a1a" stroke-width="0.85"/>
<line x1="486.90" y1="414.10" x2="489.50" y2="414.40" stroke="#1a1a1a" stroke-width="0.85"/>
<line x1="504.60" y1="413.80" x2="506.90" y2="413.00" stroke="#1a1a1a" stroke-width="0.85"/>
<line x1="486.90" y1="423.80" x2="489.50" y2="423.30" stroke="#1a1a1a" stroke-width="0.85"/>
<line x1="504.60" y1="423.80" x2="507.10" y2="424.80" stroke="#1a1a1a" stroke-width="0.85"/>
<line x1="508.10" y1="429.90" x2="506.20" y2="428.70" stroke="#1a1a1a" stroke-width="0.85"/>
<line x1="501.50" y1="435.70" x2="500.50" y2="434.10" stroke="#1a1a1a" stroke-width="0.85"/>
<line x1="493.10" y1="442.10" x2="493.10" y2="439.90" stroke="#1a1a1a" stroke-width="0.85"/>
<circle cx="493.30" cy="390.40" r="4.10" fill="#E6E61E"/>
<circle cx="493.05" cy="390.10" r="3.20" fill="#F4F42A"/>
<circle cx="492.90" cy="389.90" r="1.84" fill="#FBFB55"/>
<text x="489.85" y="393.60" font-size="5.25" fill="#1a1a1a" textLength="6.90" lengthAdjust="spacingAndGlyphs" stroke="#1a1a1a" stroke-width="0.1">SH</text>
<circle cx="503.20" cy="392.90" r="4.10" fill="#E6E61E"/>
<circle cx="502.95" cy="392.60" r="3.20" fill="#F4F42A"/>
<circle cx="502.80" cy="392.40" r="1.84" fill="#FBFB55"/>
<text x="499.75" y="396.10" font-size="5.25" fill="#1a1a1a" textLength="6.90" lengthAdjust="spacingAndGlyphs" stroke="#1a1a1a" stroke-width="0.1">SH</text>
<circle cx="493.00" cy="414.20" r="3.30" fill="#E6E61E"/>
<circle cx="492.75" cy="413.90" r="2.57" fill="#F4F42A"/>
<circle cx="492.60" cy="413.70" r="1.48" fill="#FBFB55"/>
<text x="491.50" y="416.90" font-size="6.41" fill="#1a1a1a" textLength="3.60" lengthAdjust="spacingAndGlyphs" stroke="none">S</text>
<circle cx="500.70" cy="414.20" r="3.30" fill="#E6E61E"/>
<circle cx="500.45" cy="413.90" r="2.57" fill="#F4F42A"/>
<circle cx="500.30" cy="413.70" r="1.48" fill="#FBFB55"/>
<text x="499.20" y="416.90" font-size="6.41" fill="#1a1a1a" textLength="3.60" lengthAdjust="spacingAndGlyphs" stroke="none">S</text>
<circle cx="492.90" cy="422.50" r="3.30" fill="#E6E61E"/>
<circle cx="492.65" cy="422.20" r="2.57" fill="#F4F42A"/>
<circle cx="492.50" cy="422.00" r="1.48" fill="#FBFB55"/>
<text x="491.40" y="425.20" font-size="6.41" fill="#1a1a1a" textLength="3.60" lengthAdjust="spacingAndGlyphs" stroke="none">S</text>
<circle cx="500.70" cy="422.50" r="3.30" fill="#E6E61E"/>
<circle cx="500.45" cy="422.20" r="2.57" fill="#F4F42A"/>
<circle cx="500.30" cy="422.00" r="1.48" fill="#FBFB55"/>
<text x="499.20" y="425.20" font-size="6.41" fill="#1a1a1a" textLength="3.60" lengthAdjust="spacingAndGlyphs" stroke="none">S</text>
<circle cx="503.90" cy="439.40" r="4.10" fill="#E6E61E"/>
<circle cx="503.65" cy="439.10" r="3.20" fill="#F4F42A"/>
<circle cx="503.50" cy="438.90" r="1.84" fill="#FBFB55"/>
<text x="500.45" y="442.60" font-size="5.25" fill="#1a1a1a" textLength="6.90" lengthAdjust="spacingAndGlyphs" stroke="#1a1a1a" stroke-width="0.1">SH</text>
<circle cx="493.30" cy="446.30" r="4.10" fill="#E6E61E"/>
<circle cx="493.05" cy="446.00" r="3.20" fill="#F4F42A"/>
<circle cx="492.90" cy="445.80" r="1.84" fill="#FBFB55"/>
<text x="489.85" y="449.50" font-size="5.25" fill="#1a1a1a" textLength="6.90" lengthAdjust="spacingAndGlyphs" stroke="#1a1a1a" stroke-width="0.1">SH</text>
<circle cx="510.90" cy="403.10" r="4.10" fill="#E6E61E"/>
<circle cx="510.65" cy="402.80" r="3.20" fill="#F4F42A"/>
<circle cx="510.50" cy="402.60" r="1.84" fill="#FBFB55"/>
<text x="508.90" y="406.40" font-size="6.93" fill="#1a1a1a" textLength="4.00" lengthAdjust="spacingAndGlyphs" stroke="#1a1a1a" stroke-width="0.1">S</text>
<circle cx="511.50" cy="432.70" r="4.10" fill="#E6E61E"/>
<circle cx="511.25" cy="432.40" r="3.20" fill="#F4F42A"/>
<circle cx="511.10" cy="432.20" r="1.84" fill="#FBFB55"/>
<text x="509.50" y="436.00" font-size="6.93" fill="#1a1a1a" textLength="4.00" lengthAdjust="spacingAndGlyphs" stroke="#1a1a1a" stroke-width="0.1">S</text>
<path d="M515.40,400.90 L513.60,403.04 A2.8,2.8 0 1,0 512.64,400.41 Z" fill="#E8101A"/>
<path d="M516.10,435.20 L513.31,435.44 A2.8,2.8 0 1,0 514.49,432.91 Z" fill="#E8101A"/>
<text x="539.30" y="400.00" font-size="8.51" fill="#1a1a1a" textLength="13.40" lengthAdjust="spacingAndGlyphs" stroke="#1a1a1a" stroke-width="0.1">S-S</text>
<text x="528.10" y="409.10" font-size="8.51" fill="#1a1a1a" textLength="39.30" lengthAdjust="spacingAndGlyphs" stroke="#1a1a1a" stroke-width="0.1">formation</text>
<line x1="524.40" y1="415.70" x2="568.70" y2="415.70" stroke="#000" stroke-width="1.25"/>
<polygon points="574.70,415.70 567.70,412.80 569.30,415.70 567.70,418.60" fill="#000" stroke="none" stroke-width="0"/>
<line x1="570.00" y1="415.60" x2="616.60" y2="415.60" stroke="#000" stroke-width="1.25"/>
<polygon points="622.60,415.60 615.60,412.70 617.20,415.60 615.60,418.50" fill="#000" stroke="none" stroke-width="0"/>
<path d="M539.00,415.70 Q551.00,416.00 551.20,432.30" fill="none" stroke="#000" stroke-width="0.9"/>
<polygon points="551.22,433.80 548.75,428.43 551.17,430.02 553.55,428.37" fill="#000" stroke="none" stroke-width="0"/>
<text x="542.40" y="442.20" font-size="8.51" fill="#1a1a1a" textLength="6.09" lengthAdjust="spacingAndGlyphs" stroke="#1a1a1a" stroke-width="0.1">H</text>
<text x="548.49" y="444.60" font-size="4.93" fill="#1a1a1a" textLength="2.99" lengthAdjust="spacingAndGlyphs">2</text>
<text x="551.48" y="442.20" font-size="8.51" fill="#1a1a1a" textLength="6.38" lengthAdjust="spacingAndGlyphs" stroke="#1a1a1a" stroke-width="0.1">O</text>
<text x="574.80" y="400.30" font-size="8.51" fill="#1a1a1a" textLength="36.60" lengthAdjust="spacingAndGlyphs" stroke="#1a1a1a" stroke-width="0.1">1.Cys-OH</text>
<text x="583.80" y="409.50" font-size="8.51" fill="#1a1a1a" textLength="21.00" lengthAdjust="spacingAndGlyphs" stroke="#1a1a1a" stroke-width="0.1">2.S-S</text>
<path d="M576.90,430.50 Q594.00,403.50 612.00,426.50" fill="none" stroke="#000" stroke-width="0.9"/>
<polygon points="612.92,427.68 607.71,424.91 610.59,424.70 611.49,421.95" fill="#000" stroke="none" stroke-width="0"/>
<text x="567.70" y="440.20" font-size="8.51" fill="#1a1a1a" textLength="6.09" lengthAdjust="spacingAndGlyphs" stroke="#1a1a1a" stroke-width="0.1">H</text>
<text x="573.79" y="442.60" font-size="4.93" fill="#1a1a1a" textLength="2.99" lengthAdjust="spacingAndGlyphs">2</text>
<text x="576.78" y="440.20" font-size="8.51" fill="#1a1a1a" textLength="6.38" lengthAdjust="spacingAndGlyphs" stroke="#1a1a1a" stroke-width="0.1">O</text>
<text x="583.16" y="442.60" font-size="4.93" fill="#1a1a1a" textLength="2.99" lengthAdjust="spacingAndGlyphs">2</text>
<text x="608.90" y="440.00" font-size="8.51" fill="#1a1a1a" textLength="6.09" lengthAdjust="spacingAndGlyphs" stroke="#1a1a1a" stroke-width="0.1">H</text>
<text x="614.99" y="442.40" font-size="4.93" fill="#1a1a1a" textLength="2.99" lengthAdjust="spacingAndGlyphs">2</text>
<text x="617.98" y="440.00" font-size="8.51" fill="#1a1a1a" textLength="6.38" lengthAdjust="spacingAndGlyphs" stroke="#1a1a1a" stroke-width="0.1">O</text>
<path d="M631.50,398.90 C632.30,397.65 634.45,396.25 635.90,395.60 C637.35,394.95 640.24,394.36 642.40,394.00 C644.56,393.64 649.35,392.98 652.10,392.90 C654.85,392.82 660.53,393.19 663.00,393.40 C665.47,393.61 669.08,394.06 670.60,394.50 C672.12,394.94 673.73,395.83 674.40,396.70 C675.07,397.57 675.55,399.89 675.60,401.00 C675.65,402.11 675.28,404.25 674.80,405.00 C674.32,405.75 673.17,406.36 672.00,406.60 C670.83,406.84 667.47,406.83 666.00,406.80 C664.53,406.77 661.85,407.15 661.00,406.40 C660.15,405.65 660.27,402.11 659.60,401.20 C658.93,400.29 657.55,399.81 656.00,399.60 C654.45,399.39 649.47,399.47 648.00,399.60 C646.53,399.73 645.49,399.88 645.00,400.60 C644.51,401.32 644.41,402.68 644.30,405.00 C644.19,407.32 644.17,415.27 644.20,418.00 C644.23,420.73 644.19,424.26 644.50,425.50 C644.81,426.74 644.97,427.05 646.50,427.30 C648.03,427.55 654.15,427.57 656.00,427.40 C657.85,427.23 659.65,426.80 660.40,426.00 C661.15,425.20 660.85,422.15 661.60,421.40 C662.35,420.65 664.41,420.61 666.00,420.40 C667.59,420.19 672.09,419.65 673.50,419.80 C674.91,419.95 676.16,420.67 676.60,421.50 C677.04,422.33 676.95,424.87 676.80,426.00 C676.65,427.13 676.41,428.96 675.50,430.00 C674.59,431.04 672.07,433.11 670.00,433.80 C667.93,434.49 662.93,435.00 660.00,435.20 C657.07,435.40 650.93,435.38 648.00,435.30 C645.07,435.22 640.07,435.04 638.00,434.60 C635.93,434.16 633.57,433.15 632.50,432.00 C631.43,430.85 630.39,428.27 630.00,426.00 C629.61,423.73 629.61,417.80 629.60,415.00 C629.59,412.20 629.65,407.15 629.90,405.00 C630.15,402.85 630.70,400.15 631.50,398.90Z" fill="#BCC4DE"/>
<line x1="641.30" y1="404.80" x2="643.70" y2="404.30" stroke="#1a1a1a" stroke-width="0.85"/>
<line x1="659.30" y1="404.20" x2="661.60" y2="405.00" stroke="#1a1a1a" stroke-width="0.85"/>
<line x1="641.50" y1="411.90" x2="643.70" y2="411.70" stroke="#1a1a1a" stroke-width="0.85"/>
<line x1="659.30" y1="411.50" x2="661.00" y2="411.20" stroke="#1a1a1a" stroke-width="0.85"/>
<line x1="664.90" y1="409.40" x2="665.50" y2="406.90" stroke="#1a1a1a" stroke-width="0.85"/>
<line x1="671.20" y1="408.60" x2="670.90" y2="406.30" stroke="#1a1a1a" stroke-width="0.85"/>
<line x1="640.40" y1="423.90" x2="642.60" y2="423.80" stroke="#1a1a1a" stroke-width="0.85"/>
<line x1="658.70" y1="423.90" x2="660.90" y2="423.60" stroke="#1a1a1a" stroke-width="0.85"/>
<line x1="664.30" y1="424.10" x2="664.50" y2="426.40" stroke="#1a1a1a" stroke-width="0.85"/>
<line x1="672.00" y1="423.90" x2="671.50" y2="426.30" stroke="#1a1a1a" stroke-width="0.85"/>
<circle cx="647.80" cy="404.30" r="3.30" fill="#E6E61E"/>
<circle cx="647.55" cy="404.00" r="2.57" fill="#F4F42A"/>
<circle cx="647.40" cy="403.80" r="1.48" fill="#FBFB55"/>
<text x="646.30" y="407.00" font-size="6.41" fill="#1a1a1a" textLength="3.60" lengthAdjust="spacingAndGlyphs" stroke="none">S</text>
<circle cx="655.20" cy="404.30" r="3.30" fill="#E6E61E"/>
<circle cx="654.95" cy="404.00" r="2.57" fill="#F4F42A"/>
<circle cx="654.80" cy="403.80" r="1.48" fill="#FBFB55"/>
<text x="653.70" y="407.00" font-size="6.41" fill="#1a1a1a" textLength="3.60" lengthAdjust="spacingAndGlyphs" stroke="none">S</text>
<circle cx="647.80" cy="411.70" r="3.30" fill="#E6E61E"/>
<circle cx="647.55" cy="411.40" r="2.57" fill="#F4F42A"/>
<circle cx="647.40" cy="411.20" r="1.48" fill="#FBFB55"/>
<text x="646.30" y="414.40" font-size="6.41" fill="#1a1a1a" textLength="3.60" lengthAdjust="spacingAndGlyphs" stroke="none">S</text>
<circle cx="655.40" cy="411.70" r="3.30" fill="#E6E61E"/>
<circle cx="655.15" cy="411.40" r="2.57" fill="#F4F42A"/>
<circle cx="655.00" cy="411.20" r="1.48" fill="#FBFB55"/>
<text x="653.90" y="414.40" font-size="6.41" fill="#1a1a1a" textLength="3.60" lengthAdjust="spacingAndGlyphs" stroke="none">S</text>
<circle cx="664.30" cy="413.50" r="3.30" fill="#E6E61E"/>
<circle cx="664.05" cy="413.20" r="2.57" fill="#F4F42A"/>
<circle cx="663.90" cy="413.00" r="1.48" fill="#FBFB55"/>
<text x="662.80" y="416.20" font-size="6.41" fill="#1a1a1a" textLength="3.60" lengthAdjust="spacingAndGlyphs" stroke="none">S</text>
<circle cx="671.90" cy="412.70" r="3.30" fill="#E6E61E"/>
<circle cx="671.65" cy="412.40" r="2.57" fill="#F4F42A"/>
<circle cx="671.50" cy="412.20" r="1.48" fill="#FBFB55"/>
<text x="670.40" y="415.40" font-size="6.41" fill="#1a1a1a" textLength="3.60" lengthAdjust="spacingAndGlyphs" stroke="none">S</text>
<circle cx="646.70" cy="423.80" r="3.30" fill="#E6E61E"/>
<circle cx="646.45" cy="423.50" r="2.57" fill="#F4F42A"/>
<circle cx="646.30" cy="423.30" r="1.48" fill="#FBFB55"/>
<text x="645.20" y="426.50" font-size="6.41" fill="#1a1a1a" textLength="3.60" lengthAdjust="spacingAndGlyphs" stroke="none">S</text>
<circle cx="654.60" cy="423.80" r="3.30" fill="#E6E61E"/>
<circle cx="654.35" cy="423.50" r="2.57" fill="#F4F42A"/>
<circle cx="654.20" cy="423.30" r="1.48" fill="#FBFB55"/>
<text x="653.10" y="426.50" font-size="6.41" fill="#1a1a1a" textLength="3.60" lengthAdjust="spacingAndGlyphs" stroke="none">S</text>
<circle cx="664.10" cy="420.00" r="3.30" fill="#E6E61E"/>
<circle cx="663.85" cy="419.70" r="2.57" fill="#F4F42A"/>
<circle cx="663.70" cy="419.50" r="1.48" fill="#FBFB55"/>
<text x="662.60" y="422.70" font-size="6.41" fill="#1a1a1a" textLength="3.60" lengthAdjust="spacingAndGlyphs" stroke="none">S</text>
<circle cx="672.20" cy="419.80" r="3.30" fill="#E6E61E"/>
<circle cx="671.95" cy="419.50" r="2.57" fill="#F4F42A"/>
<circle cx="671.80" cy="419.30" r="1.48" fill="#FBFB55"/>
<text x="670.70" y="422.50" font-size="6.41" fill="#1a1a1a" textLength="3.60" lengthAdjust="spacingAndGlyphs" stroke="none">S</text>
</svg>
</body></html>
